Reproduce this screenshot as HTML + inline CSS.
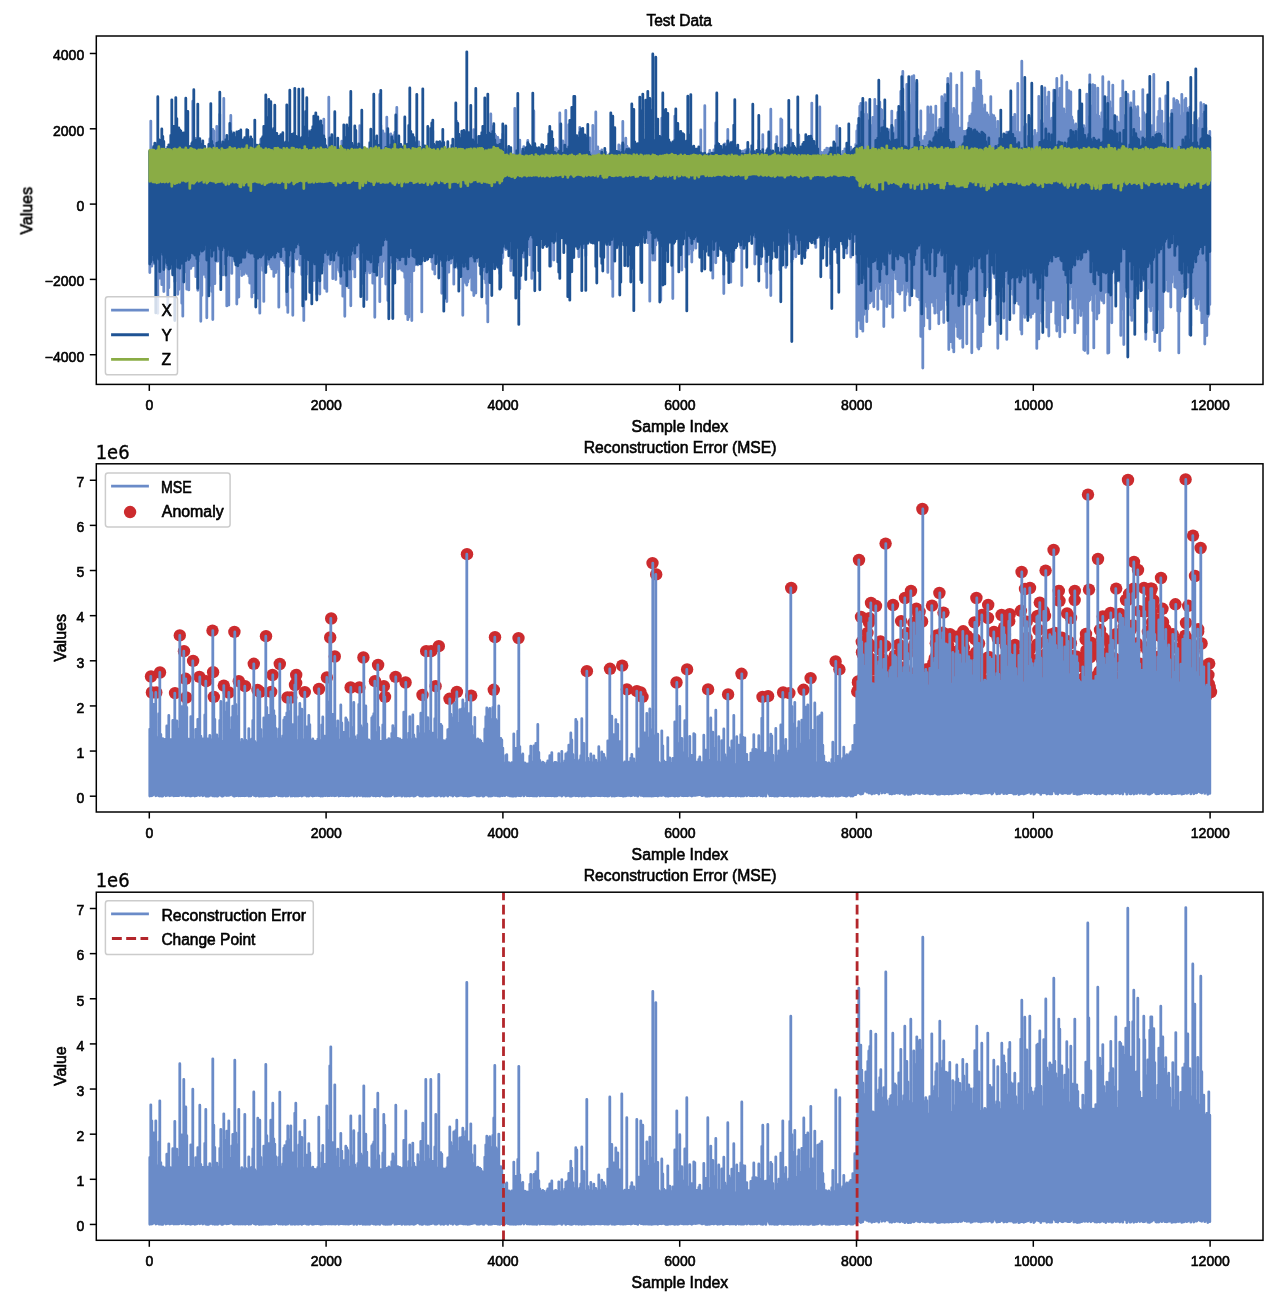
<!DOCTYPE html><html><head><meta charset="utf-8"><title>Test Data / Reconstruction Error</title><style>html,body{margin:0;padding:0;background:#fff;overflow:hidden}svg{display:block;filter:blur(0.45px)}text{font-family:'Liberation Sans', sans-serif;fill:#000;stroke:#000;stroke-width:0.6px;paint-order:stroke}</style></head><body>
<svg width="1280" height="1299" viewBox="0 0 1280 1299">
<rect width="1280" height="1299" fill="#fff"/>
<g style="opacity:0.999">
<g fill="none" stroke-width="2.8" stroke-linecap="round" stroke-linejoin="round">
<path stroke="#6a8bc8" d="M149.8 272.6V151.7M150.8 262.8V121.1M151.8 266.2V149.7M152.8 262.6V148.0M153.8 263.3V147.8M154.8 263.3V147.2M155.8 260.7V152.4M156.8 271.5V143.6M157.8 313.3V150.0M158.8 267.7V143.4M159.8 278.1V145.1M160.8 269.9V147.3M161.8 284.7V149.2M162.8 265.4V145.6M163.8 291.5V146.6M164.8 260.3V152.1M165.8 263.7V152.0M166.8 267.4V151.4M167.8 313.9V151.9M168.8 287.8V157.3M169.8 265.0V158.6M170.8 259.0V161.5M171.8 259.5V163.6M172.8 273.6V157.3M173.8 272.4V160.5M174.8 281.6V163.3M175.8 261.2V159.9M176.8 265.8V162.6M177.8 294.3V172.7M178.8 289.6V174.2M179.8 263.1V170.2M180.8 255.7V173.4M181.8 303.3V169.0M182.8 316.2V175.7M183.8 260.5V168.5M184.8 257.5V166.6M185.8 272.1V169.2M186.8 289.2V155.2M187.8 262.9V160.9M188.8 289.9V154.6M189.8 262.6V153.5M190.8 268.4V151.2M191.8 266.3V151.6M192.8 264.7V101.2M193.8 265.5V147.6M194.8 263.3V155.8M195.8 276.7V138.3M196.8 261.8V154.6M197.8 290.3V156.8M198.8 258.1V159.1M199.8 260.7V154.4M200.8 321.3V161.8M201.8 295.6V146.2M202.8 272.3V164.5M203.8 274.3V157.0M204.8 268.5V156.1M205.8 277.2V162.2M206.8 317.8V160.6M207.8 270.2V160.0M208.8 264.5V152.7M209.8 268.1V138.9M210.8 285.4V152.6M211.8 291.5V158.2M212.8 319.5V129.4M213.8 262.7V131.0M214.8 283.7V152.2M215.8 255.1V158.5M216.8 261.2V126.3M217.8 261.2V156.6M218.8 255.4V152.1M219.8 259.1V114.3M220.8 274.1V163.4M221.8 260.9V155.7M222.8 274.9V156.1M223.8 264.0V98.4M224.8 251.9V163.0M225.8 253.5V161.2M226.8 305.9V163.8M227.8 291.9V159.1M228.8 305.1V166.3M229.8 247.7V158.1M230.8 250.2V115.5M231.8 273.4V164.9M232.8 250.1V158.7M233.8 258.2V160.8M234.8 259.4V156.6M235.8 261.0V155.8M236.8 304.0V156.9M237.8 267.1V153.8M238.8 297.1V144.0M239.8 268.7V151.8M240.8 266.3V145.0M241.8 275.6V141.2M242.8 267.0V142.7M243.8 274.3V139.6M244.8 271.4V149.9M245.8 270.8V146.6M246.8 273.4V147.8M247.8 268.4V158.8M248.8 276.1V153.3M249.8 283.0V157.0M250.8 282.5V157.7M251.8 297.0V152.6M252.8 286.1V152.3M253.8 292.6V149.6M254.8 264.8V152.2M255.8 263.4V150.2M256.8 264.3V155.8M257.8 298.0V153.1M258.8 282.4V152.1M259.8 313.2V156.5M260.8 259.5V139.4M261.8 265.5V155.7M262.8 270.4V148.4M263.8 301.4V150.3M264.8 268.0V148.7M265.8 264.5V157.6M266.8 264.6V148.2M267.8 261.8V147.6M268.8 260.0V151.1M269.8 264.4V151.2M270.8 267.1V148.1M271.8 268.9V153.8M272.8 260.3V152.3M273.8 276.4V160.5M274.8 256.9V152.6M275.8 272.5V161.5M276.8 269.0V162.0M277.8 267.8V156.2M278.8 307.2V159.4M279.8 258.5V161.6M280.8 259.2V156.7M281.8 255.8V159.1M282.8 260.6V153.3M283.8 261.1V157.0M284.8 262.9V152.8M285.8 265.7V158.6M286.8 305.2V154.0M287.8 312.4V144.7M288.8 266.6V152.0M289.8 265.3V155.6M290.8 261.3V153.9M291.8 287.6V147.1M292.8 315.3V148.9M293.8 272.2V156.4M294.8 254.6V145.9M295.8 257.6V147.0M296.8 259.0V149.2M297.8 256.9V146.2M298.8 247.0V158.1M299.8 265.0V147.1M300.8 245.7V155.1M301.8 274.5V155.7M302.8 253.7V145.0M303.8 320.6V163.7M304.8 254.3V167.3M305.8 278.5V165.4M306.8 274.2V173.3M307.8 252.2V157.8M308.8 251.9V130.9M309.8 255.1V161.2M310.8 261.2V164.5M311.8 290.5V149.4M312.8 280.6V162.6M313.8 280.5V158.9M314.8 260.3V159.5M315.8 259.8V164.5M316.8 294.3V163.5M317.8 269.0V160.0M318.8 265.4V165.2M319.8 294.1V159.5M320.8 270.4V162.4M321.8 270.4V156.1M322.8 265.2V156.2M323.8 264.4V119.2M324.8 288.3V155.8M325.8 255.5V150.3M326.8 291.4V153.9M327.8 258.3V147.5M328.8 254.7V97.2M329.8 264.0V150.3M330.8 251.0V152.8M331.8 252.7V146.8M332.8 278.7V150.0M333.8 247.5V151.5M334.8 251.3V158.2M335.8 279.6V158.7M336.8 262.9V164.3M337.8 267.3V165.5M338.8 270.3V155.8M339.8 272.2V168.5M340.8 283.4V163.3M341.8 277.1V141.2M342.8 296.2V159.9M343.8 270.2V155.1M344.8 316.3V164.4M345.8 272.2V154.3M346.8 270.9V151.3M347.8 263.6V159.9M348.8 287.7V156.8M349.8 270.7V158.0M350.8 305.8V160.2M351.8 257.5V156.1M352.8 268.9V161.8M353.8 249.1V158.8M354.8 276.9V158.3M355.8 256.5V165.0M356.8 256.9V162.4M357.8 256.1V160.1M358.8 249.5V154.3M359.8 259.3V125.6M360.8 257.1V126.9M361.8 282.3V163.5M362.8 283.3V150.5M363.8 258.7V148.9M364.8 272.8V156.0M365.8 264.5V154.4M366.8 299.5V157.4M367.8 269.6V161.5M368.8 270.4V162.6M369.8 272.9V155.1M370.8 271.3V155.4M371.8 266.9V157.9M372.8 283.2V156.0M373.8 267.9V164.7M374.8 317.3V165.1M375.8 271.5V161.3M376.8 264.1V160.8M377.8 264.6V160.2M378.8 265.3V149.0M379.8 301.7V94.4M380.8 257.2V125.2M381.8 276.6V140.6M382.8 261.4V130.9M383.8 257.7V146.2M384.8 259.8V133.8M385.8 284.0V140.8M386.8 257.2V117.2M387.8 300.4V141.2M388.8 260.1V134.6M389.8 268.2V142.1M390.8 260.8V134.0M391.8 262.0V139.9M392.8 260.8V136.8M393.8 263.1V135.4M394.8 261.4V132.4M395.8 261.0V143.3M396.8 259.2V107.5M397.8 269.0V150.9M398.8 268.2V148.3M399.8 268.3V144.3M400.8 260.6V155.9M401.8 270.2V153.1M402.8 270.5V155.3M403.8 271.4V154.0M404.8 277.5V148.0M405.8 313.8V155.3M406.8 284.5V160.1M407.8 319.7V162.2M408.8 317.2V161.9M409.8 273.1V151.8M410.8 281.8V154.8M411.8 320.6V159.6M412.8 271.0V152.5M413.8 270.7V148.2M414.8 265.1V142.2M415.8 261.8V146.8M416.8 261.7V146.1M417.8 264.9V146.5M418.8 260.6V142.0M419.8 256.1V154.3M420.8 255.6V148.4M421.8 311.9V158.1M422.8 255.1V157.3M423.8 247.8V155.5M424.8 246.8V162.4M425.8 243.1V163.0M426.8 259.9V165.2M427.8 246.7V170.4M428.8 238.6V160.6M429.8 243.1V166.0M430.8 244.4V163.8M431.8 262.1V165.1M432.8 269.3V130.7M433.8 265.4V160.8M434.8 274.0V158.2M435.8 252.3V161.8M436.8 262.0V159.1M437.8 258.7V155.5M438.8 261.8V156.9M439.8 260.7V155.8M440.8 259.0V157.8M441.8 293.3V155.5M442.8 249.9V158.0M443.8 247.4V164.7M444.8 297.5V161.7M445.8 253.0V157.4M446.8 301.5V150.8M447.8 247.3V162.9M448.8 272.2V167.3M449.8 256.1V158.6M450.8 263.1V152.9M451.8 251.6V163.1M452.8 257.2V161.3M453.8 284.2V161.3M454.8 252.6V155.9M455.8 260.3V166.9M456.8 262.6V121.4M457.8 268.1V159.9M458.8 264.2V160.1M459.8 274.5V160.8M460.8 274.1V158.3M461.8 275.8V158.0M462.8 315.3V167.4M463.8 280.6V165.1M464.8 281.3V163.1M465.8 283.2V171.5M466.8 285.2V130.6M467.8 282.0V165.3M468.8 278.5V167.6M469.8 276.9V171.4M470.8 274.3V168.0M471.8 290.1V164.6M472.8 269.0V147.1M473.8 295.6V129.6M474.8 272.4V158.5M475.8 293.1V153.2M476.8 261.6V156.8M477.8 255.5V156.4M478.8 251.5V154.8M479.8 254.6V153.3M480.8 254.1V138.0M481.8 255.1V155.6M482.8 270.2V153.1M483.8 252.7V150.7M484.8 279.0V155.1M485.8 283.0V149.1M486.8 303.5V147.4M487.8 321.9V147.2M488.8 250.6V136.2M489.8 257.4V138.5M490.8 256.9V113.9M491.8 254.8V126.4M492.8 268.5V133.1M493.8 258.7V134.5M494.8 264.0V134.2M495.8 261.2V136.0M496.8 264.7V138.9M497.8 266.6V137.5M498.8 268.6V143.8M499.8 273.6V140.1M500.8 263.9V147.4M501.8 263.6V146.0M502.8 257.7V134.1M503.8 238.9V149.3M504.8 238.7V150.5M505.8 249.5V152.9M506.8 233.4V149.6M507.8 237.2V151.4M508.8 234.7V150.1M509.8 235.9V155.1M510.8 270.7V149.9M511.8 235.3V156.4M512.8 246.8V154.7M513.8 238.2V156.0M514.8 231.6V108.4M515.8 235.1V154.8M516.8 231.8V155.3M517.8 232.4V153.9M518.8 230.5V156.2M519.8 288.7V140.1M520.8 271.3V151.4M521.8 235.4V152.7M522.8 233.4V155.2M523.8 257.2V146.6M524.8 239.5V150.1M525.8 232.6V154.1M526.8 230.7V151.7M527.8 234.8V140.5M528.8 246.8V149.3M529.8 254.8V153.5M530.8 233.8V156.7M531.8 278.4V157.5M532.8 247.5V155.7M533.8 261.3V111.0M534.8 241.4V157.3M535.8 241.2V156.3M536.8 237.5V160.3M537.8 241.1V160.9M538.8 240.9V161.1M539.8 234.0V157.9M540.8 231.5V159.5M541.8 231.3V155.6M542.8 228.7V162.5M543.8 226.3V159.5M544.8 223.6V152.3M545.8 229.7V153.4M546.8 225.4V156.2M547.8 228.5V146.9M548.8 222.9V145.2M549.8 225.9V150.1M550.8 266.1V148.8M551.8 233.5V151.0M552.8 234.4V152.9M553.8 260.1V148.3M554.8 232.6V149.9M555.8 241.1V148.0M556.8 237.3V149.0M557.8 230.4V150.4M558.8 227.6V150.0M559.8 229.7V112.9M560.8 229.9V154.7M561.8 228.1V152.0M562.8 226.7V141.0M563.8 225.5V150.4M564.8 231.0V150.7M565.8 228.6V110.3M566.8 243.9V152.1M567.8 226.9V151.2M568.8 231.4V124.6M569.8 229.6V143.6M570.8 236.8V146.7M571.8 231.5V148.7M572.8 233.8V151.1M573.8 233.0V150.4M574.8 237.3V154.2M575.8 240.1V149.2M576.8 231.2V145.4M577.8 234.8V152.7M578.8 256.8V154.5M579.8 230.1V127.3M580.8 234.0V157.4M581.8 232.5V155.5M582.8 240.5V158.4M583.8 247.6V153.7M584.8 234.3V156.1M585.8 255.7V154.1M586.8 230.1V136.1M587.8 243.4V154.8M588.8 231.5V154.1M589.8 234.5V137.8M590.8 236.8V153.7M591.8 235.2V156.7M592.8 235.3V125.4M593.8 238.8V151.4M594.8 234.1V156.5M595.8 244.0V112.0M596.8 230.5V151.1M597.8 231.3V146.9M598.8 234.3V152.1M599.8 235.5V151.3M600.8 235.1V151.9M601.8 240.8V150.0M602.8 233.2V156.8M603.8 234.1V155.0M604.8 234.3V156.3M605.8 231.5V152.5M606.8 234.0V157.5M607.8 272.4V159.7M608.8 235.1V161.6M609.8 230.9V162.4M610.8 240.4V153.3M611.8 279.0V164.0M612.8 296.4V162.5M613.8 234.3V161.3M614.8 238.9V163.6M615.8 238.8V153.2M616.8 247.9V160.2M617.8 237.5V157.9M618.8 238.8V145.0M619.8 237.9V155.0M620.8 238.8V150.0M621.8 239.9V145.5M622.8 238.0V121.5M623.8 235.7V146.8M624.8 237.6V144.9M625.8 235.1V138.2M626.8 233.0V146.1M627.8 231.6V147.8M628.8 235.8V148.4M629.8 230.8V153.1M630.8 227.7V155.6M631.8 235.9V150.8M632.8 248.1V154.1M633.8 228.0V159.4M634.8 228.8V157.3M635.8 232.5V159.0M636.8 232.0V160.5M637.8 231.8V161.3M638.8 236.9V159.8M639.8 235.6V160.5M640.8 235.5V160.3M641.8 235.9V162.7M642.8 235.2V161.4M643.8 236.9V161.1M644.8 233.8V161.7M645.8 233.9V164.5M646.8 236.9V114.8M647.8 242.7V158.5M648.8 235.5V158.9M649.8 301.2V156.3M650.8 243.6V160.8M651.8 246.7V119.4M652.8 260.0V158.6M653.8 236.9V159.9M654.8 260.1V154.2M655.8 245.0V155.2M656.8 239.7V154.0M657.8 240.3V151.6M658.8 238.9V151.5M659.8 243.5V155.6M660.8 300.3V149.7M661.8 261.3V118.1M662.8 257.8V148.8M663.8 243.6V135.9M664.8 242.8V162.1M665.8 248.2V163.3M666.8 243.1V157.5M667.8 244.8V164.1M668.8 239.9V158.6M669.8 235.0V157.1M670.8 240.8V159.4M671.8 237.3V146.0M672.8 298.5V152.4M673.8 237.6V150.8M674.8 234.5V116.1M675.8 229.6V152.5M676.8 229.8V155.8M677.8 235.8V149.0M678.8 233.3V149.9M679.8 254.8V155.4M680.8 232.5V155.3M681.8 270.1V153.8M682.8 231.6V153.1M683.8 233.9V154.4M684.8 233.4V155.7M685.8 267.0V155.9M686.8 236.2V154.1M687.8 235.2V154.5M688.8 254.2V159.2M689.8 248.8V157.4M690.8 233.5V163.2M691.8 262.0V166.5M692.8 250.3V161.5M693.8 240.5V162.9M694.8 233.1V162.6M695.8 248.2V159.9M696.8 231.4V155.4M697.8 234.2V153.1M698.8 235.8V148.7M699.8 234.3V154.6M700.8 242.6V130.0M701.8 234.2V154.3M702.8 236.3V157.2M703.8 236.7V158.1M704.8 238.0V105.7M705.8 236.3V159.9M706.8 237.6V159.5M707.8 236.8V160.9M708.8 237.9V153.7M709.8 240.0V150.4M710.8 241.7V155.4M711.8 237.4V157.0M712.8 278.2V153.0M713.8 238.6V150.0M714.8 234.8V158.2M715.8 262.8V123.0M716.8 255.0V151.1M717.8 228.7V154.1M718.8 233.6V156.9M719.8 235.0V155.0M720.8 226.8V159.2M721.8 227.8V158.8M722.8 227.1V157.7M723.8 293.5V150.8M724.8 230.7V143.9M725.8 244.6V153.7M726.8 255.9V158.8M727.8 228.7V129.4M728.8 225.0V153.5M729.8 232.2V157.5M730.8 282.2V152.8M731.8 229.0V156.1M732.8 227.8V157.7M733.8 260.6V154.6M734.8 227.1V157.5M735.8 228.7V154.6M736.8 227.9V161.8M737.8 230.9V156.7M738.8 229.5V154.3M739.8 233.6V160.7M740.8 247.8V151.5M741.8 285.5V156.6M742.8 233.8V151.1M743.8 232.3V154.8M744.8 245.3V150.5M745.8 231.2V149.8M746.8 226.1V149.8M747.8 230.5V154.7M748.8 231.5V149.4M749.8 228.9V155.9M750.8 231.5V152.0M751.8 233.1V153.3M752.8 236.2V155.5M753.8 235.7V155.4M754.8 264.0V157.9M755.8 252.5V152.0M756.8 235.4V155.0M757.8 238.9V151.3M758.8 237.2V140.7M759.8 263.4V152.9M760.8 263.9V153.5M761.8 245.1V161.7M762.8 243.6V134.7M763.8 244.6V163.5M764.8 239.1V171.3M765.8 271.5V167.7M766.8 287.6V173.3M767.8 238.1V168.5M768.8 236.6V172.7M769.8 236.5V171.5M770.8 295.6V109.2M771.8 258.6V165.2M772.8 231.7V163.0M773.8 229.0V159.2M774.8 227.2V160.8M775.8 231.7V160.2M776.8 232.6V136.6M777.8 237.2V156.1M778.8 236.5V154.8M779.8 269.8V158.8M780.8 237.1V118.8M781.8 237.6V119.8M782.8 240.4V156.0M783.8 242.7V158.5M784.8 244.8V158.2M785.8 267.4V157.9M786.8 237.5V160.8M787.8 238.1V157.9M788.8 241.5V150.7M789.8 243.6V155.3M790.8 238.4V129.9M791.8 261.9V156.1M792.8 258.9V152.7M793.8 236.7V155.1M794.8 240.4V157.6M795.8 256.8V154.2M796.8 233.7V160.2M797.8 241.3V162.1M798.8 243.2V135.0M799.8 238.5V158.3M800.8 239.1V166.5M801.8 238.4V164.9M802.8 244.9V160.8M803.8 240.4V163.9M804.8 242.7V160.5M805.8 250.4V156.1M806.8 239.8V157.2M807.8 238.6V154.7M808.8 240.8V155.2M809.8 236.9V154.4M810.8 235.9V153.9M811.8 236.6V103.1M812.8 235.6V150.8M813.8 231.1V152.9M814.8 230.5V153.6M815.8 247.4V154.9M816.8 227.5V153.3M817.8 231.5V152.6M818.8 237.2V157.4M819.8 235.1V107.0M820.8 230.5V152.1M821.8 230.5V154.3M822.8 232.0V152.6M823.8 243.2V152.1M824.8 236.2V150.2M825.8 237.2V151.9M826.8 238.2V148.1M827.8 240.4V152.2M828.8 239.2V148.7M829.8 246.8V152.2M830.8 278.1V152.4M831.8 242.5V150.7M832.8 248.5V152.6M833.8 240.1V155.2M834.8 241.2V154.4M835.8 240.4V157.6M836.8 252.2V125.9M837.8 239.9V154.3M838.8 240.9V156.7M839.8 239.6V161.5M840.8 237.6V155.0M841.8 237.6V155.3M842.8 236.2V151.4M843.8 247.1V152.8M844.8 235.1V149.0M845.8 233.8V149.7M846.8 253.2V156.4M847.8 232.6V146.2M848.8 228.9V149.8M849.8 238.3V149.8M850.8 257.2V147.2M851.8 246.2V153.5M852.8 238.7V152.7M853.8 241.7V156.4M854.8 240.8V151.6M855.8 239.4V144.4M856.8 336.7V130.9M857.8 315.3V125.3M858.8 320.2V146.3M859.8 315.8V106.2M860.8 328.7V103.5M861.8 324.2V130.0M862.8 331.2V132.1M863.8 314.6V125.5M864.8 307.6V114.4M865.8 298.5V102.7M866.8 321.7V114.5M867.8 309.1V128.7M868.8 292.2V120.8M869.8 302.9V128.8M870.8 301.5V131.3M871.8 300.6V125.4M872.8 298.7V117.3M873.8 306.8V121.2M874.8 288.9V99.5M875.8 286.2V106.7M876.8 285.5V106.3M877.8 309.3V111.7M878.8 288.7V112.0M879.8 282.5V102.1M880.8 284.8V109.2M881.8 299.1V109.8M882.8 298.4V121.0M883.8 326.6V136.1M884.8 282.8V137.1M885.8 281.8V142.4M886.8 306.5V139.7M887.8 280.6V149.5M888.8 283.0V129.7M889.8 303.7V142.5M890.8 290.3V145.0M891.8 278.8V111.1M892.8 317.3V127.6M893.8 272.2V132.7M894.8 272.0V135.1M895.8 278.8V120.5M896.8 273.5V135.6M897.8 291.8V112.5M898.8 278.8V116.8M899.8 294.0V107.7M900.8 277.1V91.4M901.8 290.2V115.3M902.8 276.1V71.5M903.8 283.5V112.0M904.8 310.5V121.3M905.8 294.7V123.5M906.8 287.6V84.3M907.8 281.9V100.1M908.8 291.5V102.4M909.8 305.0V105.5M910.8 285.4V111.5M911.8 284.3V76.7M912.8 287.5V98.9M913.8 274.5V75.6M914.8 288.3V92.1M915.8 277.2V109.4M916.8 296.2V83.0M917.8 296.8V129.6M918.8 296.0V137.0M919.8 300.1V138.9M920.8 336.4V111.0M921.8 310.3V146.9M922.8 368.0V140.9M923.8 326.1V147.3M924.8 302.0V136.5M925.8 286.0V145.3M926.8 306.5V132.3M927.8 317.9V106.9M928.8 302.9V136.8M929.8 328.9V114.6M930.8 301.7V107.0M931.8 302.0V127.0M932.8 301.7V115.0M933.8 306.1V133.1M934.8 313.2V139.2M935.8 297.7V106.1M936.8 297.6V134.4M937.8 313.0V132.4M938.8 323.8V127.6M939.8 286.9V119.3M940.8 309.6V125.1M941.8 280.3V96.7M942.8 308.5V113.3M943.8 322.5V98.6M944.8 277.6V94.6M945.8 291.5V114.8M946.8 300.2V111.3M947.8 305.0V78.3M948.8 349.5V118.0M949.8 284.2V86.0M950.8 341.7V73.6M951.8 292.8V114.5M952.8 347.8V132.1M953.8 351.9V108.5M954.8 322.1V110.5M955.8 303.5V132.1M956.8 326.8V85.1M957.8 336.5V115.7M958.8 305.4V141.0M959.8 338.4V128.1M960.8 337.7V129.8M961.8 337.3V72.8M962.8 347.3V131.5M963.8 301.7V131.4M964.8 301.1V145.8M965.8 301.3V131.1M966.8 343.8V130.9M967.8 298.8V134.4M968.8 304.2V122.9M969.8 301.8V116.2M970.8 297.2V116.7M971.8 352.8V113.9M972.8 296.9V102.8M973.8 297.8V88.1M974.8 289.9V90.9M975.8 288.6V103.9M976.8 313.4V71.5M977.8 347.3V73.6M978.8 349.0V71.6M979.8 299.2V98.1M980.8 345.9V80.5M981.8 297.5V95.9M982.8 331.7V111.8M983.8 316.6V108.6M984.8 294.3V104.8M985.8 290.1V117.9M986.8 287.1V112.9M987.8 271.8V114.8M988.8 266.8V117.1M989.8 292.8V117.9M990.8 298.4V96.6M991.8 266.0V114.6M992.8 268.9V123.5M993.8 272.0V115.7M994.8 277.6V117.8M995.8 272.9V129.2M996.8 321.0V137.0M997.8 348.3V121.3M998.8 284.5V148.5M999.8 294.6V150.2M1000.8 297.1V139.7M1001.8 283.7V144.4M1002.8 282.6V144.7M1003.8 318.0V139.6M1004.8 276.7V136.6M1005.8 273.3V138.3M1006.8 339.4V132.2M1007.8 281.2V150.3M1008.8 276.0V145.1M1009.8 277.8V147.3M1010.8 273.5V148.4M1011.8 288.8V145.1M1012.8 294.4V117.3M1013.8 313.2V146.7M1014.8 296.2V114.4M1015.8 291.3V131.8M1016.8 300.7V143.4M1017.8 289.5V83.4M1018.8 304.0V145.4M1019.8 304.5V132.6M1020.8 329.7V151.1M1021.8 334.1V61.2M1022.8 310.6V159.6M1023.8 313.5V164.3M1024.8 317.4V126.7M1025.8 312.7V124.5M1026.8 314.1V165.6M1027.8 306.1V136.7M1028.8 313.1V153.9M1029.8 315.0V133.4M1030.8 317.3V118.7M1031.8 300.3V145.3M1032.8 313.5V143.1M1033.8 297.9V136.3M1034.8 311.6V130.5M1035.8 302.9V139.4M1036.8 348.4V135.5M1037.8 294.6V133.1M1038.8 338.9V96.5M1039.8 298.7V131.7M1040.8 313.0V121.0M1041.8 321.3V135.8M1042.8 310.8V125.6M1043.8 289.3V123.6M1044.8 284.8V88.0M1045.8 300.5V121.8M1046.8 327.0V106.3M1047.8 282.6V96.8M1048.8 336.1V92.1M1049.8 303.3V120.9M1050.8 311.8V121.6M1051.8 295.2V118.2M1052.8 300.0V123.9M1053.8 296.6V90.2M1054.8 300.3V98.6M1055.8 323.6V127.7M1056.8 331.1V78.4M1057.8 324.5V120.5M1058.8 303.7V98.0M1059.8 336.8V88.5M1060.8 302.2V113.5M1061.8 299.0V75.7M1062.8 314.8V122.3M1063.8 310.6V108.9M1064.8 332.1V114.2M1065.8 280.8V122.5M1066.8 281.9V82.2M1067.8 283.1V129.4M1068.8 282.1V90.6M1069.8 299.2V100.1M1070.8 286.8V91.9M1071.8 278.1V116.9M1072.8 308.1V120.3M1073.8 295.5V129.3M1074.8 332.7V125.4M1075.8 294.7V124.0M1076.8 297.2V130.6M1077.8 323.1V134.7M1078.8 308.3V129.0M1079.8 304.0V129.4M1080.8 315.6V121.6M1081.8 310.4V131.1M1082.8 307.9V141.9M1083.8 349.7V125.6M1084.8 350.5V135.8M1085.8 333.9V128.2M1086.8 302.9V94.1M1087.8 353.3V117.0M1088.8 301.1V117.1M1089.8 299.8V74.8M1090.8 292.1V112.2M1091.8 295.1V105.9M1092.8 310.7V84.6M1093.8 347.9V119.8M1094.8 289.4V85.4M1095.8 293.6V114.8M1096.8 319.0V126.8M1097.8 295.2V88.1M1098.8 313.1V116.2M1099.8 294.6V119.3M1100.8 298.5V129.2M1101.8 300.4V112.7M1102.8 298.0V76.7M1103.8 303.0V115.3M1104.8 292.5V119.1M1105.8 291.7V130.0M1106.8 290.4V120.8M1107.8 353.2V97.2M1108.8 352.7V81.9M1109.8 287.6V101.6M1110.8 272.0V122.0M1111.8 322.8V108.5M1112.8 268.8V85.1M1113.8 270.4V115.6M1114.8 272.1V116.3M1115.8 283.3V124.9M1116.8 277.6V116.8M1117.8 275.6V121.9M1118.8 270.2V122.6M1119.8 281.5V123.6M1120.8 335.4V98.5M1121.8 287.7V105.2M1122.8 309.3V80.8M1123.8 344.6V115.5M1124.8 279.3V119.0M1125.8 287.3V119.3M1126.8 296.5V104.2M1127.8 292.3V94.3M1128.8 296.9V105.3M1129.8 297.3V110.5M1130.8 315.2V102.8M1131.8 320.4V111.5M1132.8 293.7V110.5M1133.8 307.5V91.4M1134.8 296.5V106.6M1135.8 293.5V110.9M1136.8 285.6V109.5M1137.8 294.0V106.7M1138.8 283.1V117.9M1139.8 282.7V133.0M1140.8 283.7V131.8M1141.8 290.2V134.6M1142.8 280.7V89.6M1143.8 274.0V112.6M1144.8 275.4V142.9M1145.8 339.3V139.0M1146.8 322.4V145.9M1147.8 286.3V131.8M1148.8 288.3V150.6M1149.8 307.1V146.3M1150.8 310.8V149.1M1151.8 305.4V125.7M1152.8 305.8V144.5M1153.8 330.1V74.3M1154.8 341.7V158.9M1155.8 311.3V145.6M1156.8 308.3V132.1M1157.8 309.2V117.0M1158.8 303.9V111.2M1159.8 350.5V98.7M1160.8 315.0V137.8M1161.8 330.5V111.2M1162.8 328.0V139.8M1163.8 287.9V143.7M1164.8 290.0V123.4M1165.8 279.8V95.9M1166.8 274.2V140.9M1167.8 291.0V137.1M1168.8 291.0V123.9M1169.8 279.5V125.5M1170.8 307.1V117.6M1171.8 282.3V110.3M1172.8 272.2V114.4M1173.8 274.6V98.6M1174.8 286.9V112.4M1175.8 273.4V103.0M1176.8 288.2V100.3M1177.8 311.0V101.4M1178.8 352.9V104.7M1179.8 311.3V115.8M1180.8 297.6V126.5M1181.8 296.2V94.3M1182.8 281.8V113.3M1183.8 275.8V114.2M1184.8 288.9V99.9M1185.8 294.0V98.5M1186.8 287.6V108.2M1187.8 283.5V109.9M1188.8 286.7V117.5M1189.8 334.5V107.1M1190.8 325.7V125.2M1191.8 289.0V127.3M1192.8 297.9V125.4M1193.8 292.1V143.7M1194.8 295.7V140.4M1195.8 304.6V133.6M1196.8 308.7V120.5M1197.8 304.3V128.4M1198.8 298.6V130.6M1199.8 299.3V118.5M1200.8 310.6V102.7M1201.8 322.8V129.4M1202.8 322.5V114.1M1203.8 301.4V104.5M1204.8 344.0V120.8M1205.8 310.5V127.5M1206.8 335.6V138.8M1207.8 316.6V135.8M1208.8 314.4V138.3M1209.8 304.5V131.4"/>
<path stroke="#1f5394" d="M149.8 264.1V151.2M150.8 261.8V154.6M151.8 252.4V151.8M152.8 254.8V150.2M153.8 260.0V146.3M154.8 262.4V143.2M155.8 312.9V145.4M156.8 256.4V146.2M157.8 257.5V96.7M158.8 259.2V139.6M159.8 271.7V144.2M160.8 251.7V140.1M161.8 250.4V128.9M162.8 254.4V136.5M163.8 269.5V141.5M164.8 257.6V149.5M165.8 256.9V150.8M166.8 262.8V149.4M167.8 265.0V147.1M168.8 269.0V144.8M169.8 268.4V149.5M170.8 264.3V135.4M171.8 259.4V99.8M172.8 274.9V133.3M173.8 257.5V126.4M174.8 320.5V127.7M175.8 258.0V97.6M176.8 255.5V118.6M177.8 267.3V128.8M178.8 266.2V127.9M179.8 268.2V130.0M180.8 262.8V130.9M181.8 263.3V132.9M182.8 263.2V136.9M183.8 282.1V133.0M184.8 259.0V144.5M185.8 260.6V98.2M186.8 253.9V146.2M187.8 255.4V111.5M188.8 259.5V146.4M189.8 257.7V146.4M190.8 249.7V146.2M191.8 252.5V143.5M192.8 253.1V142.0M193.8 253.5V89.7M194.8 255.1V146.9M195.8 251.1V140.1M196.8 258.7V142.5M197.8 288.3V104.1M198.8 254.4V144.2M199.8 249.2V138.6M200.8 244.3V143.8M201.8 251.2V144.6M202.8 250.6V140.8M203.8 249.4V147.6M204.8 244.3V146.5M205.8 244.3V152.6M206.8 260.0V151.9M207.8 248.6V152.6M208.8 295.9V144.5M209.8 247.2V146.8M210.8 248.0V103.6M211.8 256.3V141.3M212.8 250.5V145.5M213.8 249.9V150.7M214.8 249.6V153.8M215.8 260.5V152.7M216.8 244.6V143.1M217.8 239.5V145.4M218.8 246.1V141.9M219.8 249.3V92.2M220.8 289.7V144.7M221.8 250.1V145.1M222.8 245.8V142.0M223.8 241.5V147.1M224.8 247.7V142.4M225.8 275.2V139.7M226.8 255.7V135.5M227.8 249.5V142.4M228.8 248.3V141.5M229.8 255.1V123.5M230.8 255.3V131.3M231.8 251.1V134.3M232.8 255.9V134.5M233.8 253.6V133.0M234.8 261.2V139.1M235.8 264.8V137.3M236.8 257.5V132.0M237.8 265.8V133.0M238.8 262.9V131.5M239.8 261.7V135.8M240.8 262.2V129.9M241.8 257.1V141.4M242.8 257.2V140.2M243.8 254.0V144.1M244.8 257.3V137.7M245.8 250.4V138.4M246.8 242.3V129.6M247.8 247.9V130.2M248.8 251.9V139.3M249.8 244.6V142.8M250.8 253.2V137.0M251.8 241.1V139.2M252.8 253.1V151.1M253.8 253.3V148.4M254.8 256.8V120.1M255.8 307.1V150.1M256.8 252.2V145.1M257.8 258.2V146.6M258.8 256.8V145.7M259.8 253.4V144.8M260.8 257.1V147.5M261.8 255.5V138.4M262.8 254.5V136.6M263.8 252.2V126.4M264.8 251.1V132.6M265.8 272.6V94.9M266.8 252.9V117.3M267.8 254.4V124.2M268.8 259.2V99.4M269.8 246.0V121.4M270.8 256.9V101.6M271.8 255.2V129.9M272.8 254.3V130.6M273.8 252.1V128.3M274.8 257.2V105.2M275.8 252.9V135.1M276.8 247.3V133.3M277.8 250.7V137.5M278.8 251.6V136.3M279.8 245.8V141.3M280.8 256.7V134.7M281.8 245.6V142.2M282.8 246.6V132.7M283.8 246.3V149.3M284.8 245.0V143.0M285.8 250.0V141.9M286.8 291.7V104.8M287.8 274.9V142.6M288.8 255.3V145.8M289.8 250.0V90.2M290.8 247.8V138.5M291.8 250.5V134.4M292.8 271.1V136.0M293.8 251.9V133.3M294.8 244.7V88.3M295.8 247.2V136.2M296.8 244.0V137.2M297.8 241.5V136.6M298.8 237.0V89.2M299.8 245.0V138.5M300.8 253.7V141.6M301.8 250.3V137.4M302.8 305.9V88.8M303.8 257.7V127.0M304.8 249.1V145.4M305.8 299.3V111.5M306.8 254.1V97.7M307.8 259.2V138.1M308.8 260.0V139.0M309.8 292.3V131.8M310.8 260.8V133.5M311.8 303.9V130.1M312.8 254.4V126.6M313.8 262.1V116.1M314.8 263.9V119.0M315.8 254.0V112.8M316.8 300.1V120.5M317.8 252.3V116.8M318.8 277.3V121.7M319.8 280.9V121.6M320.8 248.6V120.8M321.8 273.2V125.3M322.8 262.1V137.4M323.8 247.9V136.0M324.8 252.5V139.2M325.8 249.0V145.6M326.8 245.5V148.8M327.8 254.5V152.1M328.8 252.2V149.7M329.8 250.5V138.0M330.8 259.8V151.7M331.8 251.7V134.7M332.8 246.3V152.8M333.8 260.2V154.1M334.8 253.2V111.7M335.8 251.0V150.6M336.8 248.1V155.4M337.8 249.5V138.1M338.8 255.2V149.3M339.8 250.7V152.4M340.8 276.3V148.3M341.8 263.3V147.9M342.8 256.3V145.9M343.8 256.0V124.8M344.8 270.1V145.2M345.8 258.7V137.5M346.8 285.8V124.9M347.8 248.3V138.6M348.8 255.0V128.0M349.8 269.2V117.4M350.8 254.6V91.4M351.8 250.7V143.2M352.8 245.2V145.7M353.8 245.7V149.5M354.8 253.2V126.0M355.8 238.2V130.4M356.8 245.0V150.8M357.8 240.4V147.1M358.8 242.0V143.8M359.8 242.8V153.9M360.8 296.7V150.7M361.8 248.4V110.2M362.8 252.3V158.8M363.8 306.6V148.0M364.8 270.9V157.9M365.8 256.5V161.2M366.8 258.5V154.9M367.8 259.4V157.9M368.8 255.5V160.5M369.8 259.4V142.7M370.8 262.1V129.2M371.8 254.0V158.2M372.8 252.7V151.3M373.8 271.6V94.2M374.8 255.0V140.9M375.8 271.5V142.0M376.8 275.3V135.9M377.8 262.2V145.8M378.8 255.3V145.4M379.8 249.3V148.6M380.8 254.6V90.3M381.8 242.9V151.9M382.8 245.2V152.7M383.8 239.9V154.8M384.8 236.1V153.2M385.8 236.7V147.3M386.8 239.4V154.6M387.8 234.5V128.6M388.8 318.8V151.6M389.8 237.1V147.5M390.8 254.9V145.0M391.8 244.5V137.0M392.8 318.6V140.7M393.8 248.9V144.4M394.8 283.1V149.2M395.8 256.8V115.0M396.8 250.9V145.6M397.8 257.6V150.1M398.8 254.7V135.9M399.8 259.9V148.0M400.8 254.7V144.5M401.8 256.5V147.0M402.8 250.1V150.8M403.8 256.5V146.6M404.8 254.1V117.0M405.8 264.0V144.3M406.8 254.5V145.4M407.8 247.8V144.2M408.8 256.7V125.4M409.8 243.4V88.0M410.8 247.5V131.3M411.8 247.7V136.7M412.8 255.8V134.7M413.8 256.4V137.3M414.8 257.0V143.3M415.8 257.2V143.8M416.8 264.0V94.3M417.8 263.2V148.0M418.8 256.3V149.3M419.8 263.8V147.2M420.8 263.9V152.2M421.8 261.3V154.3M422.8 251.4V88.8M423.8 256.0V151.5M424.8 260.8V145.8M425.8 258.2V164.2M426.8 253.8V163.6M427.8 259.0V126.5M428.8 255.0V157.3M429.8 256.8V156.4M430.8 255.0V128.3M431.8 257.1V122.9M432.8 247.7V120.1M433.8 253.1V144.2M434.8 246.3V145.6M435.8 263.8V150.4M436.8 252.9V141.9M437.8 254.3V146.0M438.8 278.1V142.1M439.8 254.1V141.7M440.8 258.8V143.5M441.8 260.0V153.6M442.8 265.9V129.4M443.8 311.2V142.3M444.8 298.4V150.7M445.8 260.5V149.6M446.8 248.5V150.0M447.8 254.1V141.7M448.8 259.8V153.5M449.8 251.1V153.3M450.8 258.3V156.8M451.8 258.2V145.3M452.8 255.0V139.2M453.8 253.9V156.8M454.8 267.2V159.6M455.8 258.5V103.0M456.8 261.2V145.0M457.8 266.5V123.5M458.8 291.2V134.2M459.8 264.3V142.0M460.8 276.7V138.4M461.8 259.9V131.2M462.8 262.4V138.6M463.8 266.4V130.5M464.8 255.6V133.7M465.8 262.0V132.3M466.8 266.2V51.8M467.8 268.9V142.3M468.8 256.6V132.7M469.8 255.6V138.5M470.8 255.9V105.4M471.8 251.7V143.5M472.8 253.7V139.8M473.8 257.6V141.9M474.8 261.2V147.4M475.8 251.3V88.4M476.8 257.8V145.4M477.8 256.4V145.0M478.8 256.9V136.5M479.8 265.8V138.3M480.8 274.3V136.1M481.8 296.9V132.6M482.8 255.3V126.3M483.8 266.7V135.7M484.8 261.7V97.8M485.8 256.6V137.1M486.8 272.0V135.2M487.8 269.5V94.1M488.8 257.5V132.8M489.8 282.6V133.8M490.8 266.1V134.2M491.8 295.6V136.6M492.8 262.0V131.5M493.8 260.8V123.7M494.8 268.8V139.9M495.8 264.4V144.7M496.8 263.7V145.7M497.8 267.1V145.4M498.8 258.8V147.8M499.8 289.2V144.5M500.8 287.5V145.8M501.8 252.7V139.8M502.8 246.5V123.9M503.8 243.6V154.7M504.8 240.9V160.4M505.8 247.4V125.9M506.8 238.9V157.1M507.8 248.7V158.6M508.8 255.8V146.5M509.8 237.4V154.9M510.8 241.1V147.6M511.8 258.1V159.9M512.8 242.2V160.4M513.8 275.2V160.5M514.8 238.4V161.9M515.8 298.2V160.3M516.8 245.8V150.6M517.8 247.4V93.5M518.8 324.4V160.2M519.8 248.8V160.9M520.8 275.5V159.6M521.8 253.0V160.3M522.8 244.5V149.1M523.8 250.3V152.6M524.8 241.9V152.4M525.8 279.6V147.9M526.8 265.6V147.2M527.8 239.3V142.7M528.8 236.6V144.3M529.8 234.6V145.7M530.8 234.6V147.2M531.8 232.5V148.8M532.8 237.5V93.1M533.8 270.5V152.0M534.8 290.8V143.7M535.8 226.7V147.7M536.8 244.7V148.5M537.8 245.1V148.4M538.8 270.8V147.6M539.8 289.8V151.5M540.8 238.3V148.9M541.8 238.8V144.7M542.8 247.6V145.1M543.8 245.1V151.8M544.8 239.5V149.9M545.8 243.8V149.3M546.8 246.5V146.5M547.8 245.3V150.6M548.8 239.2V134.0M549.8 266.2V126.4M550.8 241.3V151.2M551.8 240.7V131.6M552.8 240.1V139.1M553.8 242.5V156.0M554.8 240.5V152.4M555.8 230.1V153.5M556.8 231.5V157.8M557.8 262.0V153.3M558.8 272.2V151.4M559.8 278.4V155.6M560.8 228.0V123.9M561.8 237.8V153.2M562.8 230.4V154.7M563.8 252.7V152.8M564.8 231.2V145.1M565.8 242.5V148.9M566.8 235.8V149.3M567.8 296.7V152.1M568.8 242.3V146.8M569.8 300.2V120.3M570.8 245.9V143.9M571.8 271.8V107.3M572.8 251.3V142.0M573.8 257.6V96.5M574.8 244.7V96.4M575.8 246.2V138.4M576.8 245.7V135.7M577.8 248.7V138.1M578.8 247.3V138.8M579.8 244.2V132.4M580.8 242.4V129.0M581.8 290.7V133.7M582.8 243.7V128.4M583.8 243.3V135.2M584.8 239.8V134.8M585.8 290.4V138.2M586.8 242.2V141.6M587.8 242.9V124.4M588.8 236.3V152.1M589.8 240.5V154.8M590.8 242.3V156.5M591.8 242.5V157.1M592.8 243.1V162.0M593.8 242.8V157.5M594.8 243.3V161.7M595.8 266.4V162.0M596.8 283.1V162.7M597.8 238.8V158.1M598.8 240.0V155.9M599.8 238.4V159.4M600.8 256.5V156.4M601.8 263.4V152.2M602.8 271.1V156.0M603.8 257.5V156.6M604.8 241.6V148.4M605.8 242.5V157.9M606.8 244.4V159.1M607.8 241.2V155.9M608.8 239.5V160.5M609.8 244.5V153.9M610.8 235.7V112.8M611.8 239.6V160.4M612.8 234.0V116.2M613.8 236.6V151.4M614.8 261.2V127.7M615.8 247.6V157.3M616.8 247.3V151.3M617.8 238.8V153.1M618.8 244.6V151.8M619.8 295.0V153.1M620.8 282.2V153.2M621.8 236.8V152.2M622.8 241.0V142.9M623.8 245.0V159.6M624.8 265.7V154.4M625.8 244.9V151.4M626.8 239.2V149.3M627.8 266.1V151.5M628.8 243.5V149.3M629.8 254.5V149.8M630.8 282.1V151.2M631.8 247.8V104.0M632.8 268.2V144.0M633.8 310.7V109.5M634.8 245.4V141.9M635.8 244.8V146.5M636.8 239.8V143.9M637.8 245.1V143.7M638.8 242.0V145.0M639.8 235.2V97.1M640.8 280.0V147.4M641.8 282.5V110.7M642.8 233.7V94.1M643.8 234.7V140.0M644.8 242.6V147.2M645.8 238.0V100.1M646.8 229.3V119.4M647.8 227.7V91.5M648.8 230.1V140.7M649.8 229.1V98.4M650.8 229.8V110.3M651.8 232.8V141.2M652.8 253.2V54.0M653.8 237.2V143.7M654.8 237.5V140.5M655.8 235.6V57.2M656.8 236.0V143.1M657.8 237.7V119.1M658.8 240.1V140.8M659.8 302.0V136.4M660.8 241.9V140.4M661.8 246.1V137.5M662.8 285.0V92.9M663.8 247.3V110.5M664.8 284.1V138.2M665.8 250.5V109.3M666.8 248.7V145.5M667.8 261.8V113.5M668.8 242.4V139.8M669.8 242.2V142.3M670.8 239.4V146.2M671.8 265.4V143.6M672.8 239.3V141.8M673.8 243.3V142.8M674.8 241.7V140.4M675.8 239.0V108.8M676.8 238.4V136.6M677.8 238.3V123.3M678.8 271.9V140.9M679.8 254.6V131.6M680.8 254.8V131.4M681.8 228.9V136.4M682.8 244.2V133.7M683.8 238.7V134.5M684.8 228.9V141.5M685.8 230.3V142.6M686.8 310.9V140.9M687.8 235.1V96.2M688.8 235.4V135.0M689.8 235.8V144.8M690.8 237.8V94.6M691.8 243.5V146.7M692.8 230.0V149.2M693.8 238.7V146.2M694.8 236.9V150.6M695.8 233.6V149.2M696.8 235.5V149.1M697.8 241.4V156.5M698.8 240.6V146.8M699.8 257.3V154.2M700.8 240.0V153.0M701.8 271.1V153.8M702.8 249.1V153.7M703.8 241.2V159.6M704.8 269.1V153.2M705.8 251.5V154.8M706.8 244.1V156.0M707.8 244.5V156.0M708.8 255.2V154.1M709.8 237.5V158.2M710.8 270.3V158.5M711.8 239.3V153.2M712.8 238.8V157.3M713.8 249.5V153.5M714.8 241.4V153.0M715.8 238.2V145.6M716.8 240.6V93.0M717.8 255.7V143.4M718.8 245.6V144.1M719.8 237.7V148.6M720.8 249.3V146.5M721.8 246.4V149.7M722.8 250.8V152.5M723.8 274.2V144.9M724.8 252.3V150.5M725.8 253.1V147.4M726.8 246.8V146.7M727.8 260.6V140.8M728.8 282.7V144.8M729.8 251.5V144.5M730.8 247.8V142.7M731.8 260.8V145.1M732.8 261.6V142.0M733.8 250.3V125.2M734.8 242.6V99.7M735.8 247.7V148.0M736.8 245.9V148.0M737.8 239.7V145.1M738.8 241.2V150.8M739.8 242.0V150.6M740.8 245.1V154.3M741.8 237.5V156.2M742.8 238.9V153.8M743.8 248.4V162.0M744.8 244.6V154.6M745.8 244.9V158.4M746.8 267.3V151.5M747.8 237.0V142.5M748.8 241.0V161.2M749.8 234.2V163.5M750.8 233.4V157.1M751.8 243.5V145.6M752.8 235.1V104.2M753.8 231.9V151.3M754.8 227.4V154.8M755.8 237.1V154.2M756.8 254.2V150.4M757.8 233.0V157.7M758.8 281.0V115.4M759.8 236.7V151.2M760.8 255.8V154.1M761.8 256.6V153.2M762.8 240.1V149.7M763.8 241.4V157.8M764.8 246.5V155.0M765.8 249.1V153.3M766.8 261.5V150.3M767.8 252.7V148.7M768.8 254.5V131.9M769.8 252.7V150.3M770.8 273.3V152.9M771.8 258.6V151.7M772.8 240.4V151.0M773.8 240.5V153.0M774.8 251.2V153.0M775.8 256.9V144.3M776.8 257.3V154.2M777.8 240.9V148.1M778.8 244.6V155.1M779.8 242.4V153.0M780.8 301.8V158.5M781.8 248.0V148.9M782.8 265.1V152.3M783.8 243.2V156.7M784.8 241.6V147.7M785.8 249.6V148.9M786.8 265.1V153.6M787.8 224.1V145.4M788.8 227.7V100.3M789.8 232.4V148.0M790.8 241.3V151.4M791.8 341.5V147.7M792.8 231.2V143.3M793.8 249.1V146.1M794.8 234.4V147.7M795.8 234.1V149.3M796.8 234.1V149.0M797.8 240.1V96.8M798.8 253.7V149.4M799.8 237.8V152.4M800.8 239.4V146.8M801.8 263.5V149.5M802.8 255.7V144.2M803.8 242.9V142.5M804.8 257.8V144.5M805.8 235.7V134.7M806.8 245.2V143.0M807.8 247.9V137.2M808.8 240.8V136.4M809.8 237.5V138.3M810.8 241.4V136.1M811.8 242.8V138.9M812.8 236.5V145.2M813.8 239.8V141.3M814.8 243.4V145.8M815.8 236.5V148.0M816.8 237.7V95.7M817.8 235.7V148.8M818.8 234.2V155.5M819.8 234.8V161.1M820.8 276.8V160.2M821.8 242.7V155.9M822.8 258.2V162.7M823.8 245.2V164.3M824.8 239.2V160.9M825.8 240.3V159.0M826.8 265.6V157.2M827.8 237.1V157.6M828.8 235.2V154.3M829.8 235.5V152.4M830.8 263.8V147.9M831.8 308.5V149.6M832.8 237.4V147.8M833.8 249.2V141.9M834.8 227.2V143.6M835.8 246.7V154.5M836.8 229.5V157.5M837.8 263.0V147.8M838.8 292.3V156.6M839.8 239.9V128.3M840.8 240.8V158.7M841.8 234.9V163.4M842.8 244.2V157.5M843.8 257.8V161.8M844.8 239.5V156.9M845.8 247.8V158.5M846.8 245.7V143.2M847.8 236.0V150.5M848.8 232.0V124.0M849.8 238.8V153.8M850.8 229.9V152.5M851.8 231.8V151.6M852.8 254.9V150.4M853.8 234.3V149.1M854.8 232.2V148.4M855.8 234.0V151.5M856.8 254.2V145.9M857.8 262.6V146.7M858.8 284.0V118.3M859.8 254.0V143.9M860.8 251.8V150.1M861.8 282.7V112.0M862.8 274.5V98.3M863.8 258.5V154.0M864.8 278.6V157.5M865.8 308.6V157.6M866.8 256.6V151.8M867.8 249.6V162.0M868.8 266.4V162.1M869.8 255.2V99.3M870.8 290.6V161.2M871.8 251.6V152.6M872.8 261.8V153.5M873.8 261.0V151.1M874.8 260.6V150.0M875.8 253.8V140.3M876.8 256.7V144.1M877.8 268.8V138.1M878.8 259.8V80.2M879.8 281.5V133.3M880.8 269.0V136.1M881.8 257.2V127.8M882.8 261.3V129.8M883.8 247.5V127.2M884.8 264.4V99.9M885.8 256.4V130.5M886.8 274.1V128.9M887.8 250.5V132.0M888.8 246.1V140.3M889.8 253.3V142.6M890.8 244.5V142.2M891.8 248.4V125.4M892.8 268.3V133.4M893.8 269.6V140.5M894.8 256.0V146.6M895.8 255.9V140.1M896.8 242.6V140.0M897.8 259.0V140.2M898.8 248.8V106.3M899.8 252.8V147.5M900.8 254.8V149.7M901.8 255.0V76.6M902.8 255.8V89.0M903.8 255.3V152.6M904.8 257.6V146.7M905.8 262.9V146.9M906.8 280.7V148.5M907.8 250.8V152.5M908.8 252.1V76.6M909.8 251.3V156.8M910.8 259.3V154.5M911.8 295.8V151.3M912.8 246.8V148.2M913.8 264.5V153.6M914.8 255.0V138.4M915.8 244.7V147.9M916.8 248.3V80.5M917.8 243.8V135.7M918.8 245.3V142.1M919.8 243.1V149.1M920.8 241.0V152.1M921.8 313.9V146.8M922.8 254.4V146.5M923.8 257.5V148.3M924.8 252.8V157.0M925.8 262.5V147.4M926.8 269.4V150.2M927.8 252.5V151.5M928.8 248.4V145.1M929.8 273.9V141.7M930.8 252.3V148.0M931.8 247.3V142.9M932.8 243.4V143.5M933.8 248.1V138.3M934.8 275.8V136.9M935.8 266.2V132.4M936.8 248.3V134.6M937.8 252.4V136.7M938.8 250.6V130.1M939.8 247.6V130.6M940.8 245.4V128.0M941.8 255.1V136.5M942.8 246.4V133.6M943.8 252.4V129.3M944.8 271.4V136.3M945.8 251.6V103.2M946.8 252.7V135.3M947.8 320.6V84.2M948.8 256.4V140.2M949.8 283.2V142.3M950.8 275.6V144.5M951.8 262.9V144.2M952.8 293.5V142.2M953.8 268.9V142.2M954.8 262.6V150.3M955.8 260.2V149.5M956.8 264.3V149.1M957.8 258.4V157.4M958.8 305.6V152.8M959.8 280.3V147.2M960.8 271.0V148.3M961.8 293.6V147.6M962.8 274.0V144.7M963.8 304.2V143.5M964.8 273.6V136.7M965.8 295.5V136.7M966.8 289.9V136.3M967.8 271.4V130.2M968.8 258.4V128.3M969.8 264.2V130.1M970.8 269.0V129.2M971.8 267.4V132.5M972.8 255.4V133.1M973.8 254.7V130.4M974.8 266.0V129.8M975.8 256.3V136.9M976.8 300.2V131.9M977.8 251.4V133.5M978.8 258.1V133.8M979.8 256.3V134.9M980.8 251.0V135.4M981.8 268.3V132.2M982.8 271.8V133.0M983.8 248.6V134.0M984.8 295.9V134.8M985.8 240.6V141.7M986.8 253.3V146.0M987.8 248.5V146.0M988.8 247.8V138.0M989.8 324.6V151.7M990.8 253.3V156.1M991.8 264.9V158.8M992.8 248.3V154.2M993.8 273.4V150.3M994.8 252.5V154.5M995.8 250.4V146.4M996.8 294.4V151.0M997.8 314.1V149.4M998.8 249.6V145.2M999.8 291.0V138.5M1000.8 333.6V110.1M1001.8 286.6V141.5M1002.8 261.3V139.1M1003.8 301.3V133.9M1004.8 267.6V135.6M1005.8 270.7V134.9M1006.8 265.7V140.3M1007.8 269.6V134.8M1008.8 283.5V132.4M1009.8 319.7V131.6M1010.8 278.3V91.0M1011.8 276.4V135.0M1012.8 276.9V134.5M1013.8 275.2V142.9M1014.8 303.0V138.4M1015.8 275.3V151.4M1016.8 277.1V144.7M1017.8 275.0V148.2M1018.8 269.5V142.7M1019.8 282.0V150.6M1020.8 279.9V157.7M1021.8 268.5V148.7M1022.8 263.1V151.4M1023.8 274.9V151.9M1024.8 276.2V77.4M1025.8 258.9V146.9M1026.8 267.4V148.8M1027.8 320.6V149.3M1028.8 265.4V115.4M1029.8 268.3V143.6M1030.8 272.4V141.3M1031.8 271.4V83.2M1032.8 264.5V153.2M1033.8 282.3V155.5M1034.8 272.9V153.7M1035.8 276.4V150.3M1036.8 279.6V154.7M1037.8 298.4V151.1M1038.8 278.3V150.8M1039.8 287.7V142.5M1040.8 273.3V147.5M1041.8 272.1V86.5M1042.8 332.5V141.5M1043.8 264.6V149.9M1044.8 268.2V139.9M1045.8 275.2V129.0M1046.8 275.6V141.1M1047.8 264.3V144.4M1048.8 260.8V133.8M1049.8 253.2V142.5M1050.8 258.1V145.3M1051.8 261.2V135.0M1052.8 254.5V143.1M1053.8 254.8V103.0M1054.8 251.7V90.5M1055.8 256.7V146.9M1056.8 251.0V146.9M1057.8 255.9V145.1M1058.8 251.3V141.8M1059.8 255.6V142.5M1060.8 259.5V143.2M1061.8 260.9V142.8M1062.8 250.4V150.3M1063.8 269.5V148.7M1064.8 264.3V143.0M1065.8 274.9V149.2M1066.8 262.9V148.5M1067.8 318.1V143.4M1068.8 268.6V138.8M1069.8 266.0V137.8M1070.8 282.8V130.3M1071.8 267.2V132.3M1072.8 263.4V131.9M1073.8 264.1V135.5M1074.8 265.0V137.8M1075.8 255.1V131.3M1076.8 253.6V143.2M1077.8 259.1V142.0M1078.8 254.9V111.0M1079.8 253.0V90.1M1080.8 259.4V144.6M1081.8 257.8V103.8M1082.8 247.2V128.7M1083.8 252.1V139.3M1084.8 251.1V135.4M1085.8 252.0V140.3M1086.8 246.5V144.5M1087.8 248.5V138.4M1088.8 244.0V134.4M1089.8 250.3V84.6M1090.8 271.9V139.3M1091.8 260.9V144.4M1092.8 256.0V141.8M1093.8 281.9V138.1M1094.8 283.9V139.9M1095.8 264.1V144.9M1096.8 270.2V141.1M1097.8 266.1V145.7M1098.8 274.6V139.9M1099.8 264.4V148.6M1100.8 290.6V143.2M1101.8 270.4V149.8M1102.8 271.4V141.9M1103.8 272.0V128.8M1104.8 269.2V96.7M1105.8 273.0V129.7M1106.8 271.6V130.9M1107.8 271.8V103.4M1108.8 292.2V131.9M1109.8 277.7V131.6M1110.8 295.1V130.7M1111.8 273.0V130.9M1112.8 264.2V132.1M1113.8 268.9V131.9M1114.8 266.1V115.7M1115.8 306.2V134.6M1116.8 280.8V133.9M1117.8 261.3V142.4M1118.8 280.2V144.5M1119.8 241.7V132.9M1120.8 261.3V144.3M1121.8 246.4V144.0M1122.8 237.8V152.1M1123.8 248.8V130.5M1124.8 248.0V150.2M1125.8 248.7V92.2M1126.8 291.6V150.3M1127.8 357.0V149.3M1128.8 252.3V149.6M1129.8 261.0V145.0M1130.8 255.2V107.9M1131.8 279.2V141.9M1132.8 257.4V137.4M1133.8 264.7V129.5M1134.8 334.4V134.3M1135.8 268.0V133.6M1136.8 285.4V137.8M1137.8 298.3V139.2M1138.8 266.6V139.6M1139.8 267.3V147.1M1140.8 290.8V147.0M1141.8 275.0V145.9M1142.8 263.0V138.0M1143.8 279.1V139.2M1144.8 272.5V144.6M1145.8 332.1V142.1M1146.8 263.7V114.5M1147.8 266.6V94.8M1148.8 260.3V134.1M1149.8 261.3V76.3M1150.8 263.6V141.4M1151.8 282.3V139.5M1152.8 259.7V137.3M1153.8 257.3V138.7M1154.8 247.6V140.6M1155.8 246.9V135.1M1156.8 332.7V134.4M1157.8 246.6V136.6M1158.8 252.3V133.9M1159.8 246.2V134.2M1160.8 248.9V136.2M1161.8 245.1V144.2M1162.8 240.6V147.3M1163.8 291.5V143.9M1164.8 241.5V144.8M1165.8 239.1V150.0M1166.8 236.0V155.6M1167.8 237.0V82.5M1168.8 247.3V160.5M1169.8 247.1V161.8M1170.8 239.3V160.9M1171.8 242.9V113.8M1172.8 233.6V160.1M1173.8 232.1V163.0M1174.8 255.4V161.4M1175.8 246.3V155.1M1176.8 243.2V163.6M1177.8 244.1V154.6M1178.8 244.5V150.8M1179.8 269.9V147.1M1180.8 252.0V147.7M1181.8 273.3V147.3M1182.8 257.2V140.0M1183.8 261.6V144.6M1184.8 296.6V143.0M1185.8 288.0V136.9M1186.8 263.4V141.3M1187.8 264.9V112.8M1188.8 272.2V144.1M1189.8 261.0V140.0M1190.8 335.3V77.3M1191.8 272.3V144.8M1192.8 267.4V143.4M1193.8 256.4V142.9M1194.8 258.7V112.4M1195.8 261.8V68.8M1196.8 255.3V142.6M1197.8 254.0V147.3M1198.8 249.2V146.6M1199.8 245.4V148.8M1200.8 246.7V139.3M1201.8 240.1V138.4M1202.8 253.3V129.2M1203.8 242.0V143.4M1204.8 244.6V111.8M1205.8 244.2V105.6M1206.8 260.4V135.5M1207.8 313.7V142.4M1208.8 245.7V136.2M1209.8 251.5V137.3"/>
<path stroke="#8aac45" d="M149.8 181.3V150.4M150.8 180.4V151.2M151.8 178.9V150.1M152.8 181.9V150.1M153.8 181.0V150.2M154.8 182.0V150.9M155.8 179.1V151.3M156.8 182.8V151.0M157.8 181.7V149.8M158.8 182.3V146.7M159.8 181.1V150.9M160.8 180.5V151.1M161.8 181.9V149.2M162.8 180.1V150.0M163.8 181.6V149.2M164.8 182.0V149.7M165.8 181.3V152.2M166.8 180.5V150.0M167.8 182.0V149.5M168.8 178.5V149.7M169.8 181.0V149.6M170.8 181.7V150.1M171.8 186.3V151.3M172.8 181.3V152.4M173.8 182.6V149.1M174.8 183.7V148.8M175.8 181.0V149.6M176.8 182.9V149.7M177.8 181.7V149.7M178.8 182.0V149.2M179.8 182.3V147.9M180.8 178.9V151.0M181.8 180.3V149.7M182.8 180.3V151.1M183.8 179.2V149.8M184.8 180.8V150.1M185.8 181.4V147.9M186.8 181.0V149.8M187.8 180.3V152.0M188.8 180.1V150.2M189.8 188.4V149.6M190.8 182.5V148.3M191.8 183.1V148.9M192.8 178.5V152.0M193.8 183.3V149.6M194.8 182.2V149.9M195.8 181.1V151.2M196.8 179.4V150.8M197.8 179.8V150.6M198.8 181.3V150.0M199.8 180.7V152.6M200.8 180.2V149.8M201.8 179.5V152.1M202.8 178.4V150.2M203.8 182.3V152.4M204.8 179.5V148.8M205.8 180.2V149.6M206.8 183.0V149.7M207.8 181.9V148.9M208.8 179.6V149.4M209.8 180.5V148.7M210.8 180.1V149.3M211.8 180.8V150.4M212.8 181.0V151.0M213.8 181.2V148.1M214.8 180.5V150.6M215.8 182.5V148.8M216.8 181.3V148.3M217.8 181.8V150.1M218.8 177.9V150.2M219.8 181.5V151.6M220.8 181.3V151.9M221.8 179.9V148.6M222.8 180.6V151.2M223.8 182.3V150.2M224.8 178.8V150.9M225.8 184.5V150.2M226.8 181.0V149.8M227.8 179.8V149.7M228.8 184.1V150.9M229.8 180.9V147.5M230.8 182.2V148.4M231.8 181.0V150.9M232.8 180.0V148.8M233.8 182.1V150.2M234.8 182.1V148.4M235.8 181.8V152.2M236.8 181.7V150.4M237.8 182.5V150.1M238.8 180.8V149.1M239.8 186.5V150.2M240.8 186.9V150.2M241.8 180.9V149.0M242.8 182.2V149.3M243.8 185.2V149.4M244.8 182.9V149.0M245.8 182.1V152.1M246.8 181.9V145.7M247.8 180.5V151.0M248.8 185.3V150.4M249.8 181.4V150.8M250.8 190.7V147.9M251.8 182.1V149.2M252.8 181.7V148.7M253.8 180.7V150.1M254.8 181.2V149.7M255.8 180.5V148.8M256.8 181.8V150.8M257.8 182.0V146.8M258.8 182.2V146.0M259.8 181.6V149.8M260.8 182.3V148.6M261.8 183.5V149.6M262.8 181.4V151.3M263.8 180.9V150.2M264.8 184.7V151.0M265.8 183.3V148.7M266.8 183.0V150.0M267.8 180.1V152.8M268.8 182.2V149.4M269.8 180.9V149.8M270.8 181.5V150.5M271.8 180.5V150.3M272.8 179.8V152.8M273.8 182.3V151.4M274.8 182.1V148.5M275.8 179.5V148.4M276.8 181.0V150.7M277.8 182.5V148.1M278.8 181.4V149.5M279.8 182.8V149.7M280.8 181.6V149.9M281.8 180.5V151.1M282.8 180.3V150.6M283.8 181.8V148.5M284.8 180.5V149.7M285.8 188.0V150.1M286.8 180.1V148.4M287.8 181.7V151.3M288.8 182.3V149.8M289.8 181.6V151.3M290.8 180.3V150.3M291.8 177.9V148.2M292.8 180.9V148.2M293.8 184.1V148.5M294.8 182.9V150.0M295.8 180.8V150.1M296.8 181.9V149.3M297.8 181.4V151.7M298.8 180.8V149.9M299.8 180.6V149.7M300.8 179.7V150.3M301.8 180.8V150.9M302.8 181.4V150.3M303.8 188.6V151.1M304.8 180.9V146.6M305.8 180.8V149.5M306.8 179.6V149.4M307.8 180.2V151.1M308.8 182.3V151.0M309.8 182.1V150.5M310.8 182.0V151.2M311.8 180.5V150.5M312.8 181.3V152.3M313.8 182.4V147.8M314.8 180.1V150.1M315.8 180.6V150.2M316.8 181.8V150.0M317.8 181.6V149.0M318.8 180.4V150.1M319.8 181.3V150.6M320.8 179.9V147.9M321.8 181.5V149.5M322.8 180.7V149.7M323.8 181.8V149.7M324.8 179.5V149.6M325.8 181.4V149.5M326.8 178.1V149.8M327.8 181.2V151.2M328.8 180.3V149.5M329.8 180.6V147.7M330.8 180.6V149.2M331.8 181.0V146.4M332.8 179.8V148.9M333.8 182.7V148.8M334.8 179.1V147.5M335.8 185.3V151.9M336.8 178.4V150.2M337.8 181.2V150.4M338.8 181.1V150.1M339.8 182.4V151.2M340.8 182.9V146.5M341.8 181.4V148.1M342.8 180.1V149.4M343.8 180.9V150.8M344.8 180.3V149.9M345.8 180.0V152.0M346.8 180.8V152.6M347.8 182.8V150.1M348.8 182.1V151.0M349.8 182.5V151.4M350.8 181.4V150.5M351.8 180.8V149.1M352.8 179.1V150.1M353.8 179.5V150.6M354.8 180.5V149.8M355.8 180.7V151.9M356.8 180.3V149.9M357.8 180.7V150.3M358.8 179.4V150.0M359.8 188.2V149.2M360.8 182.9V149.8M361.8 179.3V150.4M362.8 185.7V150.3M363.8 181.6V149.7M364.8 180.7V147.7M365.8 182.9V151.4M366.8 179.5V149.0M367.8 178.3V151.1M368.8 180.5V150.7M369.8 180.7V149.6M370.8 181.3V148.5M371.8 181.1V150.6M372.8 182.1V150.3M373.8 184.8V148.7M374.8 182.4V151.4M375.8 180.2V146.9M376.8 179.8V149.9M377.8 181.4V150.3M378.8 180.0V147.9M379.8 181.1V151.1M380.8 182.7V150.7M381.8 179.2V150.6M382.8 181.9V150.7M383.8 179.8V150.1M384.8 182.4V150.8M385.8 182.4V148.4M386.8 180.9V148.9M387.8 182.3V149.8M388.8 179.3V149.3M389.8 180.9V149.6M390.8 179.3V151.9M391.8 181.4V150.5M392.8 183.2V149.2M393.8 182.0V152.1M394.8 184.7V144.5M395.8 182.5V151.1M396.8 180.5V149.7M397.8 179.4V151.2M398.8 182.8V150.0M399.8 181.2V149.4M400.8 179.6V149.2M401.8 186.0V149.7M402.8 182.3V150.8M403.8 180.8V150.5M404.8 179.6V146.0M405.8 182.2V149.4M406.8 180.6V149.7M407.8 182.0V151.0M408.8 179.8V149.5M409.8 180.6V150.4M410.8 179.3V152.0M411.8 180.7V150.7M412.8 179.2V148.4M413.8 182.8V150.8M414.8 182.3V148.8M415.8 182.1V149.7M416.8 181.5V149.5M417.8 180.9V149.7M418.8 179.3V148.1M419.8 182.7V147.9M420.8 180.6V151.5M421.8 182.1V151.6M422.8 179.7V150.0M423.8 182.7V149.4M424.8 180.8V150.5M425.8 181.2V151.2M426.8 180.2V146.4M427.8 184.8V150.4M428.8 181.3V148.9M429.8 182.2V149.1M430.8 181.2V150.0M431.8 184.2V150.2M432.8 183.1V151.3M433.8 180.2V149.6M434.8 180.6V151.6M435.8 180.3V151.1M436.8 177.8V152.9M437.8 181.3V149.3M438.8 182.8V151.3M439.8 179.4V151.3M440.8 178.9V150.8M441.8 180.8V148.9M442.8 181.1V149.8M443.8 180.1V150.2M444.8 182.9V147.5M445.8 181.6V149.4M446.8 181.6V151.2M447.8 177.8V149.8M448.8 181.7V148.9M449.8 187.5V151.4M450.8 181.3V149.1M451.8 182.1V150.2M452.8 179.8V148.6M453.8 181.5V151.1M454.8 180.5V150.0M455.8 181.6V148.4M456.8 180.9V150.3M457.8 182.5V150.8M458.8 180.6V149.1M459.8 181.0V150.0M460.8 186.5V149.1M461.8 180.0V150.4M462.8 179.6V149.5M463.8 179.3V150.5M464.8 180.6V150.6M465.8 183.3V150.7M466.8 182.3V149.6M467.8 185.7V151.7M468.8 180.6V149.5M469.8 181.2V150.7M470.8 182.1V148.9M471.8 181.6V150.3M472.8 179.9V151.8M473.8 180.1V148.9M474.8 179.8V148.9M475.8 179.5V149.8M476.8 178.5V151.0M477.8 181.6V148.7M478.8 180.1V150.8M479.8 181.2V148.4M480.8 181.3V150.0M481.8 182.7V148.4M482.8 181.2V149.2M483.8 180.0V152.0M484.8 181.5V151.4M485.8 179.6V150.6M486.8 182.2V151.0M487.8 181.9V150.7M488.8 182.6V150.0M489.8 182.8V150.1M490.8 179.2V149.8M491.8 185.8V150.5M492.8 181.9V149.4M493.8 181.3V147.2M494.8 182.2V151.3M495.8 180.1V148.5M496.8 178.7V151.2M497.8 180.1V148.3M498.8 179.9V149.9M499.8 183.0V150.7M500.8 180.4V150.7M501.8 181.1V151.4M502.8 177.7V152.2M503.8 174.6V156.3M504.8 176.1V155.2M505.8 175.5V156.9M506.8 174.3V154.9M507.8 174.3V155.7M508.8 175.6V156.4M509.8 174.1V156.7M510.8 176.2V153.9M511.8 176.7V155.9M512.8 176.1V155.6M513.8 174.7V155.1M514.8 177.8V156.0M515.8 176.5V156.0M516.8 174.6V155.8M517.8 174.8V155.9M518.8 174.8V155.7M519.8 175.8V155.0M520.8 174.2V157.0M521.8 176.3V156.1M522.8 175.4V156.3M523.8 174.8V157.1M524.8 175.0V156.8M525.8 173.9V156.0M526.8 176.0V155.9M527.8 174.9V156.5M528.8 175.3V156.4M529.8 175.3V156.2M530.8 174.2V157.0M531.8 175.7V155.5M532.8 174.5V156.7M533.8 175.0V157.2M534.8 175.2V158.4M535.8 173.6V154.6M536.8 175.0V157.2M537.8 174.8V156.1M538.8 176.0V156.9M539.8 173.6V157.5M540.8 174.4V156.3M541.8 176.1V155.9M542.8 175.6V155.9M543.8 175.3V157.0M544.8 176.3V156.7M545.8 174.9V155.0M546.8 175.3V156.7M547.8 174.9V155.7M548.8 175.7V156.5M549.8 176.4V156.0M550.8 174.7V156.5M551.8 174.7V155.2M552.8 175.9V157.7M553.8 175.7V156.1M554.8 175.0V155.6M555.8 173.7V156.3M556.8 174.9V156.0M557.8 175.4V155.0M558.8 175.0V156.9M559.8 174.3V155.8M560.8 174.5V156.5M561.8 174.2V156.7M562.8 176.8V156.0M563.8 174.2V155.1M564.8 174.1V155.8M565.8 174.4V155.6M566.8 175.0V157.1M567.8 177.4V156.3M568.8 175.2V156.1M569.8 173.9V155.6M570.8 174.0V156.0M571.8 173.8V154.9M572.8 175.3V157.2M573.8 176.6V156.1M574.8 175.7V157.2M575.8 175.0V157.1M576.8 174.7V156.1M577.8 173.7V155.8M578.8 174.4V156.4M579.8 174.7V154.4M580.8 174.8V155.9M581.8 174.4V155.9M582.8 175.8V156.4M583.8 176.3V155.6M584.8 174.4V155.7M585.8 174.5V156.1M586.8 175.5V155.1M587.8 173.9V157.5M588.8 174.5V156.7M589.8 174.8V156.6M590.8 175.4V157.0M591.8 174.8V157.1M592.8 174.8V155.8M593.8 174.0V157.1M594.8 175.5V156.0M595.8 173.8V156.0M596.8 174.0V155.6M597.8 176.3V155.1M598.8 174.3V154.7M599.8 173.5V157.0M600.8 173.0V155.6M601.8 173.9V156.2M602.8 176.4V155.8M603.8 177.5V154.9M604.8 177.2V155.8M605.8 174.7V156.2M606.8 177.3V156.0M607.8 175.4V155.7M608.8 174.5V156.0M609.8 174.5V156.2M610.8 174.6V155.7M611.8 175.7V155.2M612.8 174.8V155.6M613.8 175.9V155.9M614.8 174.9V155.9M615.8 175.3V155.9M616.8 174.3V156.5M617.8 175.5V156.6M618.8 175.1V155.5M619.8 174.9V156.9M620.8 174.8V156.6M621.8 174.3V155.0M622.8 176.3V156.0M623.8 176.3V155.4M624.8 174.1V155.9M625.8 175.2V155.0M626.8 174.3V155.5M627.8 175.8V155.9M628.8 174.4V155.7M629.8 174.1V155.6M630.8 175.3V155.9M631.8 174.5V156.4M632.8 174.8V156.8M633.8 174.2V154.6M634.8 174.4V155.7M635.8 176.5V158.5M636.8 174.8V155.0M637.8 176.3V156.1M638.8 174.9V156.8M639.8 173.8V156.3M640.8 174.6V154.9M641.8 173.4V155.3M642.8 175.5V157.0M643.8 174.8V156.9M644.8 175.3V155.8M645.8 174.1V156.6M646.8 175.5V155.6M647.8 175.2V156.6M648.8 174.9V155.6M649.8 175.3V157.7M650.8 178.7V156.4M651.8 173.8V156.1M652.8 177.5V154.9M653.8 175.9V156.3M654.8 173.7V155.4M655.8 174.2V156.1M656.8 174.6V156.5M657.8 174.7V157.0M658.8 175.9V157.2M659.8 173.4V156.1M660.8 176.2V156.1M661.8 176.0V156.9M662.8 174.0V156.0M663.8 173.6V156.0M664.8 175.6V155.5M665.8 174.3V155.9M666.8 174.3V154.9M667.8 176.5V155.5M668.8 174.1V157.3M669.8 174.0V155.3M670.8 175.6V157.4M671.8 174.8V154.1M672.8 174.5V154.8M673.8 174.2V157.4M674.8 178.4V155.5M675.8 175.0V155.5M676.8 174.0V156.3M677.8 174.3V156.8M678.8 176.2V156.1M679.8 175.9V156.3M680.8 173.9V154.8M681.8 173.5V156.8M682.8 175.1V156.3M683.8 175.2V156.7M684.8 174.5V155.1M685.8 174.6V156.3M686.8 176.0V156.5M687.8 174.8V156.3M688.8 177.2V156.5M689.8 175.0V157.5M690.8 174.2V155.9M691.8 175.3V157.1M692.8 174.6V155.2M693.8 175.0V155.0M694.8 178.4V155.2M695.8 175.1V155.4M696.8 175.2V155.7M697.8 175.4V155.9M698.8 177.0V157.0M699.8 174.0V155.4M700.8 174.3V155.8M701.8 172.9V157.1M702.8 173.9V157.2M703.8 173.9V156.3M704.8 174.3V155.6M705.8 175.8V157.2M706.8 174.1V156.2M707.8 174.2V156.7M708.8 175.8V157.0M709.8 175.4V156.4M710.8 174.5V155.9M711.8 175.9V156.1M712.8 175.0V156.7M713.8 173.7V156.4M714.8 175.5V156.3M715.8 175.1V155.5M716.8 174.4V155.4M717.8 174.6V156.2M718.8 173.9V157.2M719.8 174.7V156.3M720.8 174.3V156.5M721.8 175.3V156.4M722.8 174.4V155.6M723.8 173.9V155.7M724.8 173.0V156.0M725.8 174.4V156.4M726.8 175.0V157.0M727.8 174.6V156.4M728.8 175.7V155.6M729.8 173.8V157.5M730.8 174.1V157.2M731.8 174.6V155.0M732.8 174.1V156.9M733.8 175.6V156.1M734.8 174.4V155.9M735.8 174.5V155.8M736.8 174.8V156.0M737.8 173.7V157.3M738.8 173.5V157.0M739.8 174.5V157.5M740.8 175.3V157.4M741.8 173.6V155.7M742.8 175.1V156.6M743.8 173.5V156.6M744.8 174.4V155.4M745.8 178.5V155.3M746.8 177.6V155.8M747.8 175.1V155.4M748.8 174.5V156.2M749.8 174.0V154.6M750.8 174.4V156.2M751.8 174.2V157.0M752.8 173.0V155.6M753.8 173.9V155.3M754.8 173.9V155.3M755.8 174.1V156.4M756.8 173.9V156.0M757.8 174.6V154.5M758.8 175.3V156.3M759.8 174.1V156.9M760.8 174.0V156.0M761.8 174.4V154.6M762.8 175.3V156.3M763.8 175.3V155.6M764.8 174.8V155.2M765.8 174.5V156.7M766.8 175.6V155.3M767.8 174.4V157.1M768.8 174.6V157.6M769.8 175.2V156.6M770.8 175.8V157.2M771.8 176.0V155.9M772.8 174.2V155.4M773.8 175.0V157.4M774.8 176.6V154.0M775.8 175.7V156.4M776.8 173.9V155.8M777.8 174.4V155.7M778.8 175.2V155.6M779.8 175.3V155.8M780.8 175.0V157.2M781.8 175.0V157.1M782.8 175.3V155.5M783.8 174.1V155.0M784.8 177.2V155.9M785.8 174.4V155.4M786.8 175.3V157.4M787.8 174.5V156.0M788.8 175.1V156.7M789.8 173.7V157.2M790.8 173.9V155.7M791.8 174.3V155.0M792.8 175.3V156.2M793.8 174.6V156.7M794.8 174.7V155.5M795.8 174.9V156.1M796.8 174.8V157.2M797.8 176.1V157.3M798.8 176.8V155.5M799.8 174.7V156.8M800.8 174.7V157.2M801.8 175.6V155.7M802.8 176.3V155.6M803.8 173.7V157.0M804.8 175.5V155.6M805.8 175.3V157.1M806.8 174.6V156.3M807.8 174.9V155.5M808.8 174.4V156.6M809.8 175.9V156.2M810.8 178.4V156.4M811.8 174.4V156.9M812.8 176.0V155.8M813.8 174.4V155.8M814.8 174.9V155.9M815.8 175.1V155.8M816.8 174.1V156.5M817.8 174.7V155.7M818.8 174.7V156.8M819.8 175.0V156.0M820.8 174.8V156.6M821.8 175.2V157.2M822.8 174.5V155.4M823.8 175.1V156.2M824.8 174.4V156.4M825.8 176.5V155.3M826.8 175.5V156.6M827.8 175.7V156.4M828.8 175.4V156.8M829.8 174.4V156.2M830.8 174.5V154.4M831.8 175.4V156.7M832.8 174.3V157.1M833.8 174.2V157.1M834.8 173.5V155.3M835.8 174.4V156.8M836.8 173.9V157.5M837.8 175.4V154.8M838.8 175.7V155.2M839.8 174.3V156.1M840.8 175.3V156.4M841.8 175.2V156.6M842.8 173.3V156.0M843.8 174.7V156.1M844.8 175.1V154.1M845.8 173.8V157.3M846.8 175.5V155.4M847.8 173.5V156.1M848.8 176.2V155.4M849.8 174.1V157.3M850.8 174.8V155.9M851.8 174.8V155.4M852.8 173.4V156.3M853.8 174.7V155.6M854.8 175.4V154.8M855.8 174.2V156.7M856.8 178.8V148.9M857.8 179.9V151.5M858.8 180.8V150.1M859.8 185.8V148.3M860.8 183.2V150.7M861.8 181.3V147.4M862.8 187.1V150.6M863.8 184.5V151.3M864.8 182.9V150.1M865.8 181.6V150.7M866.8 181.2V151.3M867.8 183.8V146.9M868.8 183.1V150.3M869.8 181.2V151.7M870.8 181.8V150.4M871.8 187.0V150.6M872.8 183.9V148.7M873.8 186.5V149.3M874.8 187.5V149.5M875.8 185.7V149.5M876.8 189.8V151.3M877.8 181.0V151.5M878.8 182.0V149.9M879.8 182.1V151.0M880.8 181.5V151.0M881.8 181.7V148.1M882.8 189.2V148.7M883.8 180.5V149.7M884.8 180.0V150.5M885.8 180.2V150.3M886.8 180.1V146.0M887.8 181.3V150.4M888.8 183.6V150.3M889.8 179.5V150.5M890.8 182.3V150.7M891.8 182.8V150.9M892.8 181.8V151.3M893.8 181.6V148.3M894.8 182.1V149.4M895.8 183.1V150.6M896.8 183.2V151.0M897.8 183.8V150.3M898.8 184.3V148.8M899.8 180.3V150.4M900.8 186.5V150.5M901.8 183.6V148.1M902.8 181.1V151.2M903.8 181.6V152.2M904.8 180.8V150.2M905.8 182.5V152.9M906.8 180.6V150.5M907.8 181.9V151.7M908.8 181.8V151.1M909.8 182.8V150.5M910.8 187.5V150.0M911.8 181.7V149.7M912.8 183.1V149.2M913.8 180.2V150.7M914.8 188.6V147.6M915.8 183.3V150.1M916.8 184.4V147.9M917.8 184.4V151.5M918.8 181.0V151.7M919.8 182.4V151.2M920.8 182.5V147.5M921.8 188.9V147.4M922.8 181.5V150.4M923.8 181.6V150.3M924.8 181.7V150.6M925.8 183.5V147.8M926.8 187.9V147.7M927.8 181.0V148.9M928.8 179.9V150.1M929.8 182.4V150.8M930.8 182.7V148.1M931.8 181.4V148.6M932.8 181.8V150.2M933.8 181.5V149.9M934.8 183.7V147.8M935.8 181.1V148.8M936.8 182.6V151.7M937.8 182.2V150.2M938.8 182.8V149.2M939.8 182.0V151.9M940.8 187.8V148.9M941.8 182.5V147.4M942.8 187.6V152.1M943.8 188.2V150.1M944.8 184.7V154.3M945.8 180.7V148.7M946.8 178.3V150.1M947.8 180.7V148.2M948.8 181.1V150.6M949.8 183.9V150.1M950.8 182.0V149.5M951.8 183.9V150.9M952.8 180.7V149.6M953.8 182.4V149.6M954.8 183.9V149.4M955.8 183.0V152.0M956.8 186.2V148.9M957.8 181.9V152.3M958.8 186.2V149.1M959.8 182.4V146.8M960.8 185.3V150.9M961.8 180.1V150.0M962.8 185.2V146.6M963.8 179.2V151.1M964.8 186.8V150.7M965.8 179.2V151.2M966.8 186.7V147.4M967.8 183.5V150.9M968.8 181.1V150.8M969.8 179.8V150.8M970.8 180.9V149.8M971.8 179.9V149.0M972.8 182.2V149.4M973.8 180.7V149.3M974.8 181.3V148.6M975.8 184.9V152.7M976.8 182.0V149.2M977.8 180.2V150.3M978.8 181.9V151.5M979.8 180.8V149.9M980.8 186.3V150.0M981.8 181.2V150.5M982.8 182.9V151.9M983.8 185.9V152.0M984.8 180.7V149.2M985.8 182.7V148.2M986.8 189.9V150.8M987.8 180.2V149.2M988.8 188.3V152.7M989.8 181.9V146.5M990.8 184.7V149.5M991.8 186.1V149.3M992.8 181.9V148.5M993.8 181.7V151.3M994.8 181.1V151.0M995.8 182.7V151.8M996.8 182.6V150.1M997.8 184.3V150.5M998.8 180.3V148.3M999.8 181.8V148.2M1000.8 181.6V147.0M1001.8 179.7V151.5M1002.8 180.4V148.1M1003.8 181.8V152.6M1004.8 183.9V150.6M1005.8 184.6V151.7M1006.8 181.5V149.5M1007.8 181.7V151.3M1008.8 180.3V150.0M1009.8 181.9V149.6M1010.8 180.9V145.5M1011.8 181.5V152.7M1012.8 182.3V148.9M1013.8 182.4V149.4M1014.8 182.6V149.2M1015.8 180.3V151.2M1016.8 181.0V148.7M1017.8 180.1V151.7M1018.8 183.5V150.3M1019.8 181.7V149.7M1020.8 181.6V149.9M1021.8 183.7V150.9M1022.8 184.9V150.8M1023.8 182.4V149.2M1024.8 185.1V150.7M1025.8 183.1V149.4M1026.8 183.9V149.7M1027.8 182.8V149.8M1028.8 184.4V148.1M1029.8 183.1V151.6M1030.8 182.5V152.2M1031.8 181.0V149.0M1032.8 180.8V150.3M1033.8 181.8V150.3M1034.8 182.4V150.1M1035.8 179.3V147.8M1036.8 183.0V147.2M1037.8 185.3V149.2M1038.8 184.7V151.8M1039.8 183.0V147.7M1040.8 180.3V151.7M1041.8 183.8V152.9M1042.8 186.8V149.6M1043.8 179.9V149.3M1044.8 181.8V151.6M1045.8 182.3V150.2M1046.8 182.7V149.4M1047.8 180.1V152.4M1048.8 182.3V150.3M1049.8 181.3V149.3M1050.8 182.7V151.8M1051.8 183.0V151.0M1052.8 181.0V151.9M1053.8 180.7V150.0M1054.8 181.1V148.8M1055.8 180.3V147.5M1056.8 178.5V150.1M1057.8 181.3V151.3M1058.8 181.2V149.8M1059.8 182.6V151.1M1060.8 181.2V146.8M1061.8 179.5V146.4M1062.8 181.5V151.9M1063.8 183.5V150.6M1064.8 185.3V148.3M1065.8 181.1V150.5M1066.8 182.5V149.1M1067.8 187.6V150.3M1068.8 186.1V148.7M1069.8 180.7V149.6M1070.8 182.2V151.9M1071.8 181.0V149.9M1072.8 185.3V150.1M1073.8 182.5V149.2M1074.8 181.4V150.3M1075.8 181.0V149.0M1076.8 181.6V148.7M1077.8 187.6V149.9M1078.8 184.5V151.4M1079.8 184.1V150.9M1080.8 180.2V149.9M1081.8 182.6V151.4M1082.8 180.5V150.1M1083.8 183.2V148.4M1084.8 180.9V149.0M1085.8 181.8V152.0M1086.8 180.8V149.5M1087.8 182.6V152.2M1088.8 181.3V147.8M1089.8 183.2V150.8M1090.8 184.7V149.7M1091.8 188.5V150.6M1092.8 183.2V149.3M1093.8 181.2V149.0M1094.8 186.1V150.1M1095.8 188.6V149.5M1096.8 187.8V149.9M1097.8 181.5V150.8M1098.8 183.2V151.5M1099.8 189.1V150.2M1100.8 188.2V147.4M1101.8 181.2V149.9M1102.8 183.2V149.1M1103.8 180.9V152.4M1104.8 182.6V150.5M1105.8 182.7V149.0M1106.8 181.7V150.0M1107.8 182.4V149.5M1108.8 182.8V145.1M1109.8 179.6V149.7M1110.8 182.2V148.3M1111.8 181.5V148.5M1112.8 180.8V149.4M1113.8 187.5V151.7M1114.8 186.6V148.4M1115.8 188.1V151.5M1116.8 182.1V151.6M1117.8 183.5V153.5M1118.8 182.3V149.9M1119.8 183.1V150.3M1120.8 190.2V152.8M1121.8 186.2V148.4M1122.8 181.8V146.4M1123.8 180.3V146.7M1124.8 179.5V149.3M1125.8 182.7V148.6M1126.8 184.1V148.8M1127.8 183.1V150.6M1128.8 180.7V149.6M1129.8 181.7V149.3M1130.8 181.0V149.6M1131.8 183.6V152.3M1132.8 181.7V151.7M1133.8 182.6V152.1M1134.8 182.0V149.0M1135.8 182.4V149.7M1136.8 183.8V149.2M1137.8 182.8V151.3M1138.8 182.5V150.3M1139.8 180.5V150.1M1140.8 184.5V151.2M1141.8 187.9V150.0M1142.8 180.2V149.2M1143.8 180.9V151.5M1144.8 180.6V151.4M1145.8 183.1V147.7M1146.8 180.9V149.3M1147.8 183.8V149.1M1148.8 185.0V151.1M1149.8 182.2V151.8M1150.8 181.6V149.5M1151.8 181.3V149.6M1152.8 181.5V150.5M1153.8 181.3V151.7M1154.8 182.5V149.8M1155.8 182.5V149.5M1156.8 179.7V151.6M1157.8 181.8V148.8M1158.8 181.2V148.0M1159.8 179.9V152.9M1160.8 181.2V147.7M1161.8 184.3V150.1M1162.8 180.5V147.8M1163.8 181.9V150.1M1164.8 182.3V149.4M1165.8 183.5V148.2M1166.8 181.0V149.2M1167.8 181.4V149.7M1168.8 181.6V149.2M1169.8 181.1V154.6M1170.8 181.6V149.3M1171.8 183.7V148.7M1172.8 180.2V150.8M1173.8 181.3V151.5M1174.8 180.9V150.1M1175.8 181.9V150.9M1176.8 179.8V150.9M1177.8 181.5V150.8M1178.8 182.3V147.3M1179.8 183.0V150.2M1180.8 186.9V151.0M1181.8 182.8V149.9M1182.8 187.5V151.5M1183.8 182.3V149.7M1184.8 181.5V150.8M1185.8 185.4V151.1M1186.8 183.6V150.5M1187.8 181.8V149.2M1188.8 180.8V151.0M1189.8 182.0V149.8M1190.8 181.2V148.1M1191.8 184.7V147.7M1192.8 181.4V151.1M1193.8 183.0V150.3M1194.8 183.4V149.0M1195.8 180.7V150.2M1196.8 181.1V149.6M1197.8 181.4V148.9M1198.8 181.0V151.4M1199.8 181.2V150.7M1200.8 187.7V152.3M1201.8 181.2V148.8M1202.8 183.7V150.1M1203.8 183.2V152.1M1204.8 182.5V150.2M1205.8 180.9V152.7M1206.8 180.0V150.8M1207.8 184.5V148.4M1208.8 183.5V148.8M1209.8 180.4V151.8"/>
</g>
<g fill="#cc2b2e"><circle cx="151.0" cy="676.5" r="6.2"/><circle cx="160.0" cy="672.5" r="6.2"/><circle cx="151.9" cy="692.5" r="6.2"/><circle cx="156.3" cy="692.5" r="6.2"/><circle cx="179.8" cy="635.4" r="6.2"/><circle cx="184.0" cy="651.2" r="6.2"/><circle cx="193.1" cy="660.9" r="6.2"/><circle cx="185.6" cy="678.8" r="6.2"/><circle cx="175.0" cy="693.1" r="6.2"/><circle cx="186.2" cy="697.5" r="6.2"/><circle cx="212.5" cy="630.6" r="6.2"/><circle cx="213.1" cy="672.2" r="6.2"/><circle cx="199.4" cy="676.9" r="6.2"/><circle cx="206.2" cy="681.2" r="6.2"/><circle cx="213.8" cy="696.9" r="6.2"/><circle cx="234.4" cy="631.9" r="6.2"/><circle cx="223.8" cy="685.6" r="6.2"/><circle cx="228.8" cy="692.5" r="6.2"/><circle cx="238.8" cy="681.2" r="6.2"/><circle cx="245.0" cy="686.2" r="6.2"/><circle cx="253.8" cy="663.8" r="6.2"/><circle cx="257.5" cy="690.0" r="6.2"/><circle cx="260.0" cy="691.9" r="6.2"/><circle cx="266.0" cy="636.2" r="6.2"/><circle cx="272.5" cy="675.0" r="6.2"/><circle cx="271.2" cy="691.9" r="6.2"/><circle cx="279.8" cy="664.0" r="6.2"/><circle cx="287.5" cy="697.5" r="6.2"/><circle cx="296.2" cy="675.0" r="6.2"/><circle cx="295.0" cy="685.0" r="6.2"/><circle cx="291.2" cy="697.5" r="6.2"/><circle cx="296.2" cy="683.1" r="6.2"/><circle cx="304.8" cy="692.1" r="6.2"/><circle cx="319.0" cy="689.0" r="6.2"/><circle cx="326.9" cy="677.5" r="6.2"/><circle cx="331.2" cy="618.5" r="6.2"/><circle cx="330.2" cy="637.5" r="6.2"/><circle cx="334.8" cy="656.5" r="6.2"/><circle cx="350.6" cy="687.5" r="6.2"/><circle cx="359.4" cy="687.5" r="6.2"/><circle cx="363.4" cy="657.5" r="6.2"/><circle cx="378.1" cy="665.0" r="6.2"/><circle cx="375.0" cy="681.2" r="6.2"/><circle cx="383.8" cy="686.2" r="6.2"/><circle cx="385.0" cy="696.9" r="6.2"/><circle cx="395.6" cy="676.9" r="6.2"/><circle cx="405.6" cy="682.5" r="6.2"/><circle cx="426.2" cy="651.2" r="6.2"/><circle cx="431.2" cy="651.2" r="6.2"/><circle cx="438.8" cy="646.2" r="6.2"/><circle cx="422.5" cy="695.0" r="6.2"/><circle cx="435.6" cy="686.2" r="6.2"/><circle cx="449.5" cy="698.8" r="6.2"/><circle cx="456.9" cy="691.9" r="6.2"/><circle cx="471.2" cy="695.6" r="6.2"/><circle cx="467.0" cy="554.2" r="6.2"/><circle cx="495.0" cy="637.2" r="6.2"/><circle cx="493.8" cy="689.8" r="6.2"/><circle cx="518.5" cy="638.1" r="6.2"/><circle cx="586.9" cy="671.2" r="6.2"/><circle cx="610.0" cy="668.8" r="6.2"/><circle cx="622.2" cy="665.6" r="6.2"/><circle cx="626.9" cy="689.4" r="6.2"/><circle cx="636.9" cy="691.2" r="6.2"/><circle cx="642.5" cy="696.9" r="6.2"/><circle cx="640.6" cy="692.5" r="6.2"/><circle cx="652.5" cy="563.1" r="6.2"/><circle cx="656.2" cy="574.4" r="6.2"/><circle cx="676.5" cy="682.5" r="6.2"/><circle cx="687.1" cy="669.4" r="6.2"/><circle cx="708.1" cy="689.4" r="6.2"/><circle cx="728.1" cy="694.4" r="6.2"/><circle cx="741.5" cy="673.8" r="6.2"/><circle cx="762.5" cy="696.9" r="6.2"/><circle cx="768.1" cy="696.2" r="6.2"/><circle cx="783.1" cy="692.5" r="6.2"/><circle cx="789.4" cy="693.1" r="6.2"/><circle cx="791.2" cy="588.0" r="6.2"/><circle cx="803.5" cy="689.8" r="6.2"/><circle cx="810.6" cy="678.1" r="6.2"/><circle cx="835.6" cy="661.5" r="6.2"/><circle cx="839.4" cy="669.4" r="6.2"/><circle cx="859.0" cy="560.0" r="6.2"/><circle cx="885.6" cy="543.6" r="6.2"/><circle cx="922.4" cy="509.0" r="6.2"/><circle cx="911.0" cy="591.0" r="6.2"/><circle cx="905.0" cy="598.0" r="6.2"/><circle cx="871.0" cy="603.0" r="6.2"/><circle cx="876.0" cy="606.0" r="6.2"/><circle cx="893.0" cy="605.0" r="6.2"/><circle cx="939.4" cy="593.0" r="6.2"/><circle cx="932.0" cy="605.6" r="6.2"/><circle cx="976.4" cy="598.0" r="6.2"/><circle cx="1001.6" cy="615.0" r="6.2"/><circle cx="1021.6" cy="572.0" r="6.2"/><circle cx="1025.0" cy="589.0" r="6.2"/><circle cx="1037.0" cy="617.0" r="6.2"/><circle cx="967.0" cy="636.0" r="6.2"/><circle cx="982.0" cy="615.0" r="6.2"/><circle cx="988.0" cy="618.0" r="6.2"/><circle cx="994.0" cy="632.0" r="6.2"/><circle cx="1128.0" cy="480.0" r="6.2"/><circle cx="1185.6" cy="479.4" r="6.2"/><circle cx="1088.0" cy="494.6" r="6.2"/><circle cx="1053.6" cy="550.0" r="6.2"/><circle cx="1045.6" cy="570.6" r="6.2"/><circle cx="1098.0" cy="559.0" r="6.2"/><circle cx="1193.0" cy="535.6" r="6.2"/><circle cx="1200.6" cy="548.0" r="6.2"/><circle cx="1134.0" cy="562.0" r="6.2"/><circle cx="1138.0" cy="570.0" r="6.2"/><circle cx="1161.0" cy="578.0" r="6.2"/><circle cx="1144.0" cy="588.0" r="6.2"/><circle cx="1089.0" cy="589.6" r="6.2"/><circle cx="1195.0" cy="576.0" r="6.2"/><circle cx="1152.4" cy="603.0" r="6.2"/><circle cx="1126.0" cy="600.0" r="6.2"/><circle cx="1071.0" cy="618.0" r="6.2"/><circle cx="1030.0" cy="588.0" r="6.2"/><circle cx="1120.0" cy="614.0" r="6.2"/><circle cx="1186.0" cy="623.0" r="6.2"/><circle cx="1037.6" cy="616.0" r="6.2"/><circle cx="1045.0" cy="616.0" r="6.2"/><circle cx="1086.0" cy="634.0" r="6.2"/><circle cx="1100.0" cy="630.0" r="6.2"/><circle cx="1102.0" cy="638.0" r="6.2"/><circle cx="1055.0" cy="633.0" r="6.2"/><circle cx="1211.0" cy="692.0" r="6.2"/><circle cx="857.2" cy="691.6" r="6.2"/><circle cx="858.2" cy="681.5" r="6.2"/><circle cx="857.9" cy="682.5" r="6.2"/><circle cx="859.0" cy="683.0" r="6.2"/><circle cx="859.4" cy="684.6" r="6.2"/><circle cx="859.8" cy="692.4" r="6.2"/><circle cx="861.0" cy="616.9" r="6.2"/><circle cx="861.8" cy="641.9" r="6.2"/><circle cx="862.0" cy="652.2" r="6.2"/><circle cx="862.9" cy="654.6" r="6.2"/><circle cx="863.1" cy="690.1" r="6.2"/><circle cx="863.6" cy="677.0" r="6.2"/><circle cx="864.4" cy="666.1" r="6.2"/><circle cx="865.7" cy="643.6" r="6.2"/><circle cx="865.9" cy="685.7" r="6.2"/><circle cx="865.8" cy="669.1" r="6.2"/><circle cx="866.4" cy="651.0" r="6.2"/><circle cx="867.0" cy="653.5" r="6.2"/><circle cx="867.5" cy="633.0" r="6.2"/><circle cx="867.8" cy="692.2" r="6.2"/><circle cx="867.6" cy="679.5" r="6.2"/><circle cx="869.0" cy="622.6" r="6.2"/><circle cx="868.5" cy="643.5" r="6.2"/><circle cx="869.4" cy="618.2" r="6.2"/><circle cx="870.0" cy="689.7" r="6.2"/><circle cx="870.7" cy="646.4" r="6.2"/><circle cx="870.8" cy="658.9" r="6.2"/><circle cx="871.2" cy="669.9" r="6.2"/><circle cx="871.4" cy="688.8" r="6.2"/><circle cx="872.6" cy="683.6" r="6.2"/><circle cx="873.6" cy="687.7" r="6.2"/><circle cx="873.8" cy="694.5" r="6.2"/><circle cx="874.5" cy="684.0" r="6.2"/><circle cx="875.9" cy="681.1" r="6.2"/><circle cx="875.8" cy="684.5" r="6.2"/><circle cx="875.5" cy="686.0" r="6.2"/><circle cx="876.9" cy="683.1" r="6.2"/><circle cx="876.7" cy="691.3" r="6.2"/><circle cx="878.0" cy="665.9" r="6.2"/><circle cx="878.7" cy="661.6" r="6.2"/><circle cx="879.7" cy="649.3" r="6.2"/><circle cx="880.1" cy="688.1" r="6.2"/><circle cx="880.5" cy="641.5" r="6.2"/><circle cx="881.0" cy="671.1" r="6.2"/><circle cx="881.8" cy="671.9" r="6.2"/><circle cx="882.2" cy="678.4" r="6.2"/><circle cx="881.6" cy="678.3" r="6.2"/><circle cx="883.1" cy="669.6" r="6.2"/><circle cx="883.1" cy="684.5" r="6.2"/><circle cx="883.1" cy="674.2" r="6.2"/><circle cx="883.5" cy="659.4" r="6.2"/><circle cx="884.1" cy="691.7" r="6.2"/><circle cx="884.1" cy="676.0" r="6.2"/><circle cx="884.9" cy="685.0" r="6.2"/><circle cx="885.1" cy="697.0" r="6.2"/><circle cx="885.4" cy="645.9" r="6.2"/><circle cx="887.0" cy="672.4" r="6.2"/><circle cx="888.0" cy="678.3" r="6.2"/><circle cx="887.8" cy="686.3" r="6.2"/><circle cx="889.2" cy="680.2" r="6.2"/><circle cx="888.7" cy="689.5" r="6.2"/><circle cx="889.5" cy="670.5" r="6.2"/><circle cx="891.0" cy="667.7" r="6.2"/><circle cx="890.8" cy="671.7" r="6.2"/><circle cx="891.5" cy="666.9" r="6.2"/><circle cx="891.5" cy="695.0" r="6.2"/><circle cx="893.1" cy="661.4" r="6.2"/><circle cx="892.8" cy="684.3" r="6.2"/><circle cx="893.8" cy="669.8" r="6.2"/><circle cx="894.7" cy="655.6" r="6.2"/><circle cx="894.5" cy="686.9" r="6.2"/><circle cx="896.2" cy="657.1" r="6.2"/><circle cx="895.5" cy="690.4" r="6.2"/><circle cx="896.0" cy="665.2" r="6.2"/><circle cx="896.8" cy="683.4" r="6.2"/><circle cx="898.2" cy="678.5" r="6.2"/><circle cx="897.8" cy="688.8" r="6.2"/><circle cx="898.8" cy="644.7" r="6.2"/><circle cx="899.4" cy="684.0" r="6.2"/><circle cx="901.1" cy="621.1" r="6.2"/><circle cx="901.1" cy="646.7" r="6.2"/><circle cx="902.1" cy="673.1" r="6.2"/><circle cx="902.0" cy="689.2" r="6.2"/><circle cx="902.6" cy="688.5" r="6.2"/><circle cx="902.5" cy="690.4" r="6.2"/><circle cx="903.7" cy="667.4" r="6.2"/><circle cx="903.4" cy="687.5" r="6.2"/><circle cx="904.6" cy="687.1" r="6.2"/><circle cx="904.5" cy="696.8" r="6.2"/><circle cx="905.9" cy="655.2" r="6.2"/><circle cx="905.9" cy="683.4" r="6.2"/><circle cx="905.9" cy="687.7" r="6.2"/><circle cx="905.4" cy="683.5" r="6.2"/><circle cx="906.9" cy="633.3" r="6.2"/><circle cx="906.6" cy="649.1" r="6.2"/><circle cx="906.8" cy="633.9" r="6.2"/><circle cx="907.5" cy="653.5" r="6.2"/><circle cx="909.2" cy="688.8" r="6.2"/><circle cx="909.2" cy="694.7" r="6.2"/><circle cx="909.2" cy="689.5" r="6.2"/><circle cx="908.9" cy="693.6" r="6.2"/><circle cx="909.7" cy="673.0" r="6.2"/><circle cx="910.1" cy="674.5" r="6.2"/><circle cx="911.2" cy="676.7" r="6.2"/><circle cx="910.4" cy="685.2" r="6.2"/><circle cx="911.9" cy="689.0" r="6.2"/><circle cx="911.9" cy="689.1" r="6.2"/><circle cx="911.9" cy="691.7" r="6.2"/><circle cx="911.6" cy="692.6" r="6.2"/><circle cx="912.8" cy="675.2" r="6.2"/><circle cx="912.6" cy="688.2" r="6.2"/><circle cx="913.4" cy="622.8" r="6.2"/><circle cx="913.5" cy="633.5" r="6.2"/><circle cx="914.2" cy="676.8" r="6.2"/><circle cx="914.8" cy="636.0" r="6.2"/><circle cx="914.7" cy="643.9" r="6.2"/><circle cx="915.4" cy="680.1" r="6.2"/><circle cx="916.4" cy="608.6" r="6.2"/><circle cx="916.4" cy="678.1" r="6.2"/><circle cx="918.2" cy="613.4" r="6.2"/><circle cx="917.5" cy="697.3" r="6.2"/><circle cx="918.8" cy="691.0" r="6.2"/><circle cx="919.0" cy="696.0" r="6.2"/><circle cx="919.6" cy="611.8" r="6.2"/><circle cx="920.6" cy="681.0" r="6.2"/><circle cx="922.1" cy="621.5" r="6.2"/><circle cx="922.0" cy="693.0" r="6.2"/><circle cx="922.8" cy="681.6" r="6.2"/><circle cx="923.2" cy="697.6" r="6.2"/><circle cx="922.8" cy="682.3" r="6.2"/><circle cx="922.7" cy="691.9" r="6.2"/><circle cx="923.9" cy="685.4" r="6.2"/><circle cx="924.1" cy="696.4" r="6.2"/><circle cx="924.5" cy="673.2" r="6.2"/><circle cx="925.1" cy="692.1" r="6.2"/><circle cx="925.9" cy="669.4" r="6.2"/><circle cx="926.6" cy="672.4" r="6.2"/><circle cx="927.1" cy="688.3" r="6.2"/><circle cx="927.2" cy="695.1" r="6.2"/><circle cx="927.5" cy="686.6" r="6.2"/><circle cx="927.5" cy="696.4" r="6.2"/><circle cx="928.9" cy="685.7" r="6.2"/><circle cx="930.1" cy="668.4" r="6.2"/><circle cx="930.5" cy="679.0" r="6.2"/><circle cx="931.0" cy="690.9" r="6.2"/><circle cx="931.0" cy="693.7" r="6.2"/><circle cx="930.8" cy="697.5" r="6.2"/><circle cx="931.1" cy="681.2" r="6.2"/><circle cx="931.1" cy="687.3" r="6.2"/><circle cx="932.1" cy="671.5" r="6.2"/><circle cx="931.9" cy="678.8" r="6.2"/><circle cx="933.0" cy="676.2" r="6.2"/><circle cx="932.7" cy="697.0" r="6.2"/><circle cx="933.5" cy="662.8" r="6.2"/><circle cx="933.8" cy="670.9" r="6.2"/><circle cx="934.8" cy="658.2" r="6.2"/><circle cx="935.1" cy="671.2" r="6.2"/><circle cx="934.9" cy="689.1" r="6.2"/><circle cx="935.8" cy="643.3" r="6.2"/><circle cx="935.5" cy="687.1" r="6.2"/><circle cx="935.6" cy="676.4" r="6.2"/><circle cx="935.6" cy="662.5" r="6.2"/><circle cx="936.8" cy="635.4" r="6.2"/><circle cx="936.6" cy="637.8" r="6.2"/><circle cx="936.9" cy="653.2" r="6.2"/><circle cx="936.7" cy="640.6" r="6.2"/><circle cx="936.7" cy="675.0" r="6.2"/><circle cx="937.9" cy="674.4" r="6.2"/><circle cx="937.5" cy="689.1" r="6.2"/><circle cx="938.8" cy="670.1" r="6.2"/><circle cx="938.8" cy="677.8" r="6.2"/><circle cx="938.6" cy="679.0" r="6.2"/><circle cx="938.7" cy="692.4" r="6.2"/><circle cx="940.0" cy="673.6" r="6.2"/><circle cx="939.9" cy="682.3" r="6.2"/><circle cx="940.6" cy="680.3" r="6.2"/><circle cx="940.9" cy="686.7" r="6.2"/><circle cx="941.2" cy="695.1" r="6.2"/><circle cx="941.9" cy="640.2" r="6.2"/><circle cx="942.8" cy="632.6" r="6.2"/><circle cx="942.8" cy="677.9" r="6.2"/><circle cx="943.5" cy="612.6" r="6.2"/><circle cx="943.4" cy="646.5" r="6.2"/><circle cx="943.6" cy="639.1" r="6.2"/><circle cx="945.0" cy="680.6" r="6.2"/><circle cx="944.6" cy="683.6" r="6.2"/><circle cx="945.9" cy="644.0" r="6.2"/><circle cx="946.7" cy="680.4" r="6.2"/><circle cx="946.4" cy="683.9" r="6.2"/><circle cx="948.1" cy="644.6" r="6.2"/><circle cx="947.8" cy="653.8" r="6.2"/><circle cx="947.9" cy="670.7" r="6.2"/><circle cx="947.7" cy="676.9" r="6.2"/><circle cx="948.5" cy="648.5" r="6.2"/><circle cx="948.8" cy="653.1" r="6.2"/><circle cx="948.4" cy="658.7" r="6.2"/><circle cx="950.0" cy="634.2" r="6.2"/><circle cx="950.0" cy="681.3" r="6.2"/><circle cx="950.7" cy="683.8" r="6.2"/><circle cx="950.5" cy="693.5" r="6.2"/><circle cx="951.5" cy="686.3" r="6.2"/><circle cx="952.7" cy="652.4" r="6.2"/><circle cx="953.6" cy="677.4" r="6.2"/><circle cx="954.2" cy="690.1" r="6.2"/><circle cx="954.1" cy="678.7" r="6.2"/><circle cx="954.1" cy="685.2" r="6.2"/><circle cx="955.2" cy="683.8" r="6.2"/><circle cx="954.9" cy="689.7" r="6.2"/><circle cx="954.6" cy="697.6" r="6.2"/><circle cx="955.7" cy="653.6" r="6.2"/><circle cx="955.9" cy="666.8" r="6.2"/><circle cx="956.4" cy="636.7" r="6.2"/><circle cx="958.2" cy="650.8" r="6.2"/><circle cx="957.8" cy="663.5" r="6.2"/><circle cx="958.8" cy="663.2" r="6.2"/><circle cx="958.6" cy="681.3" r="6.2"/><circle cx="958.7" cy="681.4" r="6.2"/><circle cx="959.5" cy="655.0" r="6.2"/><circle cx="960.9" cy="682.5" r="6.2"/><circle cx="961.0" cy="697.7" r="6.2"/><circle cx="961.8" cy="663.7" r="6.2"/><circle cx="961.8" cy="676.5" r="6.2"/><circle cx="962.0" cy="688.2" r="6.2"/><circle cx="963.2" cy="631.3" r="6.2"/><circle cx="962.6" cy="642.6" r="6.2"/><circle cx="962.5" cy="659.9" r="6.2"/><circle cx="962.7" cy="692.6" r="6.2"/><circle cx="963.9" cy="647.6" r="6.2"/><circle cx="963.8" cy="695.8" r="6.2"/><circle cx="964.6" cy="666.2" r="6.2"/><circle cx="965.6" cy="663.6" r="6.2"/><circle cx="967.2" cy="682.5" r="6.2"/><circle cx="966.9" cy="683.7" r="6.2"/><circle cx="967.8" cy="678.3" r="6.2"/><circle cx="967.4" cy="688.6" r="6.2"/><circle cx="968.2" cy="680.6" r="6.2"/><circle cx="968.7" cy="656.7" r="6.2"/><circle cx="968.9" cy="658.9" r="6.2"/><circle cx="970.2" cy="662.4" r="6.2"/><circle cx="969.9" cy="680.6" r="6.2"/><circle cx="969.4" cy="688.9" r="6.2"/><circle cx="969.7" cy="668.4" r="6.2"/><circle cx="969.8" cy="677.5" r="6.2"/><circle cx="970.2" cy="664.5" r="6.2"/><circle cx="971.2" cy="660.7" r="6.2"/><circle cx="970.6" cy="696.6" r="6.2"/><circle cx="971.1" cy="682.9" r="6.2"/><circle cx="971.6" cy="675.6" r="6.2"/><circle cx="972.1" cy="677.3" r="6.2"/><circle cx="972.6" cy="682.5" r="6.2"/><circle cx="973.7" cy="660.2" r="6.2"/><circle cx="974.2" cy="666.0" r="6.2"/><circle cx="974.2" cy="696.9" r="6.2"/><circle cx="974.5" cy="622.4" r="6.2"/><circle cx="975.0" cy="672.0" r="6.2"/><circle cx="974.4" cy="695.3" r="6.2"/><circle cx="975.2" cy="686.5" r="6.2"/><circle cx="975.0" cy="639.1" r="6.2"/><circle cx="976.1" cy="652.5" r="6.2"/><circle cx="975.4" cy="660.2" r="6.2"/><circle cx="975.4" cy="687.6" r="6.2"/><circle cx="976.0" cy="661.2" r="6.2"/><circle cx="975.8" cy="695.4" r="6.2"/><circle cx="976.5" cy="669.9" r="6.2"/><circle cx="976.4" cy="671.4" r="6.2"/><circle cx="977.0" cy="694.1" r="6.2"/><circle cx="977.7" cy="665.2" r="6.2"/><circle cx="979.0" cy="643.5" r="6.2"/><circle cx="979.4" cy="682.8" r="6.2"/><circle cx="980.8" cy="688.4" r="6.2"/><circle cx="981.7" cy="667.3" r="6.2"/><circle cx="981.6" cy="685.7" r="6.2"/><circle cx="981.5" cy="669.8" r="6.2"/><circle cx="982.7" cy="687.9" r="6.2"/><circle cx="983.9" cy="682.0" r="6.2"/><circle cx="983.6" cy="695.3" r="6.2"/><circle cx="984.0" cy="695.5" r="6.2"/><circle cx="984.8" cy="680.1" r="6.2"/><circle cx="986.1" cy="681.2" r="6.2"/><circle cx="985.6" cy="695.9" r="6.2"/><circle cx="985.8" cy="692.8" r="6.2"/><circle cx="985.8" cy="696.4" r="6.2"/><circle cx="987.2" cy="683.3" r="6.2"/><circle cx="986.7" cy="696.4" r="6.2"/><circle cx="988.2" cy="604.9" r="6.2"/><circle cx="987.5" cy="657.8" r="6.2"/><circle cx="988.6" cy="685.0" r="6.2"/><circle cx="989.1" cy="691.4" r="6.2"/><circle cx="988.4" cy="693.7" r="6.2"/><circle cx="988.6" cy="688.6" r="6.2"/><circle cx="988.8" cy="692.9" r="6.2"/><circle cx="989.4" cy="657.3" r="6.2"/><circle cx="989.8" cy="667.1" r="6.2"/><circle cx="990.6" cy="668.9" r="6.2"/><circle cx="992.1" cy="659.4" r="6.2"/><circle cx="991.9" cy="665.4" r="6.2"/><circle cx="992.6" cy="681.3" r="6.2"/><circle cx="992.5" cy="687.1" r="6.2"/><circle cx="992.9" cy="691.1" r="6.2"/><circle cx="993.6" cy="686.9" r="6.2"/><circle cx="994.1" cy="693.1" r="6.2"/><circle cx="994.9" cy="684.6" r="6.2"/><circle cx="995.8" cy="676.8" r="6.2"/><circle cx="995.7" cy="689.9" r="6.2"/><circle cx="996.2" cy="677.8" r="6.2"/><circle cx="996.7" cy="673.4" r="6.2"/><circle cx="996.8" cy="678.8" r="6.2"/><circle cx="997.8" cy="638.4" r="6.2"/><circle cx="997.6" cy="676.9" r="6.2"/><circle cx="999.0" cy="674.2" r="6.2"/><circle cx="999.2" cy="689.5" r="6.2"/><circle cx="999.8" cy="681.1" r="6.2"/><circle cx="1000.6" cy="689.2" r="6.2"/><circle cx="1000.7" cy="695.1" r="6.2"/><circle cx="1001.0" cy="693.2" r="6.2"/><circle cx="1001.7" cy="660.3" r="6.2"/><circle cx="1001.7" cy="664.8" r="6.2"/><circle cx="1001.6" cy="677.8" r="6.2"/><circle cx="1001.4" cy="671.8" r="6.2"/><circle cx="1002.7" cy="660.9" r="6.2"/><circle cx="1004.0" cy="627.7" r="6.2"/><circle cx="1004.9" cy="634.9" r="6.2"/><circle cx="1005.2" cy="687.3" r="6.2"/><circle cx="1004.8" cy="687.6" r="6.2"/><circle cx="1005.9" cy="646.0" r="6.2"/><circle cx="1006.0" cy="664.3" r="6.2"/><circle cx="1007.2" cy="666.8" r="6.2"/><circle cx="1006.9" cy="674.6" r="6.2"/><circle cx="1007.8" cy="680.2" r="6.2"/><circle cx="1007.7" cy="693.2" r="6.2"/><circle cx="1008.0" cy="691.4" r="6.2"/><circle cx="1008.2" cy="684.1" r="6.2"/><circle cx="1009.2" cy="621.2" r="6.2"/><circle cx="1009.7" cy="614.2" r="6.2"/><circle cx="1011.1" cy="654.4" r="6.2"/><circle cx="1011.1" cy="664.8" r="6.2"/><circle cx="1012.2" cy="666.2" r="6.2"/><circle cx="1011.4" cy="690.5" r="6.2"/><circle cx="1011.5" cy="670.8" r="6.2"/><circle cx="1012.5" cy="655.5" r="6.2"/><circle cx="1012.5" cy="682.9" r="6.2"/><circle cx="1013.8" cy="670.5" r="6.2"/><circle cx="1013.9" cy="689.9" r="6.2"/><circle cx="1013.9" cy="693.3" r="6.2"/><circle cx="1015.0" cy="644.9" r="6.2"/><circle cx="1014.4" cy="692.5" r="6.2"/><circle cx="1015.1" cy="662.1" r="6.2"/><circle cx="1016.1" cy="668.4" r="6.2"/><circle cx="1016.5" cy="683.5" r="6.2"/><circle cx="1016.6" cy="688.5" r="6.2"/><circle cx="1016.7" cy="685.4" r="6.2"/><circle cx="1018.2" cy="676.5" r="6.2"/><circle cx="1017.8" cy="689.9" r="6.2"/><circle cx="1019.2" cy="655.5" r="6.2"/><circle cx="1018.8" cy="693.3" r="6.2"/><circle cx="1018.7" cy="692.8" r="6.2"/><circle cx="1019.0" cy="674.4" r="6.2"/><circle cx="1020.2" cy="671.3" r="6.2"/><circle cx="1019.4" cy="672.3" r="6.2"/><circle cx="1019.7" cy="695.5" r="6.2"/><circle cx="1020.9" cy="610.8" r="6.2"/><circle cx="1021.1" cy="688.9" r="6.2"/><circle cx="1021.6" cy="660.0" r="6.2"/><circle cx="1021.8" cy="661.3" r="6.2"/><circle cx="1022.9" cy="682.7" r="6.2"/><circle cx="1022.6" cy="694.5" r="6.2"/><circle cx="1023.5" cy="687.1" r="6.2"/><circle cx="1024.0" cy="692.8" r="6.2"/><circle cx="1024.4" cy="683.8" r="6.2"/><circle cx="1025.2" cy="685.4" r="6.2"/><circle cx="1024.6" cy="692.8" r="6.2"/><circle cx="1025.9" cy="647.4" r="6.2"/><circle cx="1026.7" cy="621.7" r="6.2"/><circle cx="1026.5" cy="638.0" r="6.2"/><circle cx="1027.0" cy="677.9" r="6.2"/><circle cx="1028.1" cy="666.1" r="6.2"/><circle cx="1027.7" cy="686.3" r="6.2"/><circle cx="1029.0" cy="677.0" r="6.2"/><circle cx="1029.2" cy="692.6" r="6.2"/><circle cx="1029.0" cy="677.9" r="6.2"/><circle cx="1029.7" cy="649.9" r="6.2"/><circle cx="1029.9" cy="684.7" r="6.2"/><circle cx="1029.5" cy="675.5" r="6.2"/><circle cx="1030.8" cy="659.5" r="6.2"/><circle cx="1030.5" cy="696.7" r="6.2"/><circle cx="1030.9" cy="664.9" r="6.2"/><circle cx="1031.5" cy="663.5" r="6.2"/><circle cx="1031.9" cy="691.2" r="6.2"/><circle cx="1033.0" cy="685.6" r="6.2"/><circle cx="1032.9" cy="696.3" r="6.2"/><circle cx="1034.0" cy="667.6" r="6.2"/><circle cx="1033.8" cy="668.3" r="6.2"/><circle cx="1034.6" cy="663.4" r="6.2"/><circle cx="1034.6" cy="685.9" r="6.2"/><circle cx="1034.7" cy="697.7" r="6.2"/><circle cx="1034.7" cy="671.5" r="6.2"/><circle cx="1035.9" cy="660.3" r="6.2"/><circle cx="1037.2" cy="644.5" r="6.2"/><circle cx="1038.0" cy="690.9" r="6.2"/><circle cx="1037.4" cy="691.6" r="6.2"/><circle cx="1037.8" cy="697.8" r="6.2"/><circle cx="1038.4" cy="630.0" r="6.2"/><circle cx="1038.8" cy="670.4" r="6.2"/><circle cx="1039.8" cy="602.6" r="6.2"/><circle cx="1040.8" cy="658.0" r="6.2"/><circle cx="1040.5" cy="665.1" r="6.2"/><circle cx="1040.4" cy="692.9" r="6.2"/><circle cx="1040.9" cy="674.1" r="6.2"/><circle cx="1042.0" cy="678.3" r="6.2"/><circle cx="1041.5" cy="680.8" r="6.2"/><circle cx="1042.9" cy="678.5" r="6.2"/><circle cx="1042.9" cy="685.1" r="6.2"/><circle cx="1042.7" cy="683.2" r="6.2"/><circle cx="1042.4" cy="691.1" r="6.2"/><circle cx="1043.7" cy="611.4" r="6.2"/><circle cx="1044.7" cy="654.7" r="6.2"/><circle cx="1044.8" cy="683.1" r="6.2"/><circle cx="1045.6" cy="659.1" r="6.2"/><circle cx="1045.6" cy="667.1" r="6.2"/><circle cx="1046.8" cy="639.8" r="6.2"/><circle cx="1046.8" cy="663.2" r="6.2"/><circle cx="1046.8" cy="694.0" r="6.2"/><circle cx="1048.0" cy="643.6" r="6.2"/><circle cx="1049.1" cy="658.3" r="6.2"/><circle cx="1048.6" cy="668.7" r="6.2"/><circle cx="1049.1" cy="678.8" r="6.2"/><circle cx="1050.2" cy="634.6" r="6.2"/><circle cx="1049.9" cy="643.3" r="6.2"/><circle cx="1050.2" cy="668.9" r="6.2"/><circle cx="1051.2" cy="648.5" r="6.2"/><circle cx="1051.2" cy="695.7" r="6.2"/><circle cx="1051.1" cy="664.3" r="6.2"/><circle cx="1052.1" cy="636.8" r="6.2"/><circle cx="1052.2" cy="657.2" r="6.2"/><circle cx="1051.5" cy="650.8" r="6.2"/><circle cx="1051.8" cy="639.2" r="6.2"/><circle cx="1051.6" cy="675.2" r="6.2"/><circle cx="1052.6" cy="654.4" r="6.2"/><circle cx="1053.1" cy="655.0" r="6.2"/><circle cx="1053.8" cy="674.7" r="6.2"/><circle cx="1054.5" cy="669.6" r="6.2"/><circle cx="1056.0" cy="645.3" r="6.2"/><circle cx="1056.1" cy="690.5" r="6.2"/><circle cx="1057.2" cy="650.2" r="6.2"/><circle cx="1057.5" cy="680.9" r="6.2"/><circle cx="1058.8" cy="590.9" r="6.2"/><circle cx="1058.9" cy="697.5" r="6.2"/><circle cx="1059.5" cy="600.8" r="6.2"/><circle cx="1059.4" cy="685.5" r="6.2"/><circle cx="1060.2" cy="695.4" r="6.2"/><circle cx="1059.5" cy="667.1" r="6.2"/><circle cx="1059.4" cy="688.5" r="6.2"/><circle cx="1059.8" cy="658.2" r="6.2"/><circle cx="1060.7" cy="666.4" r="6.2"/><circle cx="1061.9" cy="637.8" r="6.2"/><circle cx="1061.8" cy="651.0" r="6.2"/><circle cx="1062.2" cy="655.4" r="6.2"/><circle cx="1062.8" cy="661.7" r="6.2"/><circle cx="1062.6" cy="663.3" r="6.2"/><circle cx="1062.5" cy="694.4" r="6.2"/><circle cx="1063.8" cy="688.0" r="6.2"/><circle cx="1064.4" cy="647.0" r="6.2"/><circle cx="1064.8" cy="651.9" r="6.2"/><circle cx="1066.2" cy="648.0" r="6.2"/><circle cx="1065.4" cy="654.1" r="6.2"/><circle cx="1067.1" cy="613.4" r="6.2"/><circle cx="1067.0" cy="668.4" r="6.2"/><circle cx="1067.8" cy="641.2" r="6.2"/><circle cx="1067.8" cy="663.8" r="6.2"/><circle cx="1068.1" cy="642.7" r="6.2"/><circle cx="1069.1" cy="678.1" r="6.2"/><circle cx="1069.9" cy="674.4" r="6.2"/><circle cx="1070.2" cy="694.9" r="6.2"/><circle cx="1069.6" cy="696.6" r="6.2"/><circle cx="1070.9" cy="643.2" r="6.2"/><circle cx="1071.7" cy="664.1" r="6.2"/><circle cx="1073.2" cy="656.0" r="6.2"/><circle cx="1074.0" cy="681.0" r="6.2"/><circle cx="1074.0" cy="690.7" r="6.2"/><circle cx="1074.8" cy="590.9" r="6.2"/><circle cx="1074.7" cy="600.1" r="6.2"/><circle cx="1075.9" cy="685.4" r="6.2"/><circle cx="1076.8" cy="656.6" r="6.2"/><circle cx="1077.0" cy="684.2" r="6.2"/><circle cx="1077.8" cy="663.0" r="6.2"/><circle cx="1078.8" cy="680.2" r="6.2"/><circle cx="1078.6" cy="697.6" r="6.2"/><circle cx="1078.6" cy="697.3" r="6.2"/><circle cx="1079.8" cy="681.7" r="6.2"/><circle cx="1079.5" cy="692.5" r="6.2"/><circle cx="1080.7" cy="682.3" r="6.2"/><circle cx="1081.8" cy="683.6" r="6.2"/><circle cx="1081.4" cy="692.9" r="6.2"/><circle cx="1082.1" cy="684.7" r="6.2"/><circle cx="1083.1" cy="666.8" r="6.2"/><circle cx="1082.7" cy="682.9" r="6.2"/><circle cx="1083.0" cy="687.4" r="6.2"/><circle cx="1084.0" cy="684.4" r="6.2"/><circle cx="1083.5" cy="694.0" r="6.2"/><circle cx="1084.6" cy="677.1" r="6.2"/><circle cx="1084.4" cy="695.4" r="6.2"/><circle cx="1084.5" cy="685.8" r="6.2"/><circle cx="1085.0" cy="690.6" r="6.2"/><circle cx="1085.6" cy="639.6" r="6.2"/><circle cx="1085.8" cy="655.1" r="6.2"/><circle cx="1085.6" cy="695.2" r="6.2"/><circle cx="1086.4" cy="650.5" r="6.2"/><circle cx="1086.8" cy="655.4" r="6.2"/><circle cx="1087.7" cy="686.2" r="6.2"/><circle cx="1089.0" cy="650.1" r="6.2"/><circle cx="1089.2" cy="684.8" r="6.2"/><circle cx="1088.4" cy="680.9" r="6.2"/><circle cx="1089.9" cy="688.1" r="6.2"/><circle cx="1089.6" cy="693.7" r="6.2"/><circle cx="1089.7" cy="696.0" r="6.2"/><circle cx="1091.0" cy="642.6" r="6.2"/><circle cx="1091.1" cy="692.5" r="6.2"/><circle cx="1090.4" cy="657.1" r="6.2"/><circle cx="1092.2" cy="680.6" r="6.2"/><circle cx="1092.1" cy="695.3" r="6.2"/><circle cx="1092.6" cy="689.5" r="6.2"/><circle cx="1092.8" cy="693.3" r="6.2"/><circle cx="1093.9" cy="680.9" r="6.2"/><circle cx="1093.5" cy="697.2" r="6.2"/><circle cx="1095.2" cy="681.3" r="6.2"/><circle cx="1096.1" cy="676.4" r="6.2"/><circle cx="1095.9" cy="691.8" r="6.2"/><circle cx="1095.5" cy="681.9" r="6.2"/><circle cx="1096.2" cy="685.8" r="6.2"/><circle cx="1096.6" cy="680.9" r="6.2"/><circle cx="1096.8" cy="695.8" r="6.2"/><circle cx="1098.1" cy="682.6" r="6.2"/><circle cx="1098.2" cy="686.5" r="6.2"/><circle cx="1097.9" cy="683.2" r="6.2"/><circle cx="1098.7" cy="649.8" r="6.2"/><circle cx="1098.9" cy="694.6" r="6.2"/><circle cx="1098.7" cy="675.7" r="6.2"/><circle cx="1099.5" cy="671.3" r="6.2"/><circle cx="1099.6" cy="677.1" r="6.2"/><circle cx="1100.2" cy="681.4" r="6.2"/><circle cx="1100.9" cy="657.0" r="6.2"/><circle cx="1100.7" cy="687.3" r="6.2"/><circle cx="1101.2" cy="679.1" r="6.2"/><circle cx="1102.0" cy="659.5" r="6.2"/><circle cx="1102.8" cy="616.4" r="6.2"/><circle cx="1103.2" cy="637.8" r="6.2"/><circle cx="1103.7" cy="658.1" r="6.2"/><circle cx="1103.9" cy="682.8" r="6.2"/><circle cx="1103.6" cy="674.8" r="6.2"/><circle cx="1105.2" cy="687.6" r="6.2"/><circle cx="1105.2" cy="696.2" r="6.2"/><circle cx="1106.2" cy="665.0" r="6.2"/><circle cx="1105.5" cy="692.1" r="6.2"/><circle cx="1106.8" cy="654.0" r="6.2"/><circle cx="1107.1" cy="689.4" r="6.2"/><circle cx="1106.6" cy="669.7" r="6.2"/><circle cx="1106.6" cy="660.1" r="6.2"/><circle cx="1106.9" cy="674.8" r="6.2"/><circle cx="1108.2" cy="661.5" r="6.2"/><circle cx="1108.5" cy="654.1" r="6.2"/><circle cx="1109.0" cy="679.3" r="6.2"/><circle cx="1108.9" cy="684.5" r="6.2"/><circle cx="1108.7" cy="688.7" r="6.2"/><circle cx="1110.2" cy="644.8" r="6.2"/><circle cx="1109.8" cy="683.6" r="6.2"/><circle cx="1109.5" cy="683.5" r="6.2"/><circle cx="1110.5" cy="613.0" r="6.2"/><circle cx="1111.1" cy="689.7" r="6.2"/><circle cx="1111.9" cy="666.1" r="6.2"/><circle cx="1112.7" cy="640.4" r="6.2"/><circle cx="1113.2" cy="665.7" r="6.2"/><circle cx="1112.4" cy="668.6" r="6.2"/><circle cx="1112.9" cy="680.5" r="6.2"/><circle cx="1113.8" cy="683.7" r="6.2"/><circle cx="1114.8" cy="658.6" r="6.2"/><circle cx="1114.7" cy="683.3" r="6.2"/><circle cx="1116.2" cy="588.6" r="6.2"/><circle cx="1115.9" cy="634.2" r="6.2"/><circle cx="1116.7" cy="684.5" r="6.2"/><circle cx="1116.6" cy="690.1" r="6.2"/><circle cx="1117.2" cy="692.9" r="6.2"/><circle cx="1117.4" cy="679.9" r="6.2"/><circle cx="1118.1" cy="693.2" r="6.2"/><circle cx="1117.9" cy="689.8" r="6.2"/><circle cx="1117.6" cy="693.5" r="6.2"/><circle cx="1118.6" cy="663.0" r="6.2"/><circle cx="1118.9" cy="677.6" r="6.2"/><circle cx="1119.5" cy="680.7" r="6.2"/><circle cx="1120.2" cy="681.2" r="6.2"/><circle cx="1119.6" cy="687.9" r="6.2"/><circle cx="1119.6" cy="685.5" r="6.2"/><circle cx="1120.5" cy="615.2" r="6.2"/><circle cx="1121.0" cy="697.0" r="6.2"/><circle cx="1121.4" cy="633.7" r="6.2"/><circle cx="1122.7" cy="618.5" r="6.2"/><circle cx="1122.7" cy="639.7" r="6.2"/><circle cx="1122.9" cy="632.9" r="6.2"/><circle cx="1123.7" cy="626.8" r="6.2"/><circle cx="1125.0" cy="642.8" r="6.2"/><circle cx="1125.1" cy="661.5" r="6.2"/><circle cx="1124.6" cy="694.0" r="6.2"/><circle cx="1126.2" cy="658.4" r="6.2"/><circle cx="1127.0" cy="600.3" r="6.2"/><circle cx="1126.7" cy="679.9" r="6.2"/><circle cx="1126.7" cy="636.9" r="6.2"/><circle cx="1128.0" cy="625.4" r="6.2"/><circle cx="1127.7" cy="642.8" r="6.2"/><circle cx="1129.1" cy="593.8" r="6.2"/><circle cx="1130.2" cy="643.1" r="6.2"/><circle cx="1131.2" cy="628.9" r="6.2"/><circle cx="1131.4" cy="645.3" r="6.2"/><circle cx="1132.7" cy="593.4" r="6.2"/><circle cx="1133.2" cy="625.4" r="6.2"/><circle cx="1133.6" cy="588.6" r="6.2"/><circle cx="1134.6" cy="650.2" r="6.2"/><circle cx="1136.2" cy="643.9" r="6.2"/><circle cx="1136.8" cy="643.4" r="6.2"/><circle cx="1137.0" cy="663.5" r="6.2"/><circle cx="1137.7" cy="670.7" r="6.2"/><circle cx="1138.0" cy="680.5" r="6.2"/><circle cx="1139.2" cy="611.1" r="6.2"/><circle cx="1139.9" cy="663.8" r="6.2"/><circle cx="1139.9" cy="693.4" r="6.2"/><circle cx="1139.4" cy="696.1" r="6.2"/><circle cx="1141.1" cy="675.1" r="6.2"/><circle cx="1140.7" cy="677.2" r="6.2"/><circle cx="1142.2" cy="670.3" r="6.2"/><circle cx="1141.4" cy="673.0" r="6.2"/><circle cx="1142.4" cy="675.7" r="6.2"/><circle cx="1142.6" cy="680.0" r="6.2"/><circle cx="1143.6" cy="680.7" r="6.2"/><circle cx="1144.2" cy="688.3" r="6.2"/><circle cx="1144.4" cy="611.6" r="6.2"/><circle cx="1145.8" cy="689.3" r="6.2"/><circle cx="1147.1" cy="647.5" r="6.2"/><circle cx="1146.9" cy="675.2" r="6.2"/><circle cx="1147.0" cy="649.2" r="6.2"/><circle cx="1147.9" cy="631.8" r="6.2"/><circle cx="1148.8" cy="678.0" r="6.2"/><circle cx="1148.7" cy="679.2" r="6.2"/><circle cx="1148.4" cy="690.9" r="6.2"/><circle cx="1149.4" cy="601.9" r="6.2"/><circle cx="1150.0" cy="648.2" r="6.2"/><circle cx="1149.4" cy="681.9" r="6.2"/><circle cx="1150.5" cy="588.6" r="6.2"/><circle cx="1150.9" cy="684.6" r="6.2"/><circle cx="1150.7" cy="681.7" r="6.2"/><circle cx="1150.5" cy="591.9" r="6.2"/><circle cx="1151.7" cy="588.6" r="6.2"/><circle cx="1152.0" cy="635.7" r="6.2"/><circle cx="1151.7" cy="604.1" r="6.2"/><circle cx="1152.1" cy="622.1" r="6.2"/><circle cx="1151.8" cy="612.6" r="6.2"/><circle cx="1152.5" cy="623.9" r="6.2"/><circle cx="1152.7" cy="663.0" r="6.2"/><circle cx="1152.6" cy="627.9" r="6.2"/><circle cx="1153.5" cy="600.4" r="6.2"/><circle cx="1155.0" cy="634.5" r="6.2"/><circle cx="1156.2" cy="671.9" r="6.2"/><circle cx="1155.9" cy="687.4" r="6.2"/><circle cx="1157.0" cy="676.0" r="6.2"/><circle cx="1157.0" cy="682.6" r="6.2"/><circle cx="1158.0" cy="656.9" r="6.2"/><circle cx="1157.9" cy="690.0" r="6.2"/><circle cx="1158.7" cy="620.0" r="6.2"/><circle cx="1159.0" cy="625.2" r="6.2"/><circle cx="1158.5" cy="693.3" r="6.2"/><circle cx="1159.7" cy="671.1" r="6.2"/><circle cx="1159.8" cy="694.9" r="6.2"/><circle cx="1159.9" cy="683.8" r="6.2"/><circle cx="1160.8" cy="628.7" r="6.2"/><circle cx="1160.6" cy="636.3" r="6.2"/><circle cx="1160.4" cy="680.5" r="6.2"/><circle cx="1161.6" cy="682.7" r="6.2"/><circle cx="1162.0" cy="685.1" r="6.2"/><circle cx="1162.5" cy="608.8" r="6.2"/><circle cx="1163.0" cy="622.2" r="6.2"/><circle cx="1163.9" cy="640.8" r="6.2"/><circle cx="1164.2" cy="649.2" r="6.2"/><circle cx="1165.1" cy="676.2" r="6.2"/><circle cx="1164.4" cy="676.7" r="6.2"/><circle cx="1165.4" cy="629.3" r="6.2"/><circle cx="1165.9" cy="690.0" r="6.2"/><circle cx="1166.0" cy="651.3" r="6.2"/><circle cx="1166.8" cy="688.3" r="6.2"/><circle cx="1167.0" cy="696.2" r="6.2"/><circle cx="1168.2" cy="647.8" r="6.2"/><circle cx="1168.0" cy="648.8" r="6.2"/><circle cx="1167.7" cy="664.6" r="6.2"/><circle cx="1169.2" cy="644.9" r="6.2"/><circle cx="1170.0" cy="659.6" r="6.2"/><circle cx="1169.9" cy="667.7" r="6.2"/><circle cx="1171.1" cy="679.5" r="6.2"/><circle cx="1171.8" cy="682.6" r="6.2"/><circle cx="1171.5" cy="682.9" r="6.2"/><circle cx="1172.8" cy="634.3" r="6.2"/><circle cx="1173.2" cy="661.6" r="6.2"/><circle cx="1172.4" cy="689.1" r="6.2"/><circle cx="1173.8" cy="672.1" r="6.2"/><circle cx="1173.9" cy="674.9" r="6.2"/><circle cx="1173.4" cy="693.5" r="6.2"/><circle cx="1174.1" cy="683.9" r="6.2"/><circle cx="1175.2" cy="678.3" r="6.2"/><circle cx="1174.8" cy="679.5" r="6.2"/><circle cx="1175.4" cy="604.3" r="6.2"/><circle cx="1176.6" cy="680.1" r="6.2"/><circle cx="1176.9" cy="689.3" r="6.2"/><circle cx="1178.1" cy="648.6" r="6.2"/><circle cx="1178.7" cy="682.6" r="6.2"/><circle cx="1179.5" cy="690.9" r="6.2"/><circle cx="1180.0" cy="692.6" r="6.2"/><circle cx="1181.0" cy="664.2" r="6.2"/><circle cx="1181.0" cy="669.0" r="6.2"/><circle cx="1182.0" cy="686.8" r="6.2"/><circle cx="1183.1" cy="639.5" r="6.2"/><circle cx="1182.7" cy="694.4" r="6.2"/><circle cx="1182.5" cy="655.6" r="6.2"/><circle cx="1183.7" cy="686.4" r="6.2"/><circle cx="1185.2" cy="635.6" r="6.2"/><circle cx="1184.7" cy="659.2" r="6.2"/><circle cx="1185.1" cy="654.7" r="6.2"/><circle cx="1185.7" cy="650.2" r="6.2"/><circle cx="1186.5" cy="682.1" r="6.2"/><circle cx="1187.1" cy="694.6" r="6.2"/><circle cx="1188.2" cy="605.8" r="6.2"/><circle cx="1189.0" cy="649.7" r="6.2"/><circle cx="1189.6" cy="640.3" r="6.2"/><circle cx="1191.2" cy="668.5" r="6.2"/><circle cx="1192.0" cy="678.7" r="6.2"/><circle cx="1192.0" cy="695.7" r="6.2"/><circle cx="1192.4" cy="652.5" r="6.2"/><circle cx="1192.5" cy="678.5" r="6.2"/><circle cx="1193.0" cy="658.0" r="6.2"/><circle cx="1192.4" cy="695.7" r="6.2"/><circle cx="1193.7" cy="651.2" r="6.2"/><circle cx="1194.0" cy="697.2" r="6.2"/><circle cx="1194.9" cy="666.2" r="6.2"/><circle cx="1195.1" cy="666.5" r="6.2"/><circle cx="1196.2" cy="672.3" r="6.2"/><circle cx="1196.0" cy="673.2" r="6.2"/><circle cx="1195.6" cy="697.3" r="6.2"/><circle cx="1196.5" cy="689.0" r="6.2"/><circle cx="1196.6" cy="695.4" r="6.2"/><circle cx="1196.9" cy="692.8" r="6.2"/><circle cx="1197.0" cy="697.4" r="6.2"/><circle cx="1198.2" cy="629.1" r="6.2"/><circle cx="1198.2" cy="631.6" r="6.2"/><circle cx="1197.7" cy="670.7" r="6.2"/><circle cx="1198.2" cy="663.1" r="6.2"/><circle cx="1198.6" cy="680.7" r="6.2"/><circle cx="1198.7" cy="694.3" r="6.2"/><circle cx="1198.7" cy="691.2" r="6.2"/><circle cx="1199.5" cy="676.8" r="6.2"/><circle cx="1200.2" cy="677.0" r="6.2"/><circle cx="1201.1" cy="686.4" r="6.2"/><circle cx="1200.9" cy="689.5" r="6.2"/><circle cx="1201.6" cy="643.5" r="6.2"/><circle cx="1202.7" cy="668.3" r="6.2"/><circle cx="1203.0" cy="676.7" r="6.2"/><circle cx="1203.9" cy="666.9" r="6.2"/><circle cx="1204.6" cy="690.3" r="6.2"/><circle cx="1205.8" cy="686.9" r="6.2"/><circle cx="1205.9" cy="696.6" r="6.2"/><circle cx="1206.8" cy="685.2" r="6.2"/><circle cx="1206.9" cy="693.1" r="6.2"/><circle cx="1208.1" cy="690.3" r="6.2"/><circle cx="1209.2" cy="663.6" r="6.2"/><circle cx="1209.2" cy="689.4" r="6.2"/><circle cx="1208.7" cy="684.0" r="6.2"/><circle cx="1208.4" cy="686.7" r="6.2"/><circle cx="1208.4" cy="675.0" r="6.2"/><circle cx="1209.6" cy="687.0" r="6.2"/><circle cx="1209.7" cy="689.9" r="6.2"/></g>
<path fill="none" stroke="#6a8bc8" stroke-width="2.8" stroke-linecap="round" d="M149.8 796.1V729.2M150.8 795.4V676.5M151.8 795.8V692.5M152.8 795.2V740.6M153.8 793.8V704.5M154.8 794.6V740.0M155.8 795.8V692.5M156.8 795.0V737.5M157.8 795.1V738.8M158.8 795.8V713.7M159.8 796.0V672.5M160.8 794.8V734.3M161.8 796.2V743.1M162.8 796.1V738.6M163.8 794.8V742.8M164.8 794.3V739.5M165.8 795.8V742.0M166.8 794.2V725.9M167.8 795.3V739.2M168.8 794.7V715.5M169.8 795.8V739.3M170.8 794.7V742.9M171.8 795.3V739.5M172.8 795.0V720.5M173.8 795.9V743.1M174.8 795.1V693.1M175.8 795.7V740.4M176.8 795.7V720.9M177.8 793.0V741.4M178.8 795.7V729.0M179.8 795.1V635.4M180.8 794.5V726.7M181.8 795.5V706.6M182.8 795.4V741.1M183.8 794.4V651.2M184.8 795.1V721.4M185.8 795.9V678.8M186.8 794.1V707.4M187.8 795.5V739.3M188.8 795.1V739.2M189.8 795.9V742.2M190.8 796.1V716.6M191.8 795.4V719.3M192.8 795.5V660.9M193.8 794.3V739.6M194.8 796.0V739.8M195.8 795.7V729.3M196.8 795.6V743.0M197.8 794.6V719.5M198.8 795.1V726.8M199.8 795.5V676.9M200.8 794.9V736.1M201.8 793.9V740.8M202.8 795.8V739.0M203.8 794.6V740.0M204.8 794.9V715.0M205.8 796.0V681.2M206.8 796.0V739.2M207.8 796.1V739.0M208.8 796.0V740.3M209.8 794.9V735.5M210.8 795.3V739.6M211.8 794.5V742.2M212.8 795.9V630.6M213.8 794.1V696.9M214.8 796.1V719.3M215.8 795.6V738.5M216.8 796.0V734.9M217.8 796.0V738.6M218.8 794.7V741.5M219.8 795.1V720.3M220.8 795.3V701.3M221.8 796.1V741.2M222.8 796.0V741.2M223.8 795.4V685.6M224.8 795.1V741.8M225.8 795.0V711.8M226.8 795.6V702.8M227.8 795.4V739.3M228.8 795.4V692.5M229.8 795.0V733.1M230.8 794.2V729.9M231.8 794.6V717.5M232.8 795.4V706.1M233.8 796.0V707.6M234.8 796.0V631.9M235.8 795.6V704.5M236.8 795.6V720.9M237.8 795.2V716.4M238.8 795.9V681.2M239.8 794.9V742.9M240.8 795.8V742.3M241.8 795.3V739.3M242.8 795.7V743.2M243.8 795.6V740.9M244.8 795.8V686.2M245.8 795.7V740.1M246.8 795.4V743.9M247.8 795.4V741.3M248.8 796.1V728.6M249.8 794.0V740.1M250.8 795.9V739.7M251.8 793.9V738.9M252.8 794.5V720.5M253.8 795.3V663.8M254.8 795.7V741.5M255.8 796.0V743.0M256.8 795.5V743.5M257.8 792.3V690.0M258.8 796.1V732.6M259.8 796.2V691.9M260.8 794.3V729.3M261.8 796.1V738.6M262.8 795.7V738.9M263.8 796.0V717.8M264.8 794.8V728.5M265.8 795.8V636.2M266.8 795.4V707.4M267.8 795.8V729.3M268.8 796.0V715.4M269.8 796.0V729.3M270.8 794.6V691.9M271.8 795.9V742.2M272.8 795.2V675.0M273.8 795.6V710.6M274.8 795.6V715.9M275.8 792.9V728.4M276.8 794.5V742.3M277.8 795.3V739.0M278.8 795.8V729.0M279.8 795.6V664.0M280.8 795.9V739.5M281.8 795.2V738.6M282.8 796.1V735.8M283.8 795.1V720.0M284.8 795.6V717.4M285.8 796.1V739.2M286.8 795.4V713.0M287.8 795.9V697.5M288.8 793.4V711.3M289.8 794.5V738.8M290.8 796.0V697.5M291.8 795.9V733.7M292.8 795.8V724.6M293.8 795.3V738.4M294.8 796.1V685.0M295.8 795.9V675.0M296.8 795.1V740.3M297.8 795.9V742.4M298.8 795.8V716.7M299.8 795.6V703.5M300.8 793.8V715.1M301.8 796.1V709.1M302.8 795.6V739.6M303.8 795.2V742.4M304.8 793.4V692.1M305.8 795.4V742.2M306.8 796.0V727.0M307.8 795.8V739.6M308.8 796.0V715.4M309.8 795.0V724.6M310.8 795.1V742.8M311.8 795.7V740.3M312.8 796.0V738.9M313.8 795.7V743.3M314.8 795.7V741.2M315.8 794.8V741.5M316.8 795.6V741.1M317.8 794.6V739.2M318.8 795.7V689.0M319.8 794.4V743.3M320.8 796.2V740.4M321.8 795.1V724.8M322.8 796.0V717.0M323.8 795.0V740.6M324.8 795.6V736.2M325.8 795.6V739.2M326.8 793.2V677.5M327.8 795.8V702.0M328.8 795.6V741.3M329.8 795.6V637.5M330.8 793.4V618.5M331.8 795.7V740.9M332.8 795.3V714.4M333.8 795.6V731.8M334.8 795.8V656.5M335.8 795.7V740.6M336.8 795.1V728.5M337.8 794.3V720.8M338.8 796.0V740.0M339.8 795.6V743.1M340.8 795.5V705.0M341.8 795.2V722.9M342.8 795.6V738.6M343.8 795.6V732.4M344.8 795.2V732.8M345.8 795.9V718.0M346.8 795.5V719.7M347.8 795.8V722.3M348.8 795.9V740.9M349.8 795.5V738.7M350.8 795.4V687.5M351.8 795.0V727.4M352.8 794.8V743.0M353.8 796.1V702.5M354.8 794.3V736.6M355.8 795.2V740.1M356.8 796.1V743.3M357.8 793.7V735.3M358.8 795.0V704.5M359.8 795.7V687.5M360.8 794.4V725.7M361.8 795.3V727.8M362.8 796.0V742.3M363.8 795.9V657.5M364.8 795.3V740.7M365.8 796.1V706.0M366.8 794.7V723.9M367.8 796.0V742.2M368.8 795.8V739.8M369.8 796.0V741.1M370.8 794.4V742.1M371.8 795.2V717.8M372.8 795.5V716.3M373.8 795.8V713.7M374.8 795.3V681.2M375.8 796.1V732.3M376.8 794.9V742.4M377.8 795.7V665.0M378.8 795.0V727.4M379.8 796.1V743.6M380.8 793.3V741.4M381.8 794.8V743.5M382.8 795.3V724.8M383.8 795.9V686.2M384.8 795.7V696.9M385.8 796.2V741.9M386.8 795.6V740.1M387.8 796.0V743.5M388.8 795.9V738.6M389.8 795.2V743.9M390.8 795.9V739.4M391.8 794.9V733.3M392.8 793.9V725.6M393.8 794.3V742.2M394.8 796.1V728.5M395.8 794.8V676.9M396.8 795.8V738.8M397.8 793.8V738.3M398.8 795.4V742.1M399.8 795.3V739.0M400.8 795.1V740.1M401.8 796.2V742.1M402.8 795.1V739.8M403.8 795.3V712.2M404.8 796.1V741.1M405.8 795.3V682.5M406.8 796.0V739.7M407.8 795.6V741.3M408.8 795.8V733.1M409.8 796.0V716.6M410.8 794.9V739.5M411.8 795.6V739.5M412.8 795.0V714.9M413.8 796.2V734.9M414.8 795.9V738.6M415.8 795.3V739.3M416.8 794.2V740.7M417.8 794.6V726.5M418.8 794.6V737.7M419.8 795.9V733.6M420.8 794.2V713.2M421.8 796.1V742.1M422.8 796.1V695.0M423.8 794.7V733.6M424.8 795.3V739.3M425.8 795.9V651.2M426.8 795.1V743.8M427.8 796.2V717.7M428.8 795.9V742.0M429.8 795.9V731.2M430.8 795.3V651.2M431.8 795.4V740.7M432.8 794.0V733.2M433.8 795.0V741.1M434.8 795.9V718.7M435.8 795.9V686.2M436.8 795.9V740.9M437.8 795.2V739.6M438.8 795.0V646.2M439.8 794.7V727.9M440.8 796.1V724.3M441.8 795.6V726.0M442.8 794.7V741.8M443.8 796.2V740.6M444.8 794.2V740.9M445.8 795.3V742.4M446.8 794.9V739.5M447.8 796.1V729.7M448.8 794.6V729.2M449.8 794.8V698.8M450.8 795.2V714.2M451.8 793.0V736.9M452.8 796.1V717.9M453.8 794.7V703.8M454.8 794.8V725.3M455.8 795.6V702.2M456.8 796.1V691.9M457.8 795.9V729.7M458.8 795.0V723.1M459.8 795.4V709.7M460.8 795.2V722.9M461.8 795.3V708.9M462.8 795.6V699.9M463.8 795.9V708.7M464.8 792.8V709.6M465.8 795.8V703.2M466.8 794.6V554.2M467.8 796.2V718.6M468.8 795.9V713.7M469.8 795.8V722.6M470.8 795.6V695.6M471.8 795.4V726.4M472.8 795.2V739.6M473.8 794.2V735.3M474.8 794.9V717.3M475.8 794.2V743.8M476.8 795.9V739.6M477.8 795.9V739.0M478.8 795.8V740.9M479.8 795.8V739.9M480.8 795.3V740.8M481.8 794.6V743.2M482.8 796.0V743.7M483.8 796.1V743.9M484.8 794.8V728.9M485.8 795.0V716.6M486.8 793.6V708.0M487.8 795.4V709.9M488.8 796.2V729.8M489.8 794.1V708.3M490.8 796.1V724.7M491.8 795.9V719.3M492.8 794.5V707.3M493.8 795.3V689.8M494.8 795.4V637.2M495.8 795.5V719.3M496.8 795.0V721.2M497.8 795.9V739.0M498.8 795.9V705.9M499.8 796.2V743.7M500.8 794.8V738.5M501.8 795.5V740.0M502.8 795.6V748.1M503.8 794.2V764.5M504.8 795.7V763.0M505.8 794.1V755.5M506.8 794.8V754.7M507.8 795.3V763.4M508.8 795.4V762.6M509.8 795.9V764.9M510.8 794.6V763.5M511.8 796.0V762.7M512.8 796.0V762.6M513.8 796.0V733.8M514.8 794.9V763.3M515.8 796.2V748.3M516.8 795.6V757.4M517.8 795.1V731.2M518.8 795.7V638.1M519.8 792.9V746.6M520.8 795.8V763.2M521.8 794.2V755.3M522.8 794.4V754.0M523.8 795.9V763.0M524.8 794.5V762.9M525.8 794.1V764.9M526.8 795.5V763.8M527.8 795.7V764.2M528.8 795.6V763.7M529.8 795.8V756.0M530.8 795.4V746.1M531.8 795.7V762.9M532.8 795.9V762.0M533.8 795.1V746.0M534.8 795.9V762.4M535.8 795.8V743.4M536.8 796.1V756.9M537.8 794.8V724.5M538.8 793.6V752.5M539.8 795.9V760.5M540.8 795.7V763.0M541.8 794.9V763.5M542.8 795.6V762.2M543.8 794.9V762.9M544.8 795.7V764.9M545.8 795.9V765.1M546.8 794.7V762.8M547.8 795.7V760.8M548.8 795.4V762.6M549.8 795.7V755.7M550.8 794.5V762.8M551.8 795.8V752.6M552.8 795.7V763.3M553.8 795.8V763.3M554.8 796.0V762.5M555.8 795.5V762.3M556.8 795.9V763.0M557.8 795.2V762.8M558.8 794.2V753.6M559.8 795.2V763.7M560.8 793.6V765.3M561.8 796.1V751.3M562.8 795.2V763.7M563.8 794.4V763.1M564.8 795.0V760.9M565.8 796.1V754.0M566.8 795.4V757.6M567.8 795.5V752.5M568.8 795.4V745.1M569.8 796.0V763.5M570.8 796.0V732.9M571.8 796.1V739.9M572.8 795.7V754.4M573.8 795.2V760.2M574.8 795.4V763.5M575.8 795.8V719.4M576.8 795.6V721.6M577.8 795.6V761.4M578.8 796.1V765.2M579.8 795.6V760.0M580.8 794.7V755.7M581.8 796.2V718.7M582.8 794.1V762.6M583.8 795.8V743.3M584.8 796.0V762.6M585.8 794.2V764.1M586.8 795.6V671.2M587.8 795.4V758.2M588.8 795.5V765.2M589.8 795.8V762.2M590.8 795.8V754.0M591.8 795.8V764.4M592.8 795.1V762.6M593.8 795.7V755.8M594.8 795.7V763.2M595.8 795.4V760.2M596.8 795.4V762.8M597.8 795.7V764.3M598.8 794.5V746.7M599.8 795.7V764.0M600.8 795.8V762.3M601.8 793.1V752.0M602.8 795.5V761.5M603.8 795.5V754.5M604.8 795.9V757.7M605.8 795.2V763.5M606.8 795.8V760.7M607.8 796.0V740.8M608.8 795.9V744.5M609.8 795.0V668.8M610.8 794.2V734.1M611.8 796.0V716.2M612.8 795.7V756.0M613.8 795.9V734.6M614.8 796.1V737.6M615.8 795.5V719.6M616.8 795.7V728.1M617.8 795.3V724.5M618.8 795.4V758.3M619.8 795.7V741.6M620.8 795.7V764.5M621.8 794.4V665.6M622.8 796.0V763.0M623.8 796.0V762.9M624.8 794.8V761.9M625.8 795.9V764.2M626.8 795.3V689.4M627.8 795.4V765.1M628.8 795.4V762.1M629.8 795.1V763.3M630.8 795.8V758.1M631.8 795.5V754.4M632.8 795.0V762.5M633.8 793.2V758.8M634.8 795.5V762.9M635.8 795.4V763.1M636.8 795.1V691.2M637.8 796.2V762.9M638.8 794.6V749.0M639.8 793.9V764.9M640.8 795.4V692.5M641.8 795.2V744.5M642.8 795.7V696.9M643.8 796.0V751.1M644.8 793.7V732.8M645.8 795.9V733.8M646.8 794.2V713.5M647.8 795.9V737.8M648.8 795.9V761.1M649.8 794.7V708.8M650.8 795.9V729.7M651.8 796.2V747.3M652.8 794.6V563.1M653.8 795.9V735.6M654.8 794.7V764.1M655.8 795.7V574.4M656.8 795.3V764.2M657.8 796.0V734.2M658.8 793.4V762.4M659.8 795.4V763.6M660.8 795.2V763.5M661.8 795.6V730.8M662.8 794.8V745.8M663.8 795.1V760.8M664.8 795.6V763.3M665.8 796.1V762.4M666.8 794.4V764.3M667.8 796.2V737.6M668.8 796.0V762.8M669.8 795.5V757.9M670.8 795.8V765.1M671.8 794.9V763.2M672.8 795.5V758.5M673.8 795.8V764.3M674.8 796.2V721.8M675.8 795.7V759.6M676.8 795.7V682.5M677.8 796.0V749.7M678.8 795.9V743.3M679.8 795.3V706.4M680.8 795.2V752.8M681.8 795.5V738.5M682.8 795.5V752.7M683.8 795.8V754.1M684.8 795.5V720.7M685.8 795.7V751.1M686.8 794.6V669.4M687.8 795.8V763.1M688.8 793.8V758.5M689.8 795.3V736.5M690.8 795.6V757.2M691.8 796.1V755.3M692.8 795.0V762.9M693.8 795.4V733.6M694.8 794.2V734.3M695.8 795.4V765.1M696.8 794.9V762.1M697.8 795.0V764.4M698.8 793.8V759.3M699.8 794.7V756.9M700.8 794.7V762.5M701.8 795.7V763.9M702.8 795.5V762.5M703.8 795.1V735.2M704.8 795.3V762.7M705.8 796.2V750.2M706.8 795.2V754.9M707.8 796.2V689.4M708.8 795.5V763.2M709.8 796.1V760.2M710.8 795.1V717.9M711.8 795.6V744.2M712.8 794.9V732.1M713.8 795.9V763.2M714.8 794.0V748.2M715.8 795.4V710.2M716.8 795.6V763.4M717.8 796.1V761.8M718.8 795.3V736.7M719.8 795.7V764.1M720.8 792.8V762.3M721.8 795.4V740.7M722.8 796.0V758.0M723.8 796.1V729.0M724.8 795.4V754.6M725.8 795.6V757.7M726.8 795.2V763.1M727.8 795.5V694.4M728.8 795.5V747.6M729.8 796.0V765.2M730.8 795.6V750.2M731.8 795.5V740.9M732.8 795.7V764.6M733.8 795.5V715.4M734.8 794.8V764.5M735.8 796.2V765.1M736.8 795.4V736.7M737.8 793.5V745.0M738.8 795.8V762.7M739.8 794.0V745.2M740.8 796.0V734.6M741.8 795.9V673.8M742.8 795.9V737.2M743.8 795.9V762.9M744.8 795.3V737.8M745.8 795.1V762.7M746.8 795.8V754.4M747.8 793.2V762.4M748.8 795.0V762.5M749.8 795.5V762.8M750.8 795.7V753.2M751.8 795.4V757.2M752.8 795.8V749.5M753.8 795.6V734.7M754.8 795.6V751.1M755.8 794.4V749.4M756.8 795.9V750.0M757.8 795.1V764.5M758.8 795.1V735.7M759.8 792.3V750.8M760.8 795.8V765.2M761.8 795.7V718.2M762.8 796.1V696.9M763.8 794.4V763.3M764.8 795.4V753.1M765.8 796.2V752.9M766.8 792.5V755.2M767.8 791.8V696.2M768.8 794.1V748.0M769.8 795.8V765.0M770.8 795.7V734.1M771.8 795.8V735.8M772.8 794.8V755.2M773.8 795.9V762.7M774.8 796.2V763.2M775.8 794.4V728.5M776.8 796.1V763.4M777.8 796.1V755.9M778.8 795.1V750.9M779.8 795.4V752.6M780.8 794.4V724.9M781.8 795.7V764.8M782.8 794.4V692.5M783.8 796.0V763.8M784.8 795.6V745.6M785.8 795.7V739.3M786.8 795.6V753.5M787.8 795.4V763.3M788.8 795.1V750.8M789.8 796.0V693.1M790.8 796.0V588.0M791.8 795.7V706.3M792.8 794.8V763.3M793.8 796.1V723.8M794.8 796.0V702.3M795.8 795.9V749.0M796.8 794.9V763.0M797.8 796.0V728.0M798.8 795.3V721.7M799.8 795.0V756.5M800.8 796.1V743.9M801.8 795.0V720.1M802.8 795.6V744.4M803.8 796.1V689.8M804.8 795.4V752.9M805.8 795.8V707.2M806.8 795.8V764.0M807.8 796.2V704.8M808.8 796.0V740.5M809.8 795.8V764.3M810.8 794.9V678.1M811.8 794.6V737.6M812.8 796.1V730.5M813.8 794.9V743.8M814.8 796.2V702.9M815.8 795.3V762.7M816.8 795.7V762.9M817.8 795.6V716.8M818.8 794.9V731.5M819.8 794.1V715.7M820.8 795.1V732.5M821.8 796.2V713.0M822.8 794.8V745.2M823.8 795.4V755.8M824.8 795.0V765.0M825.8 795.9V762.3M826.8 796.0V764.1M827.8 795.3V763.3M828.8 796.0V762.8M829.8 796.2V764.8M830.8 795.8V764.0M831.8 795.5V759.5M832.8 796.0V742.2M833.8 794.5V763.5M834.8 795.1V763.2M835.8 796.1V661.5M836.8 795.5V760.8M837.8 796.2V756.5M838.8 795.6V759.9M839.8 795.8V669.4M840.8 795.3V761.6M841.8 795.2V760.7M842.8 795.3V758.4M843.8 795.5V747.1M844.8 795.5V757.5M845.8 796.1V756.1M846.8 796.1V754.7M847.8 795.3V755.3M848.8 794.1V755.3M849.8 795.2V753.6M850.8 796.0V752.0M851.8 794.6V754.1M852.8 796.0V745.5M853.8 794.9V753.9M854.8 794.8V725.5M855.8 794.7V739.7M856.8 793.2V691.6M857.8 792.8V681.5M858.8 790.5V560.0M859.8 793.6V684.6M860.8 794.2V616.9M861.8 793.9V641.9M862.8 793.6V654.6M863.8 791.4V677.0M864.8 791.1V666.1M865.8 788.7V643.6M866.8 792.1V651.0M867.8 788.7V633.0M868.8 793.1V622.6M869.8 792.9V618.2M870.8 793.1V603.0M871.8 794.1V688.8M872.8 792.9V683.6M873.8 793.3V687.7M874.8 793.3V684.0M875.8 792.3V606.0M876.8 792.7V683.1M877.8 792.3V665.9M878.8 794.0V661.6M879.8 789.3V649.3M880.8 790.8V641.5M881.8 793.1V671.9M882.8 792.1V669.6M883.8 792.3V659.4M884.8 792.9V685.0M885.8 791.9V543.6M886.8 791.4V672.4M887.8 792.0V678.3M888.8 791.2V680.2M889.8 793.8V670.5M890.8 792.8V667.7M891.8 794.1V666.9M892.8 793.4V605.0M893.8 791.7V669.8M894.8 793.6V655.6M895.8 792.6V657.1M896.8 792.8V683.4M897.8 793.1V678.5M898.8 790.6V644.7M899.8 793.6V684.0M900.8 792.7V621.1M901.8 792.7V673.1M902.8 793.2V688.5M903.8 792.5V667.4M904.8 794.4V598.0M905.8 793.3V655.2M906.8 792.8V633.3M907.8 794.3V653.5M908.8 794.3V688.8M909.8 791.5V673.0M910.8 794.3V591.0M911.8 792.1V689.0M912.8 793.1V675.2M913.8 793.7V622.8M914.8 793.0V636.0M915.8 792.4V680.1M916.8 788.2V608.6M917.8 793.2V613.4M918.8 793.3V691.0M919.8 793.6V611.8M920.8 791.5V681.0M921.8 792.5V621.5M922.8 793.0V509.0M923.8 793.0V685.4M924.8 793.6V673.2M925.8 793.5V669.4M926.8 792.9V672.4M927.8 793.2V686.6M928.8 793.1V685.7M929.8 793.9V668.4M930.8 793.9V679.0M931.8 793.1V605.6M932.8 793.8V676.2M933.8 791.9V662.8M934.8 793.0V658.2M935.8 792.1V643.3M936.8 793.9V635.4M937.8 794.3V674.4M938.8 793.6V670.1M939.8 794.2V593.0M940.8 791.6V680.3M941.8 793.6V640.2M942.8 793.6V632.6M943.8 793.8V612.6M944.8 794.1V680.6M945.8 790.3V644.0M946.8 793.7V680.4M947.8 793.1V644.6M948.8 794.0V648.5M949.8 792.5V634.2M950.8 793.5V683.8M951.8 793.9V686.3M952.8 793.3V652.4M953.8 793.4V677.4M954.8 792.5V683.8M955.8 793.1V653.6M956.8 792.2V636.7M957.8 793.7V650.8M958.8 792.8V663.2M959.8 792.8V655.0M960.8 793.2V682.5M961.8 792.9V663.7M962.8 791.3V631.3M963.8 791.7V647.6M964.8 792.6V666.2M965.8 791.7V663.6M966.8 793.2V636.0M967.8 792.9V678.3M968.8 792.8V656.7M969.8 788.3V662.4M970.8 794.0V660.7M971.8 793.8V675.6M972.8 793.2V682.5M973.8 790.9V660.2M974.8 792.9V622.4M975.8 792.8V652.5M976.8 792.6V598.0M977.8 793.0V665.2M978.8 793.2V643.5M979.8 791.7V682.8M980.8 793.8V688.4M981.8 791.6V615.0M982.8 793.4V687.9M983.8 792.2V682.0M984.8 793.0V680.1M985.8 792.5V681.2M986.8 792.8V683.3M987.8 793.1V604.9M988.8 790.8V685.0M989.8 792.5V657.3M990.8 791.9V668.9M991.8 794.0V659.4M992.8 793.2V681.3M993.8 787.7V632.0M994.8 790.7V684.6M995.8 792.2V676.8M996.8 793.9V673.4M997.8 793.6V638.4M998.8 792.1V674.2M999.8 793.5V681.1M1000.8 791.2V689.2M1001.8 792.3V615.0M1002.8 792.0V660.9M1003.8 793.7V627.7M1004.8 792.2V634.9M1005.8 793.2V646.0M1006.8 793.7V666.8M1007.8 789.8V680.2M1008.8 792.8V621.2M1009.8 790.6V614.2M1010.8 792.7V654.4M1011.8 790.1V666.2M1012.8 793.2V655.5M1013.8 794.1V670.5M1014.8 792.5V644.9M1015.8 793.9V668.4M1016.8 792.4V683.5M1017.8 792.8V676.5M1018.8 794.5V655.5M1019.8 794.1V671.3M1020.8 792.4V610.8M1021.8 793.5V572.0M1022.8 791.4V682.7M1023.8 794.1V687.1M1024.8 793.6V589.0M1025.8 793.3V647.4M1026.8 792.6V621.7M1027.8 792.6V666.1M1028.8 791.5V677.0M1029.8 792.1V588.0M1030.8 793.6V659.5M1031.8 791.9V663.5M1032.8 790.8V685.6M1033.8 794.2V667.6M1034.8 793.4V663.4M1035.8 788.5V660.3M1036.8 792.0V617.0M1037.8 792.2V616.0M1038.8 792.5V630.0M1039.8 793.0V602.6M1040.8 794.4V658.0M1041.8 792.8V678.3M1042.8 788.8V678.5M1043.8 792.9V611.4M1044.8 791.7V616.0M1045.8 792.7V570.6M1046.8 794.0V639.8M1047.8 791.9V643.6M1048.8 793.4V658.3M1049.8 793.9V634.6M1050.8 793.9V648.5M1051.8 793.9V636.8M1052.8 791.0V654.4M1053.8 790.7V550.0M1054.8 791.6V633.0M1055.8 793.5V645.3M1056.8 791.9V650.2M1057.8 794.0V680.9M1058.8 790.5V590.9M1059.8 792.4V600.8M1060.8 792.6V666.4M1061.8 793.4V637.8M1062.8 793.6V661.7M1063.8 791.8V688.0M1064.8 792.9V647.0M1065.8 789.9V648.0M1066.8 792.9V613.4M1067.8 793.5V641.2M1068.8 793.2V678.1M1069.8 793.4V674.4M1070.8 792.6V618.0M1071.8 791.2V664.1M1072.8 790.9V656.0M1073.8 793.7V681.0M1074.8 793.5V590.9M1075.8 792.2V685.4M1076.8 794.2V656.6M1077.8 794.3V663.0M1078.8 792.7V680.2M1079.8 794.0V681.7M1080.8 792.6V682.3M1081.8 793.5V683.6M1082.8 791.8V666.8M1083.8 792.6V684.4M1084.8 793.1V677.1M1085.8 791.0V634.0M1086.8 792.8V650.5M1087.8 793.3V494.6M1088.8 792.5V589.6M1089.8 792.5V688.1M1090.8 793.6V642.6M1091.8 792.8V680.6M1092.8 791.3V689.5M1093.8 792.6V680.9M1094.8 793.7V681.3M1095.8 792.9V676.4M1096.8 794.0V680.9M1097.8 792.4V559.0M1098.8 793.4V649.8M1099.8 793.8V630.0M1100.8 793.3V657.0M1101.8 792.1V638.0M1102.8 792.8V616.4M1103.8 793.4V658.1M1104.8 792.0V687.6M1105.8 794.2V665.0M1106.8 790.0V654.0M1107.8 792.9V661.5M1108.8 793.2V654.1M1109.8 793.1V644.8M1110.8 791.3V613.0M1111.8 793.9V666.1M1112.8 793.8V640.4M1113.8 792.8V683.7M1114.8 791.2V658.6M1115.8 793.3V588.6M1116.8 793.1V684.5M1117.8 792.9V679.9M1118.8 793.1V663.0M1119.8 793.8V614.0M1120.8 792.2V615.2M1121.8 792.9V633.7M1122.8 794.0V618.5M1123.8 791.3V626.8M1124.8 789.1V642.8M1125.8 791.9V600.0M1126.8 794.2V600.3M1127.8 791.7V480.0M1128.8 791.7V593.8M1129.8 793.7V643.1M1130.8 793.9V628.9M1131.8 792.7V645.3M1132.8 791.6V593.4M1133.8 794.0V562.0M1134.8 792.4V650.2M1135.8 793.3V643.9M1136.8 793.5V643.4M1137.8 791.9V570.0M1138.8 792.2V611.1M1139.8 793.3V663.8M1140.8 791.9V675.1M1141.8 792.4V670.3M1142.8 793.4V675.7M1143.8 793.5V588.0M1144.8 793.3V611.6M1145.8 791.3V689.3M1146.8 792.3V647.5M1147.8 793.9V631.8M1148.8 794.0V678.0M1149.8 794.1V601.9M1150.8 793.4V588.6M1151.8 792.9V588.6M1152.8 790.4V603.0M1153.8 791.9V600.4M1154.8 788.7V634.5M1155.8 793.6V671.9M1156.8 793.9V676.0M1157.8 793.5V656.9M1158.8 793.7V620.0M1159.8 789.3V671.1M1160.8 792.8V578.0M1161.8 793.5V682.7M1162.8 792.4V608.8M1163.8 792.1V640.8M1164.8 793.5V676.2M1165.8 791.6V629.3M1166.8 793.7V688.3M1167.8 792.7V647.8M1168.8 793.1V644.9M1169.8 792.9V659.6M1170.8 789.2V679.5M1171.8 794.2V682.6M1172.8 793.2V634.3M1173.8 793.7V672.1M1174.8 791.5V678.3M1175.8 793.7V604.3M1176.8 793.3V680.1M1177.8 792.0V648.6M1178.8 793.4V682.6M1179.8 793.0V690.9M1180.8 792.4V664.2M1181.8 794.2V686.8M1182.8 790.4V639.5M1183.8 793.7V686.4M1184.8 792.3V635.6M1185.8 792.9V479.4M1186.8 793.4V682.1M1187.8 793.0V605.8M1188.8 791.4V649.7M1189.8 792.1V640.3M1190.8 793.9V668.5M1191.8 791.5V678.7M1192.8 792.0V535.6M1193.8 793.8V651.2M1194.8 791.1V576.0M1195.8 792.8V672.3M1196.8 792.8V689.0M1197.8 790.3V629.1M1198.8 791.6V680.7M1199.8 792.1V676.8M1200.8 792.6V548.0M1201.8 793.1V643.5M1202.8 789.9V668.3M1203.8 792.1V666.9M1204.8 793.4V690.3M1205.8 792.3V686.9M1206.8 791.2V685.2M1207.8 794.3V690.3M1208.8 788.5V663.6M1209.8 793.4V687.0"/>
<path fill="none" stroke="#6a8bc8" stroke-width="2.8" stroke-linecap="round" d="M149.8 1224.3V1157.4M150.8 1223.6V1104.8M151.8 1224.0V1120.8M152.8 1223.5V1168.8M153.8 1222.1V1132.8M154.8 1222.8V1168.3M155.8 1224.0V1120.8M156.8 1223.2V1165.7M157.8 1223.4V1167.0M158.8 1224.1V1142.0M159.8 1224.2V1100.8M160.8 1223.1V1162.6M161.8 1224.4V1171.4M162.8 1224.4V1166.8M163.8 1223.1V1171.1M164.8 1222.5V1167.8M165.8 1224.1V1170.2M166.8 1222.5V1154.2M167.8 1223.5V1167.4M168.8 1222.9V1143.8M169.8 1224.1V1167.5M170.8 1223.0V1171.2M171.8 1223.6V1167.7M172.8 1223.3V1148.7M173.8 1224.1V1171.4M174.8 1223.4V1121.3M175.8 1223.9V1168.7M176.8 1223.9V1149.1M177.8 1221.3V1169.7M178.8 1223.9V1157.3M179.8 1223.3V1063.7M180.8 1222.8V1155.0M181.8 1223.8V1134.9M182.8 1223.6V1169.4M183.8 1222.7V1079.5M184.8 1223.3V1149.7M185.8 1224.2V1107.0M186.8 1222.4V1135.7M187.8 1223.8V1167.5M188.8 1223.3V1167.5M189.8 1224.1V1170.4M190.8 1224.3V1144.8M191.8 1223.6V1147.6M192.8 1223.8V1089.2M193.8 1222.5V1167.9M194.8 1224.3V1168.0M195.8 1224.0V1157.6M196.8 1223.9V1171.3M197.8 1222.8V1147.7M198.8 1223.3V1155.0M199.8 1223.8V1105.2M200.8 1223.2V1164.3M201.8 1222.2V1169.1M202.8 1224.1V1167.3M203.8 1222.9V1168.2M204.8 1223.2V1143.3M205.8 1224.2V1109.5M206.8 1224.3V1167.5M207.8 1224.4V1167.2M208.8 1224.3V1168.5M209.8 1223.1V1163.7M210.8 1223.6V1167.8M211.8 1222.8V1170.4M212.8 1224.1V1058.8M213.8 1222.3V1125.2M214.8 1224.3V1147.5M215.8 1223.8V1166.8M216.8 1224.2V1163.1M217.8 1224.3V1166.8M218.8 1223.0V1169.8M219.8 1223.4V1148.5M220.8 1223.6V1129.5M221.8 1224.4V1169.5M222.8 1224.3V1169.5M223.8 1223.7V1113.8M224.8 1223.4V1170.1M225.8 1223.3V1140.1M226.8 1223.9V1131.1M227.8 1223.6V1167.5M228.8 1223.6V1120.8M229.8 1223.3V1161.3M230.8 1222.5V1158.2M231.8 1222.8V1145.8M232.8 1223.7V1134.3M233.8 1224.2V1135.8M234.8 1224.2V1060.2M235.8 1223.9V1132.8M236.8 1223.9V1149.2M237.8 1223.4V1144.6M238.8 1224.2V1109.5M239.8 1223.2V1171.2M240.8 1224.1V1170.6M241.8 1223.5V1167.6M242.8 1224.0V1171.4M243.8 1223.8V1169.1M244.8 1224.1V1114.5M245.8 1224.0V1168.3M246.8 1223.7V1172.1M247.8 1223.7V1169.5M248.8 1224.3V1156.8M249.8 1222.2V1168.4M250.8 1224.1V1167.9M251.8 1222.2V1167.2M252.8 1222.8V1148.8M253.8 1223.6V1092.0M254.8 1223.9V1169.7M255.8 1224.3V1171.3M256.8 1223.8V1171.7M257.8 1220.5V1118.2M258.8 1224.3V1160.9M259.8 1224.4V1120.2M260.8 1222.5V1157.5M261.8 1224.3V1166.9M262.8 1224.0V1167.1M263.8 1224.2V1146.1M264.8 1223.1V1156.7M265.8 1224.0V1064.5M266.8 1223.7V1135.7M267.8 1224.1V1157.5M268.8 1224.2V1143.6M269.8 1224.3V1157.6M270.8 1222.8V1120.2M271.8 1224.2V1170.5M272.8 1223.4V1103.2M273.8 1223.8V1138.9M274.8 1223.9V1144.1M275.8 1221.2V1156.7M276.8 1222.8V1170.6M277.8 1223.5V1167.2M278.8 1224.1V1157.3M279.8 1223.8V1092.2M280.8 1224.1V1167.8M281.8 1223.5V1166.9M282.8 1224.3V1164.0M283.8 1223.4V1148.2M284.8 1223.9V1145.6M285.8 1224.4V1167.4M286.8 1223.7V1141.3M287.8 1224.1V1125.8M288.8 1221.7V1139.6M289.8 1222.7V1167.0M290.8 1224.2V1125.8M291.8 1224.1V1162.0M292.8 1224.0V1152.9M293.8 1223.5V1166.7M294.8 1224.3V1113.2M295.8 1224.1V1103.2M296.8 1223.4V1168.6M297.8 1224.2V1170.7M298.8 1224.0V1144.9M299.8 1223.8V1131.8M300.8 1222.0V1143.3M301.8 1224.4V1137.3M302.8 1223.8V1167.8M303.8 1223.5V1170.6M304.8 1221.6V1120.3M305.8 1223.7V1170.5M306.8 1224.2V1155.2M307.8 1224.1V1167.8M308.8 1224.3V1143.6M309.8 1223.3V1152.8M310.8 1223.3V1171.0M311.8 1224.0V1168.5M312.8 1224.3V1167.1M313.8 1224.0V1171.5M314.8 1223.9V1169.4M315.8 1223.0V1169.8M316.8 1223.8V1169.4M317.8 1222.8V1167.4M318.8 1223.9V1117.2M319.8 1222.7V1171.6M320.8 1224.4V1168.7M321.8 1223.4V1153.0M322.8 1224.2V1145.3M323.8 1223.3V1168.8M324.8 1223.9V1164.4M325.8 1223.8V1167.4M326.8 1221.5V1105.8M327.8 1224.1V1130.3M328.8 1223.9V1169.6M329.8 1223.9V1065.8M330.8 1221.6V1046.8M331.8 1224.0V1169.1M332.8 1223.5V1142.7M333.8 1223.9V1160.1M334.8 1224.1V1084.8M335.8 1224.0V1168.9M336.8 1223.4V1156.8M337.8 1222.6V1149.1M338.8 1224.3V1168.2M339.8 1223.9V1171.4M340.8 1223.7V1133.3M341.8 1223.4V1151.1M342.8 1223.8V1166.8M343.8 1223.9V1160.6M344.8 1223.4V1161.0M345.8 1224.1V1146.2M346.8 1223.7V1148.0M347.8 1224.1V1150.5M348.8 1224.2V1169.2M349.8 1223.8V1167.0M350.8 1223.7V1115.8M351.8 1223.2V1155.7M352.8 1223.1V1171.3M353.8 1224.4V1130.7M354.8 1222.5V1164.8M355.8 1223.4V1168.3M356.8 1224.4V1171.5M357.8 1222.0V1163.5M358.8 1223.3V1132.8M359.8 1223.9V1115.8M360.8 1222.7V1153.9M361.8 1223.6V1156.0M362.8 1224.3V1170.5M363.8 1224.2V1085.8M364.8 1223.6V1169.0M365.8 1224.3V1134.2M366.8 1222.9V1152.1M367.8 1224.2V1170.4M368.8 1224.1V1168.0M369.8 1224.3V1169.3M370.8 1222.7V1170.4M371.8 1223.4V1146.0M372.8 1223.7V1144.5M373.8 1224.1V1142.0M374.8 1223.5V1109.5M375.8 1224.4V1160.6M376.8 1223.1V1170.6M377.8 1224.0V1093.2M378.8 1223.2V1155.6M379.8 1224.4V1171.9M380.8 1221.5V1169.6M381.8 1223.0V1171.7M382.8 1223.6V1153.0M383.8 1224.2V1114.5M384.8 1224.0V1125.2M385.8 1224.4V1170.2M386.8 1223.9V1168.3M387.8 1224.3V1171.8M388.8 1224.2V1166.8M389.8 1223.5V1172.1M390.8 1224.2V1167.7M391.8 1223.2V1161.6M392.8 1222.2V1153.9M393.8 1222.5V1170.4M394.8 1224.3V1156.7M395.8 1223.0V1105.2M396.8 1224.1V1167.1M397.8 1222.0V1166.6M398.8 1223.7V1170.3M399.8 1223.5V1167.3M400.8 1223.4V1168.4M401.8 1224.4V1170.4M402.8 1223.3V1168.0M403.8 1223.6V1140.5M404.8 1224.3V1169.3M405.8 1223.6V1110.8M406.8 1224.2V1167.9M407.8 1223.9V1169.6M408.8 1224.0V1161.3M409.8 1224.3V1144.9M410.8 1223.1V1167.8M411.8 1223.9V1167.7M412.8 1223.2V1143.1M413.8 1224.4V1163.2M414.8 1224.1V1166.8M415.8 1223.5V1167.5M416.8 1222.5V1169.0M417.8 1222.8V1154.7M418.8 1222.8V1165.9M419.8 1224.1V1161.9M420.8 1222.4V1141.5M421.8 1224.4V1170.3M422.8 1224.3V1123.2M423.8 1223.0V1161.9M424.8 1223.6V1167.6M425.8 1224.2V1079.5M426.8 1223.4V1172.0M427.8 1224.4V1145.9M428.8 1224.2V1170.2M429.8 1224.1V1159.5M430.8 1223.6V1079.5M431.8 1223.6V1168.9M432.8 1222.2V1161.4M433.8 1223.2V1169.3M434.8 1224.1V1147.0M435.8 1224.2V1114.5M436.8 1224.1V1169.1M437.8 1223.4V1167.9M438.8 1223.2V1074.5M439.8 1223.0V1156.2M440.8 1224.3V1152.6M441.8 1223.9V1154.2M442.8 1222.9V1170.1M443.8 1224.4V1168.9M444.8 1222.5V1169.1M445.8 1223.6V1170.6M446.8 1223.1V1167.7M447.8 1224.4V1157.9M448.8 1222.8V1157.4M449.8 1223.1V1127.0M450.8 1223.5V1142.5M451.8 1221.3V1165.1M452.8 1224.3V1146.1M453.8 1222.9V1132.0M454.8 1223.0V1153.6M455.8 1223.9V1130.4M456.8 1224.4V1120.2M457.8 1224.2V1157.9M458.8 1223.2V1151.3M459.8 1223.6V1137.9M460.8 1223.4V1151.1M461.8 1223.5V1137.2M462.8 1223.8V1128.2M463.8 1224.1V1136.9M464.8 1221.1V1137.9M465.8 1224.1V1131.5M466.8 1222.8V982.5M467.8 1224.4V1146.8M468.8 1224.2V1142.0M469.8 1224.1V1150.8M470.8 1223.8V1123.8M471.8 1223.7V1154.6M472.8 1223.4V1167.8M473.8 1222.4V1163.5M474.8 1223.1V1145.6M475.8 1222.4V1172.0M476.8 1224.1V1167.8M477.8 1224.2V1167.2M478.8 1224.0V1169.2M479.8 1224.1V1168.2M480.8 1223.5V1169.1M481.8 1222.9V1171.5M482.8 1224.2V1172.0M483.8 1224.4V1172.1M484.8 1223.0V1157.2M485.8 1223.2V1144.8M486.8 1221.9V1136.2M487.8 1223.7V1138.1M488.8 1224.4V1158.0M489.8 1222.3V1136.6M490.8 1224.3V1153.0M491.8 1224.2V1147.5M492.8 1222.7V1135.5M493.8 1223.6V1118.0M494.8 1223.7V1065.5M495.8 1223.7V1147.6M496.8 1223.2V1149.5M497.8 1224.2V1167.3M498.8 1224.2V1134.1M499.8 1224.4V1171.9M500.8 1223.1V1166.7M501.8 1223.7V1168.2M502.8 1223.8V1176.3M503.8 1222.5V1192.8M504.8 1224.0V1191.3M505.8 1222.4V1183.8M506.8 1223.0V1182.9M507.8 1223.5V1191.7M508.8 1223.7V1190.9M509.8 1224.2V1193.2M510.8 1222.9V1191.7M511.8 1224.2V1190.9M512.8 1224.2V1190.9M513.8 1224.3V1162.1M514.8 1223.1V1191.5M515.8 1224.4V1176.5M516.8 1223.9V1185.7M517.8 1223.3V1159.5M518.8 1224.0V1066.3M519.8 1221.1V1174.8M520.8 1224.0V1191.5M521.8 1222.4V1183.5M522.8 1222.7V1182.3M523.8 1224.1V1191.2M524.8 1222.8V1191.1M525.8 1222.3V1193.2M526.8 1223.8V1192.0M527.8 1223.9V1192.4M528.8 1223.8V1192.0M529.8 1224.1V1184.2M530.8 1223.7V1174.4M531.8 1224.0V1191.2M532.8 1224.2V1190.2M533.8 1223.3V1174.3M534.8 1224.2V1190.7M535.8 1224.0V1171.7M536.8 1224.4V1185.2M537.8 1223.0V1152.8M538.8 1221.9V1180.7M539.8 1224.2V1188.8M540.8 1223.9V1191.2M541.8 1223.2V1191.7M542.8 1223.8V1190.4M543.8 1223.1V1191.2M544.8 1223.9V1193.1M545.8 1224.2V1193.3M546.8 1222.9V1191.0M547.8 1223.9V1189.0M548.8 1223.7V1190.8M549.8 1224.0V1184.0M550.8 1222.8V1191.0M551.8 1224.1V1180.9M552.8 1224.0V1191.5M553.8 1224.0V1191.6M554.8 1224.3V1190.7M555.8 1223.7V1190.5M556.8 1224.1V1191.2M557.8 1223.5V1191.1M558.8 1222.4V1181.8M559.8 1223.4V1191.9M560.8 1221.8V1193.6M561.8 1224.4V1179.6M562.8 1223.4V1192.0M563.8 1222.7V1191.4M564.8 1223.3V1189.1M565.8 1224.4V1182.2M566.8 1223.6V1185.8M567.8 1223.7V1180.8M568.8 1223.7V1173.3M569.8 1224.2V1191.7M570.8 1224.3V1161.1M571.8 1224.4V1168.2M572.8 1224.0V1182.6M573.8 1223.4V1188.4M574.8 1223.6V1191.7M575.8 1224.0V1147.7M576.8 1223.8V1149.9M577.8 1223.9V1189.7M578.8 1224.3V1193.4M579.8 1223.9V1188.2M580.8 1223.0V1184.0M581.8 1224.4V1147.0M582.8 1222.3V1190.8M583.8 1224.1V1171.5M584.8 1224.3V1190.9M585.8 1222.4V1192.4M586.8 1223.9V1099.5M587.8 1223.7V1186.5M588.8 1223.8V1193.4M589.8 1224.0V1190.4M590.8 1224.0V1182.3M591.8 1224.1V1192.7M592.8 1223.3V1190.9M593.8 1224.0V1184.1M594.8 1224.0V1191.5M595.8 1223.7V1188.4M596.8 1223.7V1191.0M597.8 1223.9V1192.5M598.8 1222.7V1175.0M599.8 1223.9V1192.2M600.8 1224.1V1190.5M601.8 1221.3V1180.2M602.8 1223.7V1189.7M603.8 1223.8V1182.7M604.8 1224.2V1186.0M605.8 1223.4V1191.8M606.8 1224.0V1188.9M607.8 1224.2V1169.1M608.8 1224.1V1172.8M609.8 1223.3V1097.0M610.8 1222.5V1162.4M611.8 1224.2V1144.5M612.8 1224.0V1184.3M613.8 1224.2V1162.8M614.8 1224.4V1165.9M615.8 1223.8V1147.9M616.8 1223.9V1156.4M617.8 1223.5V1152.8M618.8 1223.7V1186.5M619.8 1223.9V1169.9M620.8 1224.0V1192.7M621.8 1222.6V1093.8M622.8 1224.2V1191.2M623.8 1224.2V1191.2M624.8 1223.0V1190.2M625.8 1224.1V1192.5M626.8 1223.6V1117.7M627.8 1223.6V1193.3M628.8 1223.7V1190.4M629.8 1223.4V1191.5M630.8 1224.0V1186.4M631.8 1223.8V1182.7M632.8 1223.2V1190.7M633.8 1221.5V1187.0M634.8 1223.7V1191.1M635.8 1223.7V1191.4M636.8 1223.3V1119.5M637.8 1224.4V1191.1M638.8 1222.8V1177.2M639.8 1222.2V1193.1M640.8 1223.6V1120.8M641.8 1223.5V1172.8M642.8 1223.9V1125.2M643.8 1224.2V1179.3M644.8 1221.9V1161.1M645.8 1224.1V1162.0M646.8 1222.4V1141.8M647.8 1224.1V1166.1M648.8 1224.2V1189.4M649.8 1223.0V1137.1M650.8 1224.2V1157.9M651.8 1224.4V1175.5M652.8 1222.8V991.4M653.8 1224.1V1163.8M654.8 1223.0V1192.4M655.8 1223.9V1002.6M656.8 1223.5V1192.5M657.8 1224.3V1162.5M658.8 1221.7V1190.6M659.8 1223.7V1191.8M660.8 1223.4V1191.7M661.8 1223.8V1159.0M662.8 1223.0V1174.0M663.8 1223.4V1189.1M664.8 1223.8V1191.6M665.8 1224.4V1190.6M666.8 1222.7V1192.5M667.8 1224.4V1165.8M668.8 1224.2V1191.1M669.8 1223.8V1186.1M670.8 1224.1V1193.3M671.8 1223.1V1191.5M672.8 1223.8V1186.8M673.8 1224.0V1192.6M674.8 1224.4V1150.0M675.8 1223.9V1187.9M676.8 1224.0V1110.8M677.8 1224.3V1178.0M678.8 1224.1V1171.6M679.8 1223.6V1134.7M680.8 1223.4V1181.1M681.8 1223.7V1166.7M682.8 1223.8V1181.0M683.8 1224.0V1182.4M684.8 1223.7V1148.9M685.8 1223.9V1179.3M686.8 1222.9V1097.7M687.8 1224.1V1191.4M688.8 1222.0V1186.8M689.8 1223.5V1164.7M690.8 1223.8V1185.4M691.8 1224.3V1183.6M692.8 1223.2V1191.2M693.8 1223.6V1161.8M694.8 1222.5V1162.6M695.8 1223.7V1193.4M696.8 1223.2V1190.4M697.8 1223.3V1192.7M698.8 1222.1V1187.5M699.8 1223.0V1185.1M700.8 1223.0V1190.8M701.8 1223.9V1192.2M702.8 1223.8V1190.7M703.8 1223.4V1163.5M704.8 1223.5V1190.9M705.8 1224.4V1178.4M706.8 1223.4V1183.2M707.8 1224.4V1117.7M708.8 1223.8V1191.4M709.8 1224.3V1188.5M710.8 1223.4V1146.1M711.8 1223.8V1172.5M712.8 1223.1V1160.4M713.8 1224.1V1191.5M714.8 1222.2V1176.5M715.8 1223.6V1138.4M716.8 1223.9V1191.6M717.8 1224.3V1190.0M718.8 1223.5V1165.0M719.8 1224.0V1192.4M720.8 1221.1V1190.5M721.8 1223.6V1168.9M722.8 1224.3V1186.2M723.8 1224.3V1157.2M724.8 1223.7V1182.9M725.8 1223.8V1186.0M726.8 1223.5V1191.4M727.8 1223.7V1122.7M728.8 1223.7V1175.8M729.8 1224.2V1193.5M730.8 1223.8V1178.4M731.8 1223.8V1169.1M732.8 1223.9V1192.9M733.8 1223.8V1143.7M734.8 1223.1V1192.7M735.8 1224.4V1193.4M736.8 1223.6V1164.9M737.8 1221.7V1173.2M738.8 1224.1V1191.0M739.8 1222.3V1173.5M740.8 1224.2V1162.8M741.8 1224.2V1102.0M742.8 1224.2V1165.4M743.8 1224.2V1191.2M744.8 1223.6V1166.0M745.8 1223.3V1190.9M746.8 1224.1V1182.6M747.8 1221.5V1190.6M748.8 1223.3V1190.7M749.8 1223.8V1191.0M750.8 1224.0V1181.5M751.8 1223.7V1185.4M752.8 1224.0V1177.7M753.8 1223.8V1163.0M754.8 1223.8V1179.3M755.8 1222.7V1177.7M756.8 1224.1V1178.2M757.8 1223.4V1192.8M758.8 1223.4V1164.0M759.8 1220.5V1179.1M760.8 1224.0V1193.4M761.8 1224.0V1146.4M762.8 1224.4V1125.2M763.8 1222.6V1191.5M764.8 1223.6V1181.3M765.8 1224.4V1181.1M766.8 1220.8V1183.5M767.8 1220.0V1124.5M768.8 1222.4V1176.3M769.8 1224.0V1193.3M770.8 1223.9V1162.3M771.8 1224.1V1164.1M772.8 1223.1V1183.4M773.8 1224.2V1190.9M774.8 1224.4V1191.4M775.8 1222.7V1156.8M776.8 1224.3V1191.7M777.8 1224.3V1184.1M778.8 1223.4V1179.2M779.8 1223.6V1180.8M780.8 1222.7V1153.1M781.8 1224.0V1193.0M782.8 1222.7V1120.8M783.8 1224.3V1192.1M784.8 1223.9V1173.9M785.8 1223.9V1167.5M786.8 1223.8V1181.8M787.8 1223.7V1191.6M788.8 1223.3V1179.0M789.8 1224.2V1121.3M790.8 1224.3V1016.2M791.8 1224.0V1134.6M792.8 1223.1V1191.6M793.8 1224.4V1152.1M794.8 1224.2V1130.5M795.8 1224.1V1177.2M796.8 1223.1V1191.3M797.8 1224.3V1156.3M798.8 1223.5V1150.0M799.8 1223.3V1184.7M800.8 1224.3V1172.2M801.8 1223.3V1148.3M802.8 1223.8V1172.6M803.8 1224.3V1118.0M804.8 1223.6V1181.1M805.8 1224.1V1135.5M806.8 1224.1V1192.2M807.8 1224.4V1133.0M808.8 1224.3V1168.8M809.8 1224.0V1192.5M810.8 1223.2V1106.3M811.8 1222.9V1165.9M812.8 1224.4V1158.8M813.8 1223.2V1172.0M814.8 1224.4V1131.1M815.8 1223.5V1190.9M816.8 1224.0V1191.2M817.8 1223.9V1145.1M818.8 1223.2V1159.8M819.8 1222.4V1144.0M820.8 1223.3V1160.7M821.8 1224.4V1141.3M822.8 1223.1V1173.4M823.8 1223.6V1184.0M824.8 1223.3V1193.2M825.8 1224.2V1190.6M826.8 1224.2V1192.3M827.8 1223.6V1191.5M828.8 1224.3V1191.0M829.8 1224.4V1193.1M830.8 1224.1V1192.3M831.8 1223.8V1187.7M832.8 1224.2V1170.5M833.8 1222.7V1191.7M834.8 1223.4V1191.4M835.8 1224.3V1089.8M836.8 1223.8V1189.0M837.8 1224.4V1184.7M838.8 1223.8V1188.2M839.8 1224.1V1097.7M840.8 1223.6V1189.8M841.8 1223.5V1189.0M842.8 1223.6V1186.7M843.8 1223.7V1175.3M844.8 1223.7V1185.7M845.8 1224.3V1184.3M846.8 1224.3V1182.9M847.8 1223.5V1183.5M848.8 1222.4V1183.5M849.8 1223.5V1181.8M850.8 1224.2V1180.3M851.8 1222.8V1182.3M852.8 1224.2V1173.7M853.8 1223.1V1182.2M854.8 1223.1V1153.7M855.8 1223.0V1167.9M856.8 1221.4V1119.8M857.8 1221.0V1109.8M858.8 1218.8V988.2M859.8 1221.8V1112.8M860.8 1222.5V1045.1M861.8 1222.1V1070.1M862.8 1221.8V1082.9M863.8 1219.7V1105.3M864.8 1219.4V1094.3M865.8 1217.0V1071.8M866.8 1220.4V1079.3M867.8 1216.9V1061.3M868.8 1221.3V1050.9M869.8 1221.2V1046.5M870.8 1221.3V1031.2M871.8 1222.3V1117.0M872.8 1221.2V1111.9M873.8 1221.6V1116.0M874.8 1221.6V1112.3M875.8 1220.5V1034.2M876.8 1221.0V1111.4M877.8 1220.5V1094.1M878.8 1222.2V1089.9M879.8 1217.5V1077.6M880.8 1219.0V1069.7M881.8 1221.3V1100.2M882.8 1220.3V1097.8M883.8 1220.5V1087.6M884.8 1221.2V1113.3M885.8 1220.1V971.9M886.8 1219.6V1100.7M887.8 1220.2V1106.6M888.8 1219.4V1108.4M889.8 1222.1V1098.8M890.8 1221.1V1096.0M891.8 1222.3V1095.2M892.8 1221.6V1033.2M893.8 1220.0V1098.1M894.8 1221.8V1083.8M895.8 1220.9V1085.4M896.8 1221.0V1111.7M897.8 1221.3V1106.8M898.8 1218.8V1073.0M899.8 1221.9V1112.2M900.8 1220.9V1049.3M901.8 1221.0V1101.3M902.8 1221.5V1116.7M903.8 1220.8V1095.6M904.8 1222.7V1026.2M905.8 1221.6V1083.5M906.8 1221.0V1061.5M907.8 1222.6V1081.8M908.8 1222.6V1117.0M909.8 1219.7V1101.3M910.8 1222.5V1019.2M911.8 1220.4V1117.2M912.8 1221.4V1103.4M913.8 1221.9V1051.0M914.8 1221.2V1064.3M915.8 1220.6V1108.4M916.8 1216.5V1036.8M917.8 1221.4V1041.6M918.8 1221.5V1119.2M919.8 1221.9V1040.1M920.8 1219.8V1109.2M921.8 1220.8V1049.8M922.8 1221.3V937.2M923.8 1221.3V1113.7M924.8 1221.8V1101.4M925.8 1221.8V1097.7M926.8 1221.1V1100.6M927.8 1221.4V1114.8M928.8 1221.3V1114.0M929.8 1222.1V1096.7M930.8 1222.2V1107.3M931.8 1221.4V1033.8M932.8 1222.1V1104.5M933.8 1220.1V1091.1M934.8 1221.2V1086.4M935.8 1220.3V1071.6M936.8 1222.1V1063.7M937.8 1222.5V1102.7M938.8 1221.9V1098.4M939.8 1222.4V1021.2M940.8 1219.9V1108.5M941.8 1221.9V1068.4M942.8 1221.9V1060.9M943.8 1222.1V1040.9M944.8 1222.3V1108.9M945.8 1218.6V1072.2M946.8 1221.9V1108.6M947.8 1221.4V1072.9M948.8 1222.2V1076.7M949.8 1220.7V1062.4M950.8 1221.7V1112.1M951.8 1222.1V1114.6M952.8 1221.5V1080.6M953.8 1221.6V1105.7M954.8 1220.7V1112.1M955.8 1221.4V1081.9M956.8 1220.5V1065.0M957.8 1221.9V1079.0M958.8 1221.0V1091.4M959.8 1221.1V1083.3M960.8 1221.5V1110.7M961.8 1221.2V1091.9M962.8 1219.6V1059.5M963.8 1219.9V1075.8M964.8 1220.8V1094.4M965.8 1219.9V1091.9M966.8 1221.4V1064.2M967.8 1221.2V1106.6M968.8 1221.1V1084.9M969.8 1216.5V1090.6M970.8 1222.3V1089.0M971.8 1222.0V1103.9M972.8 1221.5V1110.7M973.8 1219.2V1088.4M974.8 1221.2V1050.6M975.8 1221.1V1080.7M976.8 1220.9V1026.2M977.8 1221.3V1093.4M978.8 1221.5V1071.8M979.8 1220.0V1111.1M980.8 1222.0V1116.7M981.8 1219.9V1043.2M982.8 1221.6V1116.1M983.8 1220.5V1110.3M984.8 1221.3V1108.3M985.8 1220.8V1109.5M986.8 1221.1V1111.5M987.8 1221.4V1033.1M988.8 1219.1V1113.3M989.8 1220.8V1085.5M990.8 1220.2V1097.1M991.8 1222.2V1087.6M992.8 1221.5V1109.6M993.8 1215.9V1060.2M994.8 1219.0V1112.8M995.8 1220.4V1105.0M996.8 1222.1V1101.7M997.8 1221.9V1066.6M998.8 1220.4V1102.4M999.8 1221.7V1109.3M1000.8 1219.5V1117.4M1001.8 1220.6V1043.2M1002.8 1220.2V1089.2M1003.8 1222.0V1056.0M1004.8 1220.5V1063.1M1005.8 1221.4V1074.2M1006.8 1221.9V1095.0M1007.8 1218.1V1108.5M1008.8 1221.0V1049.5M1009.8 1218.8V1042.4M1010.8 1221.0V1082.7M1011.8 1218.4V1094.4M1012.8 1221.5V1083.8M1013.8 1222.4V1098.8M1014.8 1220.8V1073.2M1015.8 1222.2V1096.7M1016.8 1220.6V1111.7M1017.8 1221.0V1104.8M1018.8 1222.7V1083.7M1019.8 1222.3V1099.5M1020.8 1220.7V1039.1M1021.8 1221.7V1000.2M1022.8 1219.7V1110.9M1023.8 1222.3V1115.3M1024.8 1221.8V1017.2M1025.8 1221.6V1075.7M1026.8 1220.9V1050.0M1027.8 1220.9V1094.3M1028.8 1219.7V1105.2M1029.8 1220.3V1016.2M1030.8 1221.9V1087.8M1031.8 1220.2V1091.8M1032.8 1219.1V1113.8M1033.8 1222.5V1095.8M1034.8 1221.6V1091.7M1035.8 1216.7V1088.5M1036.8 1220.2V1045.2M1037.8 1220.4V1044.2M1038.8 1220.8V1058.3M1039.8 1221.2V1030.8M1040.8 1222.6V1086.2M1041.8 1221.0V1106.6M1042.8 1217.1V1106.8M1043.8 1221.1V1039.6M1044.8 1220.0V1044.2M1045.8 1221.0V998.9M1046.8 1222.3V1068.0M1047.8 1220.1V1071.8M1048.8 1221.7V1086.5M1049.8 1222.2V1062.9M1050.8 1222.1V1076.7M1051.8 1222.2V1065.1M1052.8 1219.3V1082.6M1053.8 1219.0V978.2M1054.8 1219.8V1061.2M1055.8 1221.7V1073.6M1056.8 1220.1V1078.5M1057.8 1222.2V1109.2M1058.8 1218.8V1019.1M1059.8 1220.7V1029.1M1060.8 1220.9V1094.7M1061.8 1221.7V1066.0M1062.8 1221.8V1089.9M1063.8 1220.0V1116.3M1064.8 1221.1V1075.2M1065.8 1218.2V1076.3M1066.8 1221.2V1041.7M1067.8 1221.7V1069.4M1068.8 1221.4V1106.3M1069.8 1221.7V1102.6M1070.8 1220.9V1046.2M1071.8 1219.5V1092.3M1072.8 1219.1V1084.2M1073.8 1222.0V1109.2M1074.8 1221.8V1019.1M1075.8 1220.4V1113.6M1076.8 1222.4V1084.9M1077.8 1222.6V1091.3M1078.8 1221.0V1108.4M1079.8 1222.3V1109.9M1080.8 1220.8V1110.5M1081.8 1221.7V1111.9M1082.8 1220.0V1095.1M1083.8 1220.9V1112.7M1084.8 1221.4V1105.3M1085.8 1219.3V1062.2M1086.8 1221.1V1078.7M1087.8 1221.6V922.9M1088.8 1220.7V1017.9M1089.8 1220.7V1116.3M1090.8 1221.8V1070.9M1091.8 1221.0V1108.9M1092.8 1219.5V1117.7M1093.8 1220.8V1109.1M1094.8 1221.9V1109.5M1095.8 1221.2V1104.6M1096.8 1222.2V1109.2M1097.8 1220.7V987.2M1098.8 1221.7V1078.0M1099.8 1222.0V1058.2M1100.8 1221.5V1085.3M1101.8 1220.3V1066.2M1102.8 1221.1V1044.6M1103.8 1221.6V1086.3M1104.8 1220.3V1115.8M1105.8 1222.5V1093.3M1106.8 1218.3V1082.2M1107.8 1221.2V1089.7M1108.8 1221.5V1082.3M1109.8 1221.3V1073.0M1110.8 1219.6V1041.3M1111.8 1222.2V1094.4M1112.8 1222.1V1068.7M1113.8 1221.0V1111.9M1114.8 1219.5V1086.9M1115.8 1221.6V1016.8M1116.8 1221.4V1112.7M1117.8 1221.1V1108.2M1118.8 1221.3V1091.3M1119.8 1222.1V1042.2M1120.8 1220.5V1043.4M1121.8 1221.2V1061.9M1122.8 1222.2V1046.8M1123.8 1219.5V1055.1M1124.8 1217.4V1071.0M1125.8 1220.1V1028.2M1126.8 1222.5V1028.5M1127.8 1220.0V908.2M1128.8 1220.0V1022.1M1129.8 1222.0V1071.4M1130.8 1222.1V1057.2M1131.8 1221.0V1073.6M1132.8 1219.8V1021.6M1133.8 1222.3V990.2M1134.8 1220.7V1078.5M1135.8 1221.5V1072.1M1136.8 1221.8V1071.7M1137.8 1220.2V998.2M1138.8 1220.5V1039.4M1139.8 1221.5V1092.0M1140.8 1220.2V1103.3M1141.8 1220.7V1098.5M1142.8 1221.7V1104.0M1143.8 1221.8V1016.2M1144.8 1221.5V1039.8M1145.8 1219.6V1117.5M1146.8 1220.5V1075.7M1147.8 1222.2V1060.0M1148.8 1222.3V1106.3M1149.8 1222.3V1030.2M1150.8 1221.7V1016.8M1151.8 1221.2V1016.8M1152.8 1218.7V1031.2M1153.8 1220.1V1028.7M1154.8 1216.9V1062.7M1155.8 1221.8V1100.1M1156.8 1222.2V1104.2M1157.8 1221.8V1085.2M1158.8 1222.0V1048.2M1159.8 1217.6V1099.3M1160.8 1221.0V1006.2M1161.8 1221.7V1110.9M1162.8 1220.6V1037.0M1163.8 1220.3V1069.1M1164.8 1221.7V1104.5M1165.8 1219.9V1057.6M1166.8 1221.9V1116.5M1167.8 1220.9V1076.0M1168.8 1221.3V1073.2M1169.8 1221.1V1087.9M1170.8 1217.5V1107.7M1171.8 1222.4V1110.8M1172.8 1221.5V1062.6M1173.8 1221.9V1100.4M1174.8 1219.7V1106.5M1175.8 1222.0V1032.6M1176.8 1221.6V1108.3M1177.8 1220.3V1076.9M1178.8 1221.6V1110.8M1179.8 1221.2V1119.2M1180.8 1220.7V1092.4M1181.8 1222.4V1115.1M1182.8 1218.6V1067.8M1183.8 1221.9V1114.7M1184.8 1220.5V1063.8M1185.8 1221.2V907.6M1186.8 1221.7V1110.3M1187.8 1221.2V1034.0M1188.8 1219.7V1077.9M1189.8 1220.4V1068.6M1190.8 1222.2V1096.7M1191.8 1219.8V1107.0M1192.8 1220.3V963.9M1193.8 1222.1V1079.5M1194.8 1219.4V1004.2M1195.8 1221.1V1100.6M1196.8 1221.0V1117.2M1197.8 1218.6V1057.4M1198.8 1219.8V1109.0M1199.8 1220.4V1105.0M1200.8 1220.9V976.2M1201.8 1221.3V1071.7M1202.8 1218.1V1096.5M1203.8 1220.3V1095.2M1204.8 1221.7V1118.6M1205.8 1220.6V1115.2M1206.8 1219.4V1113.4M1207.8 1222.6V1118.6M1208.8 1216.7V1091.8M1209.8 1221.7V1115.2"/>
<line x1="503.50" y1="1240.3" x2="503.50" y2="892.2" stroke="#b3262b" stroke-width="2.8" stroke-dasharray="9.7 4.47"/>
<line x1="857.10" y1="1240.3" x2="857.10" y2="892.2" stroke="#b3262b" stroke-width="2.8" stroke-dasharray="9.7 4.47"/>
<rect x="96.3" y="36.0" width="1166.7" height="348.4" fill="none" stroke="#000" stroke-width="1.5"/>
<line x1="149.30" y1="384.4" x2="149.30" y2="390.9" stroke="#000" stroke-width="1.5"/>
<text x="149.50" y="410.30" font-size="14.0" text-anchor="middle">0</text>
<line x1="326.10" y1="384.4" x2="326.10" y2="390.9" stroke="#000" stroke-width="1.5"/>
<text x="326.30" y="410.30" font-size="14.0" text-anchor="middle">2000</text>
<line x1="502.90" y1="384.4" x2="502.90" y2="390.9" stroke="#000" stroke-width="1.5"/>
<text x="503.10" y="410.30" font-size="14.0" text-anchor="middle">4000</text>
<line x1="679.70" y1="384.4" x2="679.70" y2="390.9" stroke="#000" stroke-width="1.5"/>
<text x="679.90" y="410.30" font-size="14.0" text-anchor="middle">6000</text>
<line x1="856.50" y1="384.4" x2="856.50" y2="390.9" stroke="#000" stroke-width="1.5"/>
<text x="856.70" y="410.30" font-size="14.0" text-anchor="middle">8000</text>
<line x1="1033.30" y1="384.4" x2="1033.30" y2="390.9" stroke="#000" stroke-width="1.5"/>
<text x="1033.50" y="410.30" font-size="14.0" text-anchor="middle">10000</text>
<line x1="1210.10" y1="384.4" x2="1210.10" y2="390.9" stroke="#000" stroke-width="1.5"/>
<text x="1210.30" y="410.30" font-size="14.0" text-anchor="middle">12000</text>
<text x="631.60" y="431.90" font-size="16.0" textLength="96.62" lengthAdjust="spacingAndGlyphs">Sample Index</text>
<rect x="96.3" y="463.8" width="1166.7" height="348.2" fill="none" stroke="#000" stroke-width="1.5"/>
<line x1="149.30" y1="812.0" x2="149.30" y2="818.5" stroke="#000" stroke-width="1.5"/>
<text x="149.50" y="837.90" font-size="14.0" text-anchor="middle">0</text>
<line x1="326.10" y1="812.0" x2="326.10" y2="818.5" stroke="#000" stroke-width="1.5"/>
<text x="326.30" y="837.90" font-size="14.0" text-anchor="middle">2000</text>
<line x1="502.90" y1="812.0" x2="502.90" y2="818.5" stroke="#000" stroke-width="1.5"/>
<text x="503.10" y="837.90" font-size="14.0" text-anchor="middle">4000</text>
<line x1="679.70" y1="812.0" x2="679.70" y2="818.5" stroke="#000" stroke-width="1.5"/>
<text x="679.90" y="837.90" font-size="14.0" text-anchor="middle">6000</text>
<line x1="856.50" y1="812.0" x2="856.50" y2="818.5" stroke="#000" stroke-width="1.5"/>
<text x="856.70" y="837.90" font-size="14.0" text-anchor="middle">8000</text>
<line x1="1033.30" y1="812.0" x2="1033.30" y2="818.5" stroke="#000" stroke-width="1.5"/>
<text x="1033.50" y="837.90" font-size="14.0" text-anchor="middle">10000</text>
<line x1="1210.10" y1="812.0" x2="1210.10" y2="818.5" stroke="#000" stroke-width="1.5"/>
<text x="1210.30" y="837.90" font-size="14.0" text-anchor="middle">12000</text>
<text x="631.60" y="859.50" font-size="16.0" textLength="96.62" lengthAdjust="spacingAndGlyphs">Sample Index</text>
<rect x="96.3" y="892.2" width="1166.7" height="348.1" fill="none" stroke="#000" stroke-width="1.5"/>
<line x1="149.30" y1="1240.3" x2="149.30" y2="1246.8" stroke="#000" stroke-width="1.5"/>
<text x="149.50" y="1266.20" font-size="14.0" text-anchor="middle">0</text>
<line x1="326.10" y1="1240.3" x2="326.10" y2="1246.8" stroke="#000" stroke-width="1.5"/>
<text x="326.30" y="1266.20" font-size="14.0" text-anchor="middle">2000</text>
<line x1="502.90" y1="1240.3" x2="502.90" y2="1246.8" stroke="#000" stroke-width="1.5"/>
<text x="503.10" y="1266.20" font-size="14.0" text-anchor="middle">4000</text>
<line x1="679.70" y1="1240.3" x2="679.70" y2="1246.8" stroke="#000" stroke-width="1.5"/>
<text x="679.90" y="1266.20" font-size="14.0" text-anchor="middle">6000</text>
<line x1="856.50" y1="1240.3" x2="856.50" y2="1246.8" stroke="#000" stroke-width="1.5"/>
<text x="856.70" y="1266.20" font-size="14.0" text-anchor="middle">8000</text>
<line x1="1033.30" y1="1240.3" x2="1033.30" y2="1246.8" stroke="#000" stroke-width="1.5"/>
<text x="1033.50" y="1266.20" font-size="14.0" text-anchor="middle">10000</text>
<line x1="1210.10" y1="1240.3" x2="1210.10" y2="1246.8" stroke="#000" stroke-width="1.5"/>
<text x="1210.30" y="1266.20" font-size="14.0" text-anchor="middle">12000</text>
<text x="631.60" y="1287.80" font-size="16.0" textLength="96.62" lengthAdjust="spacingAndGlyphs">Sample Index</text>
<line x1="89.8" y1="354.72" x2="96.3" y2="354.72" stroke="#000" stroke-width="1.5"/>
<text x="84.20" y="361.52" font-size="14.0" text-anchor="end">−4000</text>
<line x1="89.8" y1="279.41" x2="96.3" y2="279.41" stroke="#000" stroke-width="1.5"/>
<text x="84.20" y="286.21" font-size="14.0" text-anchor="end">−2000</text>
<line x1="89.8" y1="204.10" x2="96.3" y2="204.10" stroke="#000" stroke-width="1.5"/>
<text x="84.20" y="210.90" font-size="14.0" text-anchor="end">0</text>
<line x1="89.8" y1="128.79" x2="96.3" y2="128.79" stroke="#000" stroke-width="1.5"/>
<text x="84.20" y="135.59" font-size="14.0" text-anchor="end">2000</text>
<line x1="89.8" y1="53.48" x2="96.3" y2="53.48" stroke="#000" stroke-width="1.5"/>
<text x="84.20" y="60.28" font-size="14.0" text-anchor="end">4000</text>
<line x1="89.8" y1="796.20" x2="96.3" y2="796.20" stroke="#000" stroke-width="1.5"/>
<text x="84.20" y="803.00" font-size="14.0" text-anchor="end">0</text>
<line x1="89.8" y1="751.06" x2="96.3" y2="751.06" stroke="#000" stroke-width="1.5"/>
<text x="84.20" y="757.86" font-size="14.0" text-anchor="end">1</text>
<line x1="89.8" y1="705.93" x2="96.3" y2="705.93" stroke="#000" stroke-width="1.5"/>
<text x="84.20" y="712.73" font-size="14.0" text-anchor="end">2</text>
<line x1="89.8" y1="660.79" x2="96.3" y2="660.79" stroke="#000" stroke-width="1.5"/>
<text x="84.20" y="667.59" font-size="14.0" text-anchor="end">3</text>
<line x1="89.8" y1="615.66" x2="96.3" y2="615.66" stroke="#000" stroke-width="1.5"/>
<text x="84.20" y="622.46" font-size="14.0" text-anchor="end">4</text>
<line x1="89.8" y1="570.52" x2="96.3" y2="570.52" stroke="#000" stroke-width="1.5"/>
<text x="84.20" y="577.32" font-size="14.0" text-anchor="end">5</text>
<line x1="89.8" y1="525.38" x2="96.3" y2="525.38" stroke="#000" stroke-width="1.5"/>
<text x="84.20" y="532.18" font-size="14.0" text-anchor="end">6</text>
<line x1="89.8" y1="480.25" x2="96.3" y2="480.25" stroke="#000" stroke-width="1.5"/>
<text x="84.20" y="487.05" font-size="14.0" text-anchor="end">7</text>
<text x="95.7" y="458.75" font-size="18.7" textLength="33.9" lengthAdjust="spacingAndGlyphs" style="font-family:'DejaVu Sans',sans-serif;stroke-width:0.35px">1e6</text>
<line x1="89.8" y1="1224.45" x2="96.3" y2="1224.45" stroke="#000" stroke-width="1.5"/>
<text x="84.20" y="1231.25" font-size="14.0" text-anchor="end">0</text>
<line x1="89.8" y1="1179.31" x2="96.3" y2="1179.31" stroke="#000" stroke-width="1.5"/>
<text x="84.20" y="1186.11" font-size="14.0" text-anchor="end">1</text>
<line x1="89.8" y1="1134.18" x2="96.3" y2="1134.18" stroke="#000" stroke-width="1.5"/>
<text x="84.20" y="1140.98" font-size="14.0" text-anchor="end">2</text>
<line x1="89.8" y1="1089.04" x2="96.3" y2="1089.04" stroke="#000" stroke-width="1.5"/>
<text x="84.20" y="1095.84" font-size="14.0" text-anchor="end">3</text>
<line x1="89.8" y1="1043.91" x2="96.3" y2="1043.91" stroke="#000" stroke-width="1.5"/>
<text x="84.20" y="1050.71" font-size="14.0" text-anchor="end">4</text>
<line x1="89.8" y1="998.77" x2="96.3" y2="998.77" stroke="#000" stroke-width="1.5"/>
<text x="84.20" y="1005.57" font-size="14.0" text-anchor="end">5</text>
<line x1="89.8" y1="953.63" x2="96.3" y2="953.63" stroke="#000" stroke-width="1.5"/>
<text x="84.20" y="960.43" font-size="14.0" text-anchor="end">6</text>
<line x1="89.8" y1="908.50" x2="96.3" y2="908.50" stroke="#000" stroke-width="1.5"/>
<text x="84.20" y="915.30" font-size="14.0" text-anchor="end">7</text>
<text x="95.7" y="887.15" font-size="18.7" textLength="33.9" lengthAdjust="spacingAndGlyphs" style="font-family:'DejaVu Sans',sans-serif;stroke-width:0.35px">1e6</text>
<text x="646.40" y="25.80" font-size="16.0" textLength="65.62" lengthAdjust="spacingAndGlyphs">Test Data</text>
<text x="583.80" y="453.00" font-size="16.0" textLength="192.63" lengthAdjust="spacingAndGlyphs">Reconstruction Error (MSE)</text>
<text x="583.80" y="881.20" font-size="16.0" textLength="192.63" lengthAdjust="spacingAndGlyphs">Reconstruction Error (MSE)</text>
<text transform="translate(32.30,234.60) rotate(-90)" font-size="16.0" textLength="-46.61" lengthAdjust="spacingAndGlyphs">Values</text>
<text transform="translate(66.20,661.80) rotate(-90)" font-size="16.0" textLength="-47.21" lengthAdjust="spacingAndGlyphs">Values</text>
<text transform="translate(66.10,1086.00) rotate(-90)" font-size="16.0" textLength="-37.81" lengthAdjust="spacingAndGlyphs">Value</text>
<rect x="105.4" y="296.7" width="72.1" height="78.1" rx="2.6" fill="#fff" fill-opacity="0.8" stroke="#cccccc" stroke-width="1.5"/>
<line x1="111.1" y1="310.1" x2="148.9" y2="310.1" stroke="#6a8bc8" stroke-width="2.8"/>
<text x="161.40" y="316.10" font-size="16.0" textLength="10.36" lengthAdjust="spacingAndGlyphs">X</text>
<line x1="111.1" y1="334.75" x2="148.9" y2="334.75" stroke="#1f5394" stroke-width="2.8"/>
<text x="161.40" y="340.75" font-size="16.0" textLength="10.36" lengthAdjust="spacingAndGlyphs">Y</text>
<line x1="111.1" y1="359.4" x2="148.9" y2="359.4" stroke="#8aac45" stroke-width="2.8"/>
<text x="161.40" y="365.40" font-size="16.0" textLength="9.61" lengthAdjust="spacingAndGlyphs">Z</text>
<rect x="105.4" y="472.9" width="124.7" height="54.0" rx="2.6" fill="#fff" fill-opacity="0.8" stroke="#cccccc" stroke-width="1.5"/>
<line x1="111.1" y1="486.2" x2="148.9" y2="486.2" stroke="#6a8bc8" stroke-width="2.8"/>
<circle cx="130.1" cy="512.05" r="6.2" fill="#cc2b2e"/>
<text x="161.00" y="492.75" font-size="16.0" textLength="30.81" lengthAdjust="spacingAndGlyphs">MSE</text>
<text x="161.80" y="517.25" font-size="16.0" textLength="61.80" lengthAdjust="spacingAndGlyphs">Anomaly</text>
<rect x="105.4" y="900.8" width="207.9" height="53.8" rx="2.6" fill="#fff" fill-opacity="0.8" stroke="#cccccc" stroke-width="1.5"/>
<line x1="111.1" y1="913.9" x2="148.9" y2="913.9" stroke="#6a8bc8" stroke-width="2.8"/>
<line x1="111.9" y1="938.5" x2="148.2" y2="938.5" stroke="#b3262b" stroke-width="2.8" stroke-dasharray="9.9 4.4"/>
<text x="161.40" y="920.60" font-size="16.0" textLength="144.61" lengthAdjust="spacingAndGlyphs">Reconstruction Error</text>
<text x="161.40" y="945.10" font-size="16.0" textLength="94.01" lengthAdjust="spacingAndGlyphs">Change Point</text>
</g></svg></body></html>
